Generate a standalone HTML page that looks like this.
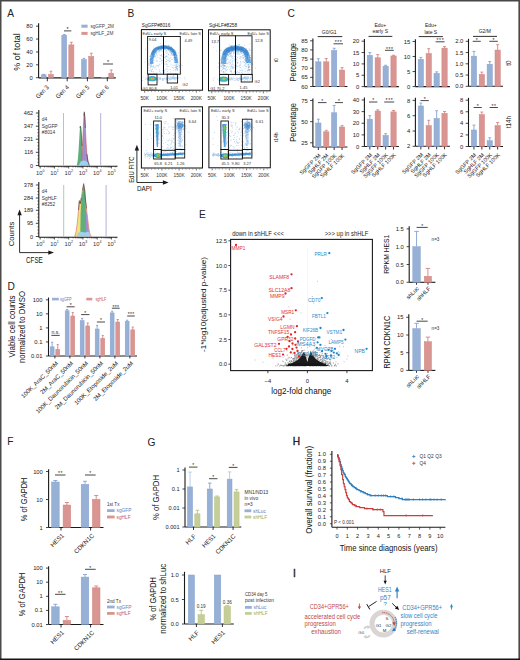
<!DOCTYPE html>
<html><head><meta charset="utf-8"><title>Figure</title>
<style>
html,body{margin:0;padding:0;background:#fff;width:520px;height:660px;overflow:hidden;}
svg{display:block;font-family:"Liberation Sans", sans-serif;}
</style></head><body>
<svg width="520" height="660" viewBox="0 0 520 660" font-family='Liberation Sans, sans-serif'>
<defs><filter id="bl" x="-20%" y="-20%" width="140%" height="140%"><feGaussianBlur stdDeviation="0.7"/></filter><filter id="bl2" x="-50%" y="-50%" width="200%" height="200%"><feGaussianBlur stdDeviation="1.2"/></filter></defs>
<rect x="0" y="0" width="520" height="660" fill="#ffffff"/>
<text x="7.3" y="16.9" font-size="10.2" text-anchor="start" fill="#222">A</text>
<text x="127.6" y="17.2" font-size="10.2" text-anchor="start" fill="#222">B</text>
<text x="287.6" y="17.2" font-size="10.2" text-anchor="start" fill="#222">C</text>
<text x="7.4" y="289.5" font-size="10.2" text-anchor="start" fill="#222">D</text>
<text x="199" y="217.8" font-size="10.2" text-anchor="start" fill="#222">E</text>
<text x="7.2" y="445.2" font-size="10.2" text-anchor="start" fill="#222">F</text>
<text x="147.6" y="445.6" font-size="10.2" text-anchor="start" fill="#222">G</text>
<text x="292.8" y="445.3" font-size="10.2" text-anchor="start" fill="#222" stroke="#222" stroke-width="0.35">H</text>
<text x="292.9" y="577.2" font-size="10.2" text-anchor="start" fill="#222" stroke="#222" stroke-width="0.35">I</text>
<line x1="38.6" y1="23.2" x2="38.6" y2="77.9" stroke="#1a1a1a" stroke-width="1.1"/>
<line x1="36" y1="77.7" x2="38.6" y2="77.7" stroke="#1a1a1a" stroke-width="0.8"/>
<text x="32.8" y="79.79" font-size="5.8" text-anchor="end" fill="#222">0</text>
<line x1="36" y1="64.82" x2="38.6" y2="64.82" stroke="#1a1a1a" stroke-width="0.8"/>
<text x="32.8" y="66.91" font-size="5.8" text-anchor="end" fill="#222">20</text>
<line x1="36" y1="51.94" x2="38.6" y2="51.94" stroke="#1a1a1a" stroke-width="0.8"/>
<text x="32.8" y="54.03" font-size="5.8" text-anchor="end" fill="#222">40</text>
<line x1="36" y1="39.06" x2="38.6" y2="39.06" stroke="#1a1a1a" stroke-width="0.8"/>
<text x="32.8" y="41.15" font-size="5.8" text-anchor="end" fill="#222">60</text>
<line x1="36" y1="26.18" x2="38.6" y2="26.18" stroke="#1a1a1a" stroke-width="0.8"/>
<text x="32.8" y="28.27" font-size="5.8" text-anchor="end" fill="#222">80</text>
<line x1="38.6" y1="77.9" x2="115.8" y2="77.9" stroke="#1a1a1a" stroke-width="1.1"/>
<line x1="47.3" y1="77.9" x2="47.3" y2="81.3" stroke="#1a1a1a" stroke-width="0.9"/>
<line x1="67.2" y1="77.9" x2="67.2" y2="81.3" stroke="#1a1a1a" stroke-width="0.9"/>
<line x1="87.4" y1="77.9" x2="87.4" y2="81.3" stroke="#1a1a1a" stroke-width="0.9"/>
<line x1="107.3" y1="77.9" x2="107.3" y2="81.3" stroke="#1a1a1a" stroke-width="0.9"/>
<line x1="43.7" y1="74.35" x2="43.7" y2="74.8" stroke="#86a2d0" stroke-width="0.9"/>
<line x1="42.38" y1="74.35" x2="45.02" y2="74.35" stroke="#86a2d0" stroke-width="0.9"/>
<rect x="41.3" y="74.8" width="4.8" height="3.1" fill="#97b0d6" stroke="#86a2d0" stroke-width="0.5"/>
<line x1="50.95" y1="71.26" x2="50.95" y2="74.48" stroke="#d28480" stroke-width="0.9"/>
<line x1="49.6" y1="71.26" x2="52.3" y2="71.26" stroke="#d28480" stroke-width="0.9"/>
<rect x="48.5" y="74.48" width="4.9" height="3.42" fill="#d99591" stroke="#d28480" stroke-width="0.5"/>
<line x1="64.25" y1="34.55" x2="64.25" y2="35.2" stroke="#86a2d0" stroke-width="0.9"/>
<line x1="62.9" y1="34.55" x2="65.6" y2="34.55" stroke="#86a2d0" stroke-width="0.9"/>
<rect x="61.8" y="35.2" width="4.9" height="42.7" fill="#97b0d6" stroke="#86a2d0" stroke-width="0.5"/>
<line x1="71.35" y1="42.28" x2="71.35" y2="44.86" stroke="#d28480" stroke-width="0.9"/>
<line x1="69.95" y1="42.28" x2="72.75" y2="42.28" stroke="#d28480" stroke-width="0.9"/>
<rect x="68.8" y="44.86" width="5.1" height="33.04" fill="#d99591" stroke="#d28480" stroke-width="0.5"/>
<line x1="83.9" y1="58.38" x2="83.9" y2="59.67" stroke="#86a2d0" stroke-width="0.9"/>
<line x1="82.58" y1="58.38" x2="85.22" y2="58.38" stroke="#86a2d0" stroke-width="0.9"/>
<rect x="81.5" y="59.67" width="4.8" height="18.23" fill="#97b0d6" stroke="#86a2d0" stroke-width="0.5"/>
<line x1="91.25" y1="53.23" x2="91.25" y2="56.45" stroke="#d28480" stroke-width="0.9"/>
<line x1="89.85" y1="53.23" x2="92.65" y2="53.23" stroke="#d28480" stroke-width="0.9"/>
<rect x="88.7" y="56.45" width="5.1" height="21.45" fill="#d99591" stroke="#d28480" stroke-width="0.5"/>
<rect x="101.6" y="77.31" width="4.9" height="0.59" fill="#97b0d6" stroke="#86a2d0" stroke-width="0.5"/>
<line x1="111.25" y1="69.97" x2="111.25" y2="73.19" stroke="#d28480" stroke-width="0.9"/>
<line x1="109.9" y1="69.97" x2="112.6" y2="69.97" stroke="#d28480" stroke-width="0.9"/>
<rect x="108.8" y="73.19" width="4.9" height="4.71" fill="#d99591" stroke="#d28480" stroke-width="0.5"/>
<line x1="64" y1="30.9" x2="71.3" y2="30.9" stroke="#1a1a1a" stroke-width="0.8"/>
<text x="67.65" y="31.2" font-size="5.5" text-anchor="middle" fill="#222">*</text>
<line x1="103" y1="64" x2="113" y2="64" stroke="#1a1a1a" stroke-width="0.8"/>
<text x="108" y="64.3" font-size="5.5" text-anchor="middle" fill="#222">*</text>
<rect x="81.4" y="24.7" width="6.2" height="3" fill="#97b0d6"/>
<text x="90.4" y="27.8" font-size="4.8" text-anchor="start" fill="#444" textLength="23.6" lengthAdjust="spacingAndGlyphs">sgGFP_2M</text>
<rect x="81.4" y="31.9" width="6.2" height="3" fill="#d99591"/>
<text x="90.4" y="35" font-size="4.8" text-anchor="start" fill="#444" textLength="23" lengthAdjust="spacingAndGlyphs">sgHLF_2M</text>
<text x="49.4" y="87.8" font-size="6.4" text-anchor="end" fill="#222" transform="rotate(-45 49.4 87.8)" textLength="15.8" lengthAdjust="spacingAndGlyphs">Gen 3</text>
<text x="69.5" y="87.8" font-size="6.4" text-anchor="end" fill="#222" transform="rotate(-45 69.5 87.8)" textLength="15.8" lengthAdjust="spacingAndGlyphs">Gen 4</text>
<text x="89.7" y="87.8" font-size="6.4" text-anchor="end" fill="#222" transform="rotate(-45 89.7 87.8)" textLength="15.8" lengthAdjust="spacingAndGlyphs">Gen 5</text>
<text x="109.4" y="87.8" font-size="6.4" text-anchor="end" fill="#222" transform="rotate(-45 109.4 87.8)" textLength="15.8" lengthAdjust="spacingAndGlyphs">Gen 6</text>
<text x="20.3" y="52" font-size="9" text-anchor="middle" fill="#111" transform="rotate(-90 20.3 52)">% of total</text>
<line x1="38.8" y1="110" x2="38.8" y2="166.3" stroke="#1a1a1a" stroke-width="1.1"/>
<line x1="35.8" y1="113" x2="38.8" y2="113" stroke="#1a1a1a" stroke-width="0.8"/>
<text x="33.2" y="115.02" font-size="5.6" text-anchor="end" fill="#222">462</text>
<line x1="35.8" y1="126.2" x2="38.8" y2="126.2" stroke="#1a1a1a" stroke-width="0.8"/>
<text x="33.2" y="128.22" font-size="5.6" text-anchor="end" fill="#222">347</text>
<line x1="35.8" y1="139.2" x2="38.8" y2="139.2" stroke="#1a1a1a" stroke-width="0.8"/>
<text x="33.2" y="141.22" font-size="5.6" text-anchor="end" fill="#222">231</text>
<line x1="35.8" y1="152.3" x2="38.8" y2="152.3" stroke="#1a1a1a" stroke-width="0.8"/>
<text x="33.2" y="154.32" font-size="5.6" text-anchor="end" fill="#222">116</text>
<line x1="35.8" y1="165.5" x2="38.8" y2="165.5" stroke="#1a1a1a" stroke-width="0.8"/>
<text x="33.2" y="167.52" font-size="5.6" text-anchor="end" fill="#222">0</text>
<line x1="37.4" y1="116.28" x2="38.8" y2="116.28" stroke="#1a1a1a" stroke-width="0.6"/>
<line x1="37.4" y1="119.56" x2="38.8" y2="119.56" stroke="#1a1a1a" stroke-width="0.6"/>
<line x1="37.4" y1="122.84" x2="38.8" y2="122.84" stroke="#1a1a1a" stroke-width="0.6"/>
<line x1="37.4" y1="129.41" x2="38.8" y2="129.41" stroke="#1a1a1a" stroke-width="0.6"/>
<line x1="37.4" y1="132.69" x2="38.8" y2="132.69" stroke="#1a1a1a" stroke-width="0.6"/>
<line x1="37.4" y1="135.97" x2="38.8" y2="135.97" stroke="#1a1a1a" stroke-width="0.6"/>
<line x1="37.4" y1="142.53" x2="38.8" y2="142.53" stroke="#1a1a1a" stroke-width="0.6"/>
<line x1="37.4" y1="145.81" x2="38.8" y2="145.81" stroke="#1a1a1a" stroke-width="0.6"/>
<line x1="37.4" y1="149.09" x2="38.8" y2="149.09" stroke="#1a1a1a" stroke-width="0.6"/>
<line x1="37.4" y1="155.66" x2="38.8" y2="155.66" stroke="#1a1a1a" stroke-width="0.6"/>
<line x1="37.4" y1="158.94" x2="38.8" y2="158.94" stroke="#1a1a1a" stroke-width="0.6"/>
<line x1="37.4" y1="162.22" x2="38.8" y2="162.22" stroke="#1a1a1a" stroke-width="0.6"/>
<line x1="38.8" y1="166.3" x2="117.5" y2="166.3" stroke="#1a1a1a" stroke-width="1.1"/>
<line x1="40.2" y1="166.3" x2="40.2" y2="168.5" stroke="#1a1a1a" stroke-width="0.7"/>
<line x1="44.49" y1="166.3" x2="44.49" y2="167.5" stroke="#1a1a1a" stroke-width="0.5"/>
<line x1="47" y1="166.3" x2="47" y2="167.5" stroke="#1a1a1a" stroke-width="0.5"/>
<line x1="48.78" y1="166.3" x2="48.78" y2="167.5" stroke="#1a1a1a" stroke-width="0.5"/>
<line x1="50.16" y1="166.3" x2="50.16" y2="167.5" stroke="#1a1a1a" stroke-width="0.5"/>
<line x1="51.29" y1="166.3" x2="51.29" y2="167.5" stroke="#1a1a1a" stroke-width="0.5"/>
<line x1="52.24" y1="166.3" x2="52.24" y2="167.5" stroke="#1a1a1a" stroke-width="0.5"/>
<line x1="53.07" y1="166.3" x2="53.07" y2="167.5" stroke="#1a1a1a" stroke-width="0.5"/>
<line x1="53.8" y1="166.3" x2="53.8" y2="167.5" stroke="#1a1a1a" stroke-width="0.5"/>
<text x="39.2" y="175.3" font-size="5.8" text-anchor="middle" fill="#333">10</text>
<text x="42.4" y="172.2" font-size="3.6" text-anchor="start" fill="#333">0</text>
<line x1="54.45" y1="166.3" x2="54.45" y2="168.5" stroke="#1a1a1a" stroke-width="0.7"/>
<line x1="58.74" y1="166.3" x2="58.74" y2="167.5" stroke="#1a1a1a" stroke-width="0.5"/>
<line x1="61.25" y1="166.3" x2="61.25" y2="167.5" stroke="#1a1a1a" stroke-width="0.5"/>
<line x1="63.03" y1="166.3" x2="63.03" y2="167.5" stroke="#1a1a1a" stroke-width="0.5"/>
<line x1="64.41" y1="166.3" x2="64.41" y2="167.5" stroke="#1a1a1a" stroke-width="0.5"/>
<line x1="65.54" y1="166.3" x2="65.54" y2="167.5" stroke="#1a1a1a" stroke-width="0.5"/>
<line x1="66.49" y1="166.3" x2="66.49" y2="167.5" stroke="#1a1a1a" stroke-width="0.5"/>
<line x1="67.32" y1="166.3" x2="67.32" y2="167.5" stroke="#1a1a1a" stroke-width="0.5"/>
<line x1="68.05" y1="166.3" x2="68.05" y2="167.5" stroke="#1a1a1a" stroke-width="0.5"/>
<text x="53.45" y="175.3" font-size="5.8" text-anchor="middle" fill="#333">10</text>
<text x="56.65" y="172.2" font-size="3.6" text-anchor="start" fill="#333">1</text>
<line x1="68.7" y1="166.3" x2="68.7" y2="168.5" stroke="#1a1a1a" stroke-width="0.7"/>
<line x1="72.99" y1="166.3" x2="72.99" y2="167.5" stroke="#1a1a1a" stroke-width="0.5"/>
<line x1="75.5" y1="166.3" x2="75.5" y2="167.5" stroke="#1a1a1a" stroke-width="0.5"/>
<line x1="77.28" y1="166.3" x2="77.28" y2="167.5" stroke="#1a1a1a" stroke-width="0.5"/>
<line x1="78.66" y1="166.3" x2="78.66" y2="167.5" stroke="#1a1a1a" stroke-width="0.5"/>
<line x1="79.79" y1="166.3" x2="79.79" y2="167.5" stroke="#1a1a1a" stroke-width="0.5"/>
<line x1="80.74" y1="166.3" x2="80.74" y2="167.5" stroke="#1a1a1a" stroke-width="0.5"/>
<line x1="81.57" y1="166.3" x2="81.57" y2="167.5" stroke="#1a1a1a" stroke-width="0.5"/>
<line x1="82.3" y1="166.3" x2="82.3" y2="167.5" stroke="#1a1a1a" stroke-width="0.5"/>
<text x="67.7" y="175.3" font-size="5.8" text-anchor="middle" fill="#333">10</text>
<text x="70.9" y="172.2" font-size="3.6" text-anchor="start" fill="#333">2</text>
<line x1="82.95" y1="166.3" x2="82.95" y2="168.5" stroke="#1a1a1a" stroke-width="0.7"/>
<line x1="87.24" y1="166.3" x2="87.24" y2="167.5" stroke="#1a1a1a" stroke-width="0.5"/>
<line x1="89.75" y1="166.3" x2="89.75" y2="167.5" stroke="#1a1a1a" stroke-width="0.5"/>
<line x1="91.53" y1="166.3" x2="91.53" y2="167.5" stroke="#1a1a1a" stroke-width="0.5"/>
<line x1="92.91" y1="166.3" x2="92.91" y2="167.5" stroke="#1a1a1a" stroke-width="0.5"/>
<line x1="94.04" y1="166.3" x2="94.04" y2="167.5" stroke="#1a1a1a" stroke-width="0.5"/>
<line x1="94.99" y1="166.3" x2="94.99" y2="167.5" stroke="#1a1a1a" stroke-width="0.5"/>
<line x1="95.82" y1="166.3" x2="95.82" y2="167.5" stroke="#1a1a1a" stroke-width="0.5"/>
<line x1="96.55" y1="166.3" x2="96.55" y2="167.5" stroke="#1a1a1a" stroke-width="0.5"/>
<text x="81.95" y="175.3" font-size="5.8" text-anchor="middle" fill="#333">10</text>
<text x="85.15" y="172.2" font-size="3.6" text-anchor="start" fill="#333">3</text>
<line x1="97.2" y1="166.3" x2="97.2" y2="168.5" stroke="#1a1a1a" stroke-width="0.7"/>
<line x1="101.49" y1="166.3" x2="101.49" y2="167.5" stroke="#1a1a1a" stroke-width="0.5"/>
<line x1="104" y1="166.3" x2="104" y2="167.5" stroke="#1a1a1a" stroke-width="0.5"/>
<line x1="105.78" y1="166.3" x2="105.78" y2="167.5" stroke="#1a1a1a" stroke-width="0.5"/>
<line x1="107.16" y1="166.3" x2="107.16" y2="167.5" stroke="#1a1a1a" stroke-width="0.5"/>
<line x1="108.29" y1="166.3" x2="108.29" y2="167.5" stroke="#1a1a1a" stroke-width="0.5"/>
<line x1="109.24" y1="166.3" x2="109.24" y2="167.5" stroke="#1a1a1a" stroke-width="0.5"/>
<line x1="110.07" y1="166.3" x2="110.07" y2="167.5" stroke="#1a1a1a" stroke-width="0.5"/>
<line x1="110.8" y1="166.3" x2="110.8" y2="167.5" stroke="#1a1a1a" stroke-width="0.5"/>
<text x="96.2" y="175.3" font-size="5.8" text-anchor="middle" fill="#333">10</text>
<text x="99.4" y="172.2" font-size="3.6" text-anchor="start" fill="#333">4</text>
<line x1="111.45" y1="166.3" x2="111.45" y2="168.5" stroke="#1a1a1a" stroke-width="0.7"/>
<line x1="115.74" y1="166.3" x2="115.74" y2="167.5" stroke="#1a1a1a" stroke-width="0.5"/>
<text x="110.45" y="175.3" font-size="5.8" text-anchor="middle" fill="#333">10</text>
<text x="113.65" y="172.2" font-size="3.6" text-anchor="start" fill="#333">5</text>
<line x1="63.5" y1="113" x2="63.5" y2="165.5" stroke="#8cc4a4" stroke-width="0.8"/>
<line x1="100.7" y1="113" x2="100.7" y2="165.5" stroke="#a49ccc" stroke-width="0.8"/>
<text x="41.8" y="121.3" font-size="4.8" text-anchor="start" fill="#333">d4</text>
<text x="41.8" y="127.65" font-size="4.8" text-anchor="start" fill="#333">SgGFP</text>
<text x="41.8" y="134" font-size="4.8" text-anchor="start" fill="#333">#8014</text>
<path d="M76.8 165.5 L77.8 160 L78.6 150 L79.3 138 L79.9 128 L80.3 126.0 L80.9 128 L81.5 136 L82.1 146 L82.8 156 L83.8 165.5 Z" fill="#5fae7c"/>
<path d="M81.2 165.5 L82.0 156 L82.7 142 L83.3 128 L83.9 116 L84.3 113.2 L84.8 117 L85.4 128 L86.1 142 L86.9 154 L87.9 161 L89.3 165.5 Z" fill="#a08ed0" stroke="#d0504a" stroke-width="0.5"/>
<path d="M78.8 165.5 L80.6 161.5 L83.0 160.5 L85.6 160.8 L87.8 162.4 L89.6 165.5 Z" fill="#9fd0ec"/>
<path d="M79.9 128 L80.3 126.0 L80.9 128 L81.5 136 L82.1 146" fill="none" stroke="#222" stroke-width="0.5"/>
<path d="M83.9 116 L84.3 111.8 L84.8 117 L85.4 128" fill="none" stroke="#222" stroke-width="0.5"/>
<path d="M86.9 154 L87.9 161 L89.3 165.5" fill="none" stroke="#222" stroke-width="0.5"/>
<line x1="38.8" y1="182" x2="38.8" y2="237.3" stroke="#1a1a1a" stroke-width="1.1"/>
<line x1="35.8" y1="185" x2="38.8" y2="185" stroke="#1a1a1a" stroke-width="0.8"/>
<text x="33.2" y="187.02" font-size="5.6" text-anchor="end" fill="#222">378</text>
<line x1="35.8" y1="198" x2="38.8" y2="198" stroke="#1a1a1a" stroke-width="0.8"/>
<text x="33.2" y="200.02" font-size="5.6" text-anchor="end" fill="#222">284</text>
<line x1="35.8" y1="210.3" x2="38.8" y2="210.3" stroke="#1a1a1a" stroke-width="0.8"/>
<text x="33.2" y="212.32" font-size="5.6" text-anchor="end" fill="#222">189</text>
<line x1="35.8" y1="223.3" x2="38.8" y2="223.3" stroke="#1a1a1a" stroke-width="0.8"/>
<text x="33.2" y="225.32" font-size="5.6" text-anchor="end" fill="#222">95</text>
<line x1="35.8" y1="236.5" x2="38.8" y2="236.5" stroke="#1a1a1a" stroke-width="0.8"/>
<text x="33.2" y="238.52" font-size="5.6" text-anchor="end" fill="#222">0</text>
<line x1="37.4" y1="188.22" x2="38.8" y2="188.22" stroke="#1a1a1a" stroke-width="0.6"/>
<line x1="37.4" y1="191.44" x2="38.8" y2="191.44" stroke="#1a1a1a" stroke-width="0.6"/>
<line x1="37.4" y1="194.66" x2="38.8" y2="194.66" stroke="#1a1a1a" stroke-width="0.6"/>
<line x1="37.4" y1="201.09" x2="38.8" y2="201.09" stroke="#1a1a1a" stroke-width="0.6"/>
<line x1="37.4" y1="204.31" x2="38.8" y2="204.31" stroke="#1a1a1a" stroke-width="0.6"/>
<line x1="37.4" y1="207.53" x2="38.8" y2="207.53" stroke="#1a1a1a" stroke-width="0.6"/>
<line x1="37.4" y1="213.97" x2="38.8" y2="213.97" stroke="#1a1a1a" stroke-width="0.6"/>
<line x1="37.4" y1="217.19" x2="38.8" y2="217.19" stroke="#1a1a1a" stroke-width="0.6"/>
<line x1="37.4" y1="220.41" x2="38.8" y2="220.41" stroke="#1a1a1a" stroke-width="0.6"/>
<line x1="37.4" y1="226.84" x2="38.8" y2="226.84" stroke="#1a1a1a" stroke-width="0.6"/>
<line x1="37.4" y1="230.06" x2="38.8" y2="230.06" stroke="#1a1a1a" stroke-width="0.6"/>
<line x1="37.4" y1="233.28" x2="38.8" y2="233.28" stroke="#1a1a1a" stroke-width="0.6"/>
<line x1="38.8" y1="237.3" x2="117.5" y2="237.3" stroke="#1a1a1a" stroke-width="1.1"/>
<line x1="40.2" y1="237.3" x2="40.2" y2="239.5" stroke="#1a1a1a" stroke-width="0.7"/>
<line x1="44.49" y1="237.3" x2="44.49" y2="238.5" stroke="#1a1a1a" stroke-width="0.5"/>
<line x1="47" y1="237.3" x2="47" y2="238.5" stroke="#1a1a1a" stroke-width="0.5"/>
<line x1="48.78" y1="237.3" x2="48.78" y2="238.5" stroke="#1a1a1a" stroke-width="0.5"/>
<line x1="50.16" y1="237.3" x2="50.16" y2="238.5" stroke="#1a1a1a" stroke-width="0.5"/>
<line x1="51.29" y1="237.3" x2="51.29" y2="238.5" stroke="#1a1a1a" stroke-width="0.5"/>
<line x1="52.24" y1="237.3" x2="52.24" y2="238.5" stroke="#1a1a1a" stroke-width="0.5"/>
<line x1="53.07" y1="237.3" x2="53.07" y2="238.5" stroke="#1a1a1a" stroke-width="0.5"/>
<line x1="53.8" y1="237.3" x2="53.8" y2="238.5" stroke="#1a1a1a" stroke-width="0.5"/>
<text x="39.2" y="246.3" font-size="5.8" text-anchor="middle" fill="#333">10</text>
<text x="42.4" y="243.2" font-size="3.6" text-anchor="start" fill="#333">0</text>
<line x1="54.45" y1="237.3" x2="54.45" y2="239.5" stroke="#1a1a1a" stroke-width="0.7"/>
<line x1="58.74" y1="237.3" x2="58.74" y2="238.5" stroke="#1a1a1a" stroke-width="0.5"/>
<line x1="61.25" y1="237.3" x2="61.25" y2="238.5" stroke="#1a1a1a" stroke-width="0.5"/>
<line x1="63.03" y1="237.3" x2="63.03" y2="238.5" stroke="#1a1a1a" stroke-width="0.5"/>
<line x1="64.41" y1="237.3" x2="64.41" y2="238.5" stroke="#1a1a1a" stroke-width="0.5"/>
<line x1="65.54" y1="237.3" x2="65.54" y2="238.5" stroke="#1a1a1a" stroke-width="0.5"/>
<line x1="66.49" y1="237.3" x2="66.49" y2="238.5" stroke="#1a1a1a" stroke-width="0.5"/>
<line x1="67.32" y1="237.3" x2="67.32" y2="238.5" stroke="#1a1a1a" stroke-width="0.5"/>
<line x1="68.05" y1="237.3" x2="68.05" y2="238.5" stroke="#1a1a1a" stroke-width="0.5"/>
<text x="53.45" y="246.3" font-size="5.8" text-anchor="middle" fill="#333">10</text>
<text x="56.65" y="243.2" font-size="3.6" text-anchor="start" fill="#333">1</text>
<line x1="68.7" y1="237.3" x2="68.7" y2="239.5" stroke="#1a1a1a" stroke-width="0.7"/>
<line x1="72.99" y1="237.3" x2="72.99" y2="238.5" stroke="#1a1a1a" stroke-width="0.5"/>
<line x1="75.5" y1="237.3" x2="75.5" y2="238.5" stroke="#1a1a1a" stroke-width="0.5"/>
<line x1="77.28" y1="237.3" x2="77.28" y2="238.5" stroke="#1a1a1a" stroke-width="0.5"/>
<line x1="78.66" y1="237.3" x2="78.66" y2="238.5" stroke="#1a1a1a" stroke-width="0.5"/>
<line x1="79.79" y1="237.3" x2="79.79" y2="238.5" stroke="#1a1a1a" stroke-width="0.5"/>
<line x1="80.74" y1="237.3" x2="80.74" y2="238.5" stroke="#1a1a1a" stroke-width="0.5"/>
<line x1="81.57" y1="237.3" x2="81.57" y2="238.5" stroke="#1a1a1a" stroke-width="0.5"/>
<line x1="82.3" y1="237.3" x2="82.3" y2="238.5" stroke="#1a1a1a" stroke-width="0.5"/>
<text x="67.7" y="246.3" font-size="5.8" text-anchor="middle" fill="#333">10</text>
<text x="70.9" y="243.2" font-size="3.6" text-anchor="start" fill="#333">2</text>
<line x1="82.95" y1="237.3" x2="82.95" y2="239.5" stroke="#1a1a1a" stroke-width="0.7"/>
<line x1="87.24" y1="237.3" x2="87.24" y2="238.5" stroke="#1a1a1a" stroke-width="0.5"/>
<line x1="89.75" y1="237.3" x2="89.75" y2="238.5" stroke="#1a1a1a" stroke-width="0.5"/>
<line x1="91.53" y1="237.3" x2="91.53" y2="238.5" stroke="#1a1a1a" stroke-width="0.5"/>
<line x1="92.91" y1="237.3" x2="92.91" y2="238.5" stroke="#1a1a1a" stroke-width="0.5"/>
<line x1="94.04" y1="237.3" x2="94.04" y2="238.5" stroke="#1a1a1a" stroke-width="0.5"/>
<line x1="94.99" y1="237.3" x2="94.99" y2="238.5" stroke="#1a1a1a" stroke-width="0.5"/>
<line x1="95.82" y1="237.3" x2="95.82" y2="238.5" stroke="#1a1a1a" stroke-width="0.5"/>
<line x1="96.55" y1="237.3" x2="96.55" y2="238.5" stroke="#1a1a1a" stroke-width="0.5"/>
<text x="81.95" y="246.3" font-size="5.8" text-anchor="middle" fill="#333">10</text>
<text x="85.15" y="243.2" font-size="3.6" text-anchor="start" fill="#333">3</text>
<line x1="97.2" y1="237.3" x2="97.2" y2="239.5" stroke="#1a1a1a" stroke-width="0.7"/>
<line x1="101.49" y1="237.3" x2="101.49" y2="238.5" stroke="#1a1a1a" stroke-width="0.5"/>
<line x1="104" y1="237.3" x2="104" y2="238.5" stroke="#1a1a1a" stroke-width="0.5"/>
<line x1="105.78" y1="237.3" x2="105.78" y2="238.5" stroke="#1a1a1a" stroke-width="0.5"/>
<line x1="107.16" y1="237.3" x2="107.16" y2="238.5" stroke="#1a1a1a" stroke-width="0.5"/>
<line x1="108.29" y1="237.3" x2="108.29" y2="238.5" stroke="#1a1a1a" stroke-width="0.5"/>
<line x1="109.24" y1="237.3" x2="109.24" y2="238.5" stroke="#1a1a1a" stroke-width="0.5"/>
<line x1="110.07" y1="237.3" x2="110.07" y2="238.5" stroke="#1a1a1a" stroke-width="0.5"/>
<line x1="110.8" y1="237.3" x2="110.8" y2="238.5" stroke="#1a1a1a" stroke-width="0.5"/>
<text x="96.2" y="246.3" font-size="5.8" text-anchor="middle" fill="#333">10</text>
<text x="99.4" y="243.2" font-size="3.6" text-anchor="start" fill="#333">4</text>
<line x1="111.45" y1="237.3" x2="111.45" y2="239.5" stroke="#1a1a1a" stroke-width="0.7"/>
<line x1="115.74" y1="237.3" x2="115.74" y2="238.5" stroke="#1a1a1a" stroke-width="0.5"/>
<text x="110.45" y="246.3" font-size="5.8" text-anchor="middle" fill="#333">10</text>
<text x="113.65" y="243.2" font-size="3.6" text-anchor="start" fill="#333">5</text>
<line x1="63.7" y1="185" x2="63.7" y2="236.5" stroke="#8cc4a4" stroke-width="0.8"/>
<line x1="106.1" y1="185" x2="106.1" y2="236.5" stroke="#a49ccc" stroke-width="0.8"/>
<text x="41.8" y="193.3" font-size="4.8" text-anchor="start" fill="#333">d4</text>
<text x="41.8" y="199.65" font-size="4.8" text-anchor="start" fill="#333">SgHLF</text>
<text x="41.8" y="206" font-size="4.8" text-anchor="start" fill="#333">#8252</text>
<path d="M74.6 236.5 L76.0 232 L77.4 222 L78.5 210 L79.3 202 L80.3 203.5 L81.3 198 L82.5 190 L83.7 185.4 L84.7 190 L85.5 200 L86.5 208.5 L87.6 218 L88.8 228 L90.0 234 L91.2 236.5 Z" fill="#f2e27a" stroke="#d0504a" stroke-width="0.5"/>
<path d="M80.3 236.5 L80.6 214 L81.3 199 L82.5 191 L83.7 186.2 L84.7 191 L85.4 201 L86.0 211 L86.3 236.5 Z" fill="#5fae7c"/>
<path d="M85.9 236.5 L86.0 214 L86.5 209.5 L87.5 218.5 L88.6 228.5 L89.6 236.5 Z" fill="#a08ed0"/>
<path d="M76.2 236.5 L78.5 232.5 L81.5 231.8 L85.0 232.4 L88.5 231.6 L90.6 236.5 Z" fill="#9fd0ec"/>
<path d="M78.5 210 L79.3 200.5 L80.3 203.5 L81.3 198" fill="none" stroke="#222" stroke-width="0.5"/>
<path d="M82.5 190 L83.7 183.6 L84.7 190 L85.5 200 L86.5 208.5" fill="none" stroke="#222" stroke-width="0.5"/>
<line x1="19.6" y1="252.6" x2="19.6" y2="214" stroke="#1a1a1a" stroke-width="0.9"/>
<path d="M19.6 209.5 L17.4 215.2 L21.8 215.2 Z" fill="#1a1a1a"/>
<line x1="19.6" y1="252.6" x2="49" y2="252.6" stroke="#1a1a1a" stroke-width="0.9"/>
<path d="M54 252.6 L48.3 250.4 L48.3 254.8 Z" fill="#1a1a1a"/>
<text x="14.2" y="234" font-size="7.8" text-anchor="middle" fill="#111" transform="rotate(-90 14.2 234)">Counts</text>
<text x="26" y="263" font-size="8.2" text-anchor="start" fill="#111" textLength="16.8" lengthAdjust="spacingAndGlyphs">CFSE</text>
<path d="M167.98 48.53h0.75v0.75h-0.75zM158.81 48.86h0.75v0.75h-0.75zM169.83 49.75h0.75v0.75h-0.75zM174.95 56.63h0.75v0.75h-0.75zM173.19 52.84h0.75v0.75h-0.75zM174.28 59.34h0.75v0.75h-0.75zM167.83 47.78h0.75v0.75h-0.75zM174.73 57.2h0.75v0.75h-0.75zM161.98 47.31h0.75v0.75h-0.75zM154.26 49.47h0.75v0.75h-0.75zM159.87 49.25h0.75v0.75h-0.75zM161.4 46.84h0.75v0.75h-0.75zM173.8 57.14h0.75v0.75h-0.75zM165.5 46.6h0.75v0.75h-0.75zM155.53 49.45h0.75v0.75h-0.75zM155.7 49.83h0.75v0.75h-0.75zM174.84 67.19h0.75v0.75h-0.75zM174.8 64.78h0.75v0.75h-0.75zM163.16 46.85h0.75v0.75h-0.75zM148.68 64.26h0.75v0.75h-0.75zM169.42 51.86h0.75v0.75h-0.75zM174.41 54.91h0.75v0.75h-0.75zM165.29 48.4h0.75v0.75h-0.75zM170.94 47.31h0.75v0.75h-0.75zM158.17 49.75h0.75v0.75h-0.75zM153.22 51.5h0.75v0.75h-0.75zM175.81 67.35h0.75v0.75h-0.75zM170.71 49.32h0.75v0.75h-0.75zM155.7 51.79h0.75v0.75h-0.75zM175.86 57.47h0.75v0.75h-0.75zM160.82 44.91h0.75v0.75h-0.75zM171.03 50.93h0.75v0.75h-0.75zM159.77 47.39h0.75v0.75h-0.75zM158.24 47.33h0.75v0.75h-0.75zM170.16 50.39h0.75v0.75h-0.75zM166.47 46.92h0.75v0.75h-0.75zM171.11 48.38h0.75v0.75h-0.75zM169.03 50.48h0.75v0.75h-0.75zM155.75 52.43h0.75v0.75h-0.75zM167.17 48.55h0.75v0.75h-0.75zM170.82 48.17h0.75v0.75h-0.75zM168.26 48h0.75v0.75h-0.75zM171.83 50.93h0.75v0.75h-0.75zM168.29 49.6h0.75v0.75h-0.75zM166.27 46.96h0.75v0.75h-0.75zM171.95 51.05h0.75v0.75h-0.75zM171.2 53.05h0.75v0.75h-0.75zM176.64 59.86h0.75v0.75h-0.75zM162.17 48.16h0.75v0.75h-0.75zM153.29 66.97h0.75v0.75h-0.75zM174.42 54.49h0.75v0.75h-0.75zM165.88 45.51h0.75v0.75h-0.75zM157.99 51.47h0.75v0.75h-0.75zM170.51 51.35h0.75v0.75h-0.75zM150.09 66.28h0.75v0.75h-0.75zM175.46 59.04h0.75v0.75h-0.75zM176.18 63.7h0.75v0.75h-0.75zM167.64 47.33h0.75v0.75h-0.75zM169.01 45.45h0.75v0.75h-0.75zM157.83 49.65h0.75v0.75h-0.75zM159.82 49.72h0.75v0.75h-0.75zM160.87 48.53h0.75v0.75h-0.75zM157.88 47.85h0.75v0.75h-0.75zM152.71 51.96h0.75v0.75h-0.75zM175.75 57.57h0.75v0.75h-0.75zM152.07 57.77h0.75v0.75h-0.75zM153.32 50.75h0.75v0.75h-0.75zM153.28 55.46h0.75v0.75h-0.75zM175.43 52.05h0.75v0.75h-0.75zM160.58 47.56h0.75v0.75h-0.75zM154.65 48.33h0.75v0.75h-0.75zM173.83 51.32h0.75v0.75h-0.75zM171.85 49.95h0.75v0.75h-0.75zM174.88 57.7h0.75v0.75h-0.75zM150.96 59.24h0.75v0.75h-0.75zM158.42 48.58h0.75v0.75h-0.75zM156.32 48.46h0.75v0.75h-0.75zM150.22 58.1h0.75v0.75h-0.75zM167.5 47.78h0.75v0.75h-0.75zM166.87 47.52h0.75v0.75h-0.75zM149.79 65.16h0.75v0.75h-0.75zM150.76 66.43h0.75v0.75h-0.75zM155.15 51.76h0.75v0.75h-0.75zM155.93 48.41h0.75v0.75h-0.75zM177.36 66.19h0.75v0.75h-0.75zM174.58 56.42h0.75v0.75h-0.75zM156.62 50.06h0.75v0.75h-0.75zM171.29 51.12h0.75v0.75h-0.75zM161.39 46.53h0.75v0.75h-0.75zM155.54 51.22h0.75v0.75h-0.75zM170.12 50.03h0.75v0.75h-0.75zM174.72 56.38h0.75v0.75h-0.75zM174.66 57.92h0.75v0.75h-0.75zM153.28 58.83h0.75v0.75h-0.75zM169.27 47.35h0.75v0.75h-0.75zM153.41 55.01h0.75v0.75h-0.75zM170.57 47.2h0.75v0.75h-0.75zM169.92 48.66h0.75v0.75h-0.75zM153.73 53.58h0.75v0.75h-0.75zM168.35 49.73h0.75v0.75h-0.75zM165.67 46.84h0.75v0.75h-0.75zM151.11 55.88h0.75v0.75h-0.75zM153.1 56.89h0.75v0.75h-0.75zM161.66 45.8h0.75v0.75h-0.75zM153.84 55.44h0.75v0.75h-0.75zM159.55 50.84h0.75v0.75h-0.75zM152.23 62.38h0.75v0.75h-0.75zM156.24 53.43h0.75v0.75h-0.75zM170.59 48.52h0.75v0.75h-0.75zM150.56 69.28h0.75v0.75h-0.75zM174.32 54.82h0.75v0.75h-0.75zM174.49 59.8h0.75v0.75h-0.75zM164.33 45.04h0.75v0.75h-0.75zM174.95 53.8h0.75v0.75h-0.75zM170.01 48.3h0.75v0.75h-0.75zM156.59 49.92h0.75v0.75h-0.75zM165.54 46.62h0.75v0.75h-0.75zM153.23 55.77h0.75v0.75h-0.75zM169.16 48.18h0.75v0.75h-0.75zM172.1 49.31h0.75v0.75h-0.75zM166.38 46.4h0.75v0.75h-0.75zM175.72 59.21h0.75v0.75h-0.75zM168.7 46.2h0.75v0.75h-0.75zM167.51 46.93h0.75v0.75h-0.75zM161.79 44.84h0.75v0.75h-0.75zM151.81 58.02h0.75v0.75h-0.75zM172.66 54.04h0.75v0.75h-0.75zM163.8 48.25h0.75v0.75h-0.75zM159.61 50.67h0.75v0.75h-0.75zM176.51 56.95h0.75v0.75h-0.75zM169.16 48.52h0.75v0.75h-0.75zM154.64 60.19h0.75v0.75h-0.75zM166.94 48.26h0.75v0.75h-0.75zM162.47 46.98h0.75v0.75h-0.75zM159.38 46.83h0.75v0.75h-0.75zM166.03 50.04h0.75v0.75h-0.75zM172.55 51.6h0.75v0.75h-0.75zM174.32 52.3h0.75v0.75h-0.75zM148.55 69.72h0.75v0.75h-0.75zM165.19 48.44h0.75v0.75h-0.75zM176.65 68.64h0.75v0.75h-0.75zM176.07 55.68h0.75v0.75h-0.75zM176.58 61.14h0.75v0.75h-0.75zM175.07 57.65h0.75v0.75h-0.75zM171.34 50.48h0.75v0.75h-0.75zM156.18 53.3h0.75v0.75h-0.75zM178.3 65.45h0.75v0.75h-0.75zM177.24 68.91h0.75v0.75h-0.75zM172.89 50.88h0.75v0.75h-0.75zM157.2 47.1h0.75v0.75h-0.75zM153.36 54.99h0.75v0.75h-0.75zM167.74 48.84h0.75v0.75h-0.75zM164.01 45.83h0.75v0.75h-0.75zM154.94 51.06h0.75v0.75h-0.75zM173.16 49.85h0.75v0.75h-0.75zM168.84 48.23h0.75v0.75h-0.75zM155.44 47.41h0.75v0.75h-0.75zM149.6 70.01h0.75v0.75h-0.75zM176.65 54.91h0.75v0.75h-0.75zM158.73 47.89h0.75v0.75h-0.75zM170.94 51.97h0.75v0.75h-0.75zM159.07 46.73h0.75v0.75h-0.75zM172.24 50.9h0.75v0.75h-0.75zM165.58 49.5h0.75v0.75h-0.75zM160.41 47.06h0.75v0.75h-0.75zM174.83 69.02h0.75v0.75h-0.75zM173.38 66.72h0.75v0.75h-0.75zM153.07 54.41h0.75v0.75h-0.75zM168.23 45.2h0.75v0.75h-0.75zM175.38 66.7h0.75v0.75h-0.75zM168.52 48.94h0.75v0.75h-0.75zM173.67 59.93h0.75v0.75h-0.75zM153.67 52.01h0.75v0.75h-0.75zM149.32 59.05h0.75v0.75h-0.75zM169.74 50.63h0.75v0.75h-0.75zM155.18 52.36h0.75v0.75h-0.75zM170.9 52.63h0.75v0.75h-0.75zM165.86 47.3h0.75v0.75h-0.75zM160.43 46.25h0.75v0.75h-0.75zM153 56.34h0.75v0.75h-0.75zM153.43 66.23h0.75v0.75h-0.75zM161.64 47.1h0.75v0.75h-0.75zM161.89 48.28h0.75v0.75h-0.75zM166.12 47.06h0.75v0.75h-0.75zM163.64 46.32h0.75v0.75h-0.75zM152.06 59.39h0.75v0.75h-0.75zM167.04 47.01h0.75v0.75h-0.75zM165.16 45.09h0.75v0.75h-0.75zM173.54 53.74h0.75v0.75h-0.75zM163.21 48.97h0.75v0.75h-0.75zM163.08 46.56h0.75v0.75h-0.75zM171.97 54.64h0.75v0.75h-0.75zM170.06 52.05h0.75v0.75h-0.75zM171.17 48.04h0.75v0.75h-0.75zM158.5 46.35h0.75v0.75h-0.75zM161.7 47.58h0.75v0.75h-0.75zM164.5 46.41h0.75v0.75h-0.75zM152.91 49.86h0.75v0.75h-0.75zM158.69 49.85h0.75v0.75h-0.75zM165.4 46.41h0.75v0.75h-0.75zM169.84 51.33h0.75v0.75h-0.75zM155.5 51.83h0.75v0.75h-0.75zM153.57 56.24h0.75v0.75h-0.75zM166.5 47.04h0.75v0.75h-0.75zM174.97 54.93h0.75v0.75h-0.75zM156.19 47.38h0.75v0.75h-0.75zM167.24 47.52h0.75v0.75h-0.75zM170.33 51.79h0.75v0.75h-0.75zM158.63 48.78h0.75v0.75h-0.75zM153.62 55.92h0.75v0.75h-0.75zM163.75 46.83h0.75v0.75h-0.75zM177.08 55.1h0.75v0.75h-0.75zM170.88 47.99h0.75v0.75h-0.75zM167.92 53.67h0.75v0.75h-0.75zM153.16 51.12h0.75v0.75h-0.75zM172.87 53.89h0.75v0.75h-0.75zM150.19 59.35h0.75v0.75h-0.75zM158.31 46.3h0.75v0.75h-0.75zM169.56 47.96h0.75v0.75h-0.75zM176.54 60.72h0.75v0.75h-0.75zM150.79 62.77h0.75v0.75h-0.75zM157.09 47.71h0.75v0.75h-0.75zM154.69 55.49h0.75v0.75h-0.75zM163.54 49.09h0.75v0.75h-0.75zM172.07 50.15h0.75v0.75h-0.75zM175.5 57.67h0.75v0.75h-0.75zM170.89 50.99h0.75v0.75h-0.75zM168.99 47.86h0.75v0.75h-0.75zM162.63 46.38h0.75v0.75h-0.75zM160.13 47.63h0.75v0.75h-0.75zM151.14 63.46h0.75v0.75h-0.75zM155.02 50.25h0.75v0.75h-0.75zM155.13 56.56h0.75v0.75h-0.75zM153.01 64.97h0.75v0.75h-0.75zM154.14 55.75h0.75v0.75h-0.75zM153.89 53.91h0.75v0.75h-0.75zM151.72 60.38h0.75v0.75h-0.75zM175.01 51.21h0.75v0.75h-0.75zM171.78 58.89h0.75v0.75h-0.75zM150.12 59.87h0.75v0.75h-0.75zM177.57 60.88h0.75v0.75h-0.75zM156.28 51.15h0.75v0.75h-0.75zM171.51 46.83h0.75v0.75h-0.75zM153.26 56.7h0.75v0.75h-0.75zM152.63 54.76h0.75v0.75h-0.75zM159.31 50.48h0.75v0.75h-0.75zM175.15 56.99h0.75v0.75h-0.75zM151.74 54.98h0.75v0.75h-0.75zM165.55 48.33h0.75v0.75h-0.75zM170.33 47.15h0.75v0.75h-0.75zM155.49 48.33h0.75v0.75h-0.75zM173.37 51.19h0.75v0.75h-0.75zM152 60.85h0.75v0.75h-0.75zM173.43 53.73h0.75v0.75h-0.75zM163.71 46h0.75v0.75h-0.75zM151.97 55.84h0.75v0.75h-0.75zM157.63 51.56h0.75v0.75h-0.75zM169.03 48.3h0.75v0.75h-0.75zM150.16 64.05h0.75v0.75h-0.75zM151.59 53.73h0.75v0.75h-0.75zM167.86 50.11h0.75v0.75h-0.75zM150.77 66.28h0.75v0.75h-0.75zM153.19 53.52h0.75v0.75h-0.75zM175.24 69.44h0.75v0.75h-0.75zM174.11 51.49h0.75v0.75h-0.75zM162.89 45.46h0.75v0.75h-0.75zM149.94 55.39h0.75v0.75h-0.75zM151.97 56.44h0.75v0.75h-0.75zM158.26 48.32h0.75v0.75h-0.75zM156.97 47.59h0.75v0.75h-0.75zM149.58 62.51h0.75v0.75h-0.75zM177.78 63.77h0.75v0.75h-0.75zM150.32 59.69h0.75v0.75h-0.75zM169.71 51.14h0.75v0.75h-0.75zM174.87 52.77h0.75v0.75h-0.75zM173.78 64.75h0.75v0.75h-0.75zM176.89 59.91h0.75v0.75h-0.75zM170.21 51.03h0.75v0.75h-0.75zM172.72 55.31h0.75v0.75h-0.75zM163.37 47.84h0.75v0.75h-0.75zM150.78 58.61h0.75v0.75h-0.75zM170.89 48.67h0.75v0.75h-0.75zM155.6 52.49h0.75v0.75h-0.75zM175.27 56.92h0.75v0.75h-0.75zM173.5 55h0.75v0.75h-0.75zM160.69 45.65h0.75v0.75h-0.75zM164.1 47.1h0.75v0.75h-0.75zM160.76 49.64h0.75v0.75h-0.75zM160.14 49.01h0.75v0.75h-0.75zM174.57 58h0.75v0.75h-0.75zM160.35 47.16h0.75v0.75h-0.75zM156.9 49.54h0.75v0.75h-0.75zM162.62 46.5h0.75v0.75h-0.75zM170.56 47.47h0.75v0.75h-0.75zM163.92 46.67h0.75v0.75h-0.75zM162.62 46.6h0.75v0.75h-0.75zM176.55 65.06h0.75v0.75h-0.75zM154.02 52.43h0.75v0.75h-0.75zM168.01 48.39h0.75v0.75h-0.75zM158.95 50.28h0.75v0.75h-0.75zM152.02 52.62h0.75v0.75h-0.75zM172.55 49.28h0.75v0.75h-0.75zM157.74 48.45h0.75v0.75h-0.75zM159.57 48.77h0.75v0.75h-0.75zM173.98 56.52h0.75v0.75h-0.75zM173.54 49.09h0.75v0.75h-0.75zM163.55 45.37h0.75v0.75h-0.75zM152.22 51.67h0.75v0.75h-0.75zM153.15 73.53h0.75v0.75h-0.75zM160.94 49.95h0.75v0.75h-0.75zM154.49 50.56h0.75v0.75h-0.75zM173.21 54.94h0.75v0.75h-0.75zM153.82 55.83h0.75v0.75h-0.75zM157.2 48.16h0.75v0.75h-0.75zM164.12 49.22h0.75v0.75h-0.75zM159.43 49.97h0.75v0.75h-0.75zM174.88 65.69h0.75v0.75h-0.75zM159.66 47.77h0.75v0.75h-0.75zM166.04 45.92h0.75v0.75h-0.75zM162.8 46.2h0.75v0.75h-0.75zM169.31 45.69h0.75v0.75h-0.75zM152.74 53.65h0.75v0.75h-0.75zM173.22 55.03h0.75v0.75h-0.75zM166.74 45.6h0.75v0.75h-0.75zM159.91 48.07h0.75v0.75h-0.75zM171.95 51.66h0.75v0.75h-0.75zM158.15 49.11h0.75v0.75h-0.75zM160.25 47.28h0.75v0.75h-0.75zM168.39 47.79h0.75v0.75h-0.75zM161.46 48.39h0.75v0.75h-0.75zM165.69 47.68h0.75v0.75h-0.75zM175.54 53.03h0.75v0.75h-0.75zM168.44 49.72h0.75v0.75h-0.75zM169.4 50.45h0.75v0.75h-0.75zM165.6 45.16h0.75v0.75h-0.75zM175.72 64.08h0.75v0.75h-0.75zM158.23 47.24h0.75v0.75h-0.75zM174.59 53.64h0.75v0.75h-0.75zM171.25 54.25h0.75v0.75h-0.75zM167.7 46.6h0.75v0.75h-0.75zM161.54 46.27h0.75v0.75h-0.75zM163.46 47.47h0.75v0.75h-0.75zM175.92 62.38h0.75v0.75h-0.75zM161.33 50.78h0.75v0.75h-0.75zM163.44 48.27h0.75v0.75h-0.75zM157.45 48.82h0.75v0.75h-0.75zM156.14 51.75h0.75v0.75h-0.75zM168.95 47.7h0.75v0.75h-0.75zM175.67 54.17h0.75v0.75h-0.75zM160.37 48.75h0.75v0.75h-0.75zM164.56 46.54h0.75v0.75h-0.75zM153.85 48.92h0.75v0.75h-0.75zM159.53 50.02h0.75v0.75h-0.75zM150.18 62.26h0.75v0.75h-0.75zM164.11 46.62h0.75v0.75h-0.75zM156.89 49.84h0.75v0.75h-0.75zM159.85 46.63h0.75v0.75h-0.75zM154.72 51.71h0.75v0.75h-0.75zM160.51 47.69h0.75v0.75h-0.75zM176.41 67.03h0.75v0.75h-0.75zM165.06 48.93h0.75v0.75h-0.75zM157.21 48.67h0.75v0.75h-0.75zM177.38 62.78h0.75v0.75h-0.75zM175.58 60.09h0.75v0.75h-0.75zM163.78 46.51h0.75v0.75h-0.75zM170.47 51.74h0.75v0.75h-0.75zM155.65 48.36h0.75v0.75h-0.75zM172.55 51.91h0.75v0.75h-0.75zM150.28 60.33h0.75v0.75h-0.75zM151.13 63.46h0.75v0.75h-0.75zM167.78 47.74h0.75v0.75h-0.75zM158.53 48.65h0.75v0.75h-0.75zM173.08 57.7h0.75v0.75h-0.75zM159.49 47.44h0.75v0.75h-0.75zM174.18 54.93h0.75v0.75h-0.75zM170.64 45.72h0.75v0.75h-0.75zM155.25 53.5h0.75v0.75h-0.75zM169.73 47.04h0.75v0.75h-0.75zM162.16 47.63h0.75v0.75h-0.75zM173.84 51.93h0.75v0.75h-0.75zM162.67 50.72h0.75v0.75h-0.75zM164.75 56.54h0.75v0.75h-0.75zM164.9 68.67h0.75v0.75h-0.75zM148.77 65.27h0.75v0.75h-0.75zM149.32 55.89h0.75v0.75h-0.75zM163.53 69.42h0.75v0.75h-0.75zM168.32 54.17h0.75v0.75h-0.75zM164.17 72.11h0.75v0.75h-0.75zM176.6 63.97h0.75v0.75h-0.75zM170.76 63.67h0.75v0.75h-0.75zM166.43 55.6h0.75v0.75h-0.75zM158.47 65.42h0.75v0.75h-0.75zM157.71 66.44h0.75v0.75h-0.75zM162.81 66.33h0.75v0.75h-0.75zM156.18 59.76h0.75v0.75h-0.75zM163 50.47h0.75v0.75h-0.75zM150.28 66.36h0.75v0.75h-0.75zM159.61 64.45h0.75v0.75h-0.75zM159.4 51.36h0.75v0.75h-0.75zM163.09 70.18h0.75v0.75h-0.75zM163.59 59.88h0.75v0.75h-0.75zM160.2 55.61h0.75v0.75h-0.75zM166.61 65.97h0.75v0.75h-0.75zM166.72 55.98h0.75v0.75h-0.75zM163.79 54.5h0.75v0.75h-0.75zM170.61 54.88h0.75v0.75h-0.75zM166.13 55.67h0.75v0.75h-0.75zM164.33 63.48h0.75v0.75h-0.75zM163.31 69.66h0.75v0.75h-0.75zM172.87 70.34h0.75v0.75h-0.75zM155.3 53.26h0.75v0.75h-0.75zM157.31 55.26h0.75v0.75h-0.75zM166.98 68.79h0.75v0.75h-0.75zM167.32 59.68h0.75v0.75h-0.75zM176.92 69.79h0.75v0.75h-0.75zM147.77 64.51h0.75v0.75h-0.75zM161.06 54.06h0.75v0.75h-0.75zM148.51 67.59h0.75v0.75h-0.75zM175.21 72.93h0.75v0.75h-0.75zM171.7 54.11h0.75v0.75h-0.75zM179.94 56.61h0.75v0.75h-0.75zM162.19 60.56h0.75v0.75h-0.75zM167.18 71.19h0.75v0.75h-0.75zM168.47 59.55h0.75v0.75h-0.75zM150.98 69.79h0.75v0.75h-0.75zM161.05 62.68h0.75v0.75h-0.75zM165.87 61.32h0.75v0.75h-0.75zM154.02 56.26h0.75v0.75h-0.75zM159.86 58.72h0.75v0.75h-0.75zM171.36 59.25h0.75v0.75h-0.75zM166.95 52.15h0.75v0.75h-0.75zM155.91 65.47h0.75v0.75h-0.75zM156.9 60.51h0.75v0.75h-0.75zM166.69 64.41h0.75v0.75h-0.75zM154.12 67.53h0.75v0.75h-0.75zM158.13 51.54h0.75v0.75h-0.75zM162.66 71.84h0.75v0.75h-0.75zM169.98 71.8h0.75v0.75h-0.75zM159.35 51.39h0.75v0.75h-0.75zM161.41 59.46h0.75v0.75h-0.75zM164.37 71.53h0.75v0.75h-0.75zM160.41 72.27h0.75v0.75h-0.75zM161.69 55.69h0.75v0.75h-0.75zM174 61.92h0.75v0.75h-0.75zM174.77 70.38h0.75v0.75h-0.75zM166.16 51.01h0.75v0.75h-0.75zM165.54 63.93h0.75v0.75h-0.75zM165.2 61.04h0.75v0.75h-0.75zM172.64 64.78h0.75v0.75h-0.75zM161.37 55.66h0.75v0.75h-0.75zM170.51 57.61h0.75v0.75h-0.75zM169.09 61.32h0.75v0.75h-0.75zM175.34 50.06h0.75v0.75h-0.75zM170.06 57.39h0.75v0.75h-0.75zM161.02 60.28h0.75v0.75h-0.75zM166.24 60.91h0.75v0.75h-0.75zM166.03 56.14h0.75v0.75h-0.75zM157.77 50.63h0.75v0.75h-0.75zM160.67 60.96h0.75v0.75h-0.75zM155.72 57.65h0.75v0.75h-0.75zM152.9 61.89h0.75v0.75h-0.75zM167.77 57.55h0.75v0.75h-0.75zM154.92 50.88h0.75v0.75h-0.75zM164.49 57.22h0.75v0.75h-0.75zM158.99 63.72h0.75v0.75h-0.75zM170.52 63.79h0.75v0.75h-0.75zM166.09 59.33h0.75v0.75h-0.75zM166.35 50.38h0.75v0.75h-0.75zM169.36 60.56h0.75v0.75h-0.75zM164.31 70.35h0.75v0.75h-0.75zM155.73 68.77h0.75v0.75h-0.75zM163.74 54.38h0.75v0.75h-0.75zM166.27 63.42h0.75v0.75h-0.75zM163.12 72.25h0.75v0.75h-0.75zM165.49 57.87h0.75v0.75h-0.75zM155.09 52.85h0.75v0.75h-0.75zM165.17 51.63h0.75v0.75h-0.75zM178.34 52.8h0.75v0.75h-0.75zM157.38 57.12h0.75v0.75h-0.75zM157.58 51.75h0.75v0.75h-0.75zM181.76 65.1h0.75v0.75h-0.75zM168.5 66.34h0.75v0.75h-0.75zM176.18 65.25h0.75v0.75h-0.75zM172.02 67.05h0.75v0.75h-0.75zM153.75 54.87h0.75v0.75h-0.75zM173.82 54.43h0.75v0.75h-0.75zM165.08 55.99h0.75v0.75h-0.75zM158.68 69.19h0.75v0.75h-0.75zM168.11 60.24h0.75v0.75h-0.75zM166.13 68.52h0.75v0.75h-0.75zM167.04 60.12h0.75v0.75h-0.75zM155.32 65.93h0.75v0.75h-0.75zM178.81 65.28h0.75v0.75h-0.75zM162.6 62.66h0.75v0.75h-0.75zM170.2 69.38h0.75v0.75h-0.75zM152.18 60.91h0.75v0.75h-0.75zM155.21 51.33h0.75v0.75h-0.75zM167.34 66.46h0.75v0.75h-0.75zM169.17 58.56h0.75v0.75h-0.75zM159 70.97h0.75v0.75h-0.75zM168.56 69.19h0.75v0.75h-0.75zM159 57.77h0.75v0.75h-0.75zM159.77 54.91h0.75v0.75h-0.75zM158.88 53.72h0.75v0.75h-0.75zM156.5 72.41h0.75v0.75h-0.75zM153.97 51.26h0.75v0.75h-0.75zM163.92 71.44h0.75v0.75h-0.75zM170.81 65.64h0.75v0.75h-0.75zM168.19 54.56h0.75v0.75h-0.75zM179.48 65.86h0.75v0.75h-0.75zM161.99 69.89h0.75v0.75h-0.75zM166.16 55.42h0.75v0.75h-0.75zM158.04 65.06h0.75v0.75h-0.75zM164.03 57.32h0.75v0.75h-0.75zM170.16 60.66h0.75v0.75h-0.75zM165.49 62.38h0.75v0.75h-0.75zM157.57 64.74h0.75v0.75h-0.75zM156.55 61.26h0.75v0.75h-0.75zM159.41 61.31h0.75v0.75h-0.75zM155.84 54.19h0.75v0.75h-0.75zM156.68 64.98h0.75v0.75h-0.75zM177.67 62.38h0.75v0.75h-0.75zM159.46 73.52h0.75v0.75h-0.75zM176.52 51.69h0.75v0.75h-0.75zM180.14 71.02h0.75v0.75h-0.75zM166.44 53.3h0.75v0.75h-0.75zM148.28 63.12h0.75v0.75h-0.75zM173.24 68.26h0.75v0.75h-0.75zM169.77 53.73h0.75v0.75h-0.75zM155.48 55.48h0.75v0.75h-0.75zM177.28 62.07h0.75v0.75h-0.75zM162.79 43.54h0.75v0.75h-0.75zM146.57 58.53h0.75v0.75h-0.75zM146.99 42.98h0.75v0.75h-0.75zM153.1 47.61h0.75v0.75h-0.75zM167.63 61.78h0.75v0.75h-0.75zM175.46 74.21h0.75v0.75h-0.75zM148.17 75.18h0.75v0.75h-0.75zM145.25 48.88h0.75v0.75h-0.75zM168.12 44.81h0.75v0.75h-0.75zM160 58.06h0.75v0.75h-0.75zM161.23 55.31h0.75v0.75h-0.75zM175.67 53.11h0.75v0.75h-0.75zM179.41 66.96h0.75v0.75h-0.75zM181.25 64.86h0.75v0.75h-0.75zM174.09 59.6h0.75v0.75h-0.75zM144.52 61.72h0.75v0.75h-0.75zM150.13 60.31h0.75v0.75h-0.75zM166.78 63.7h0.75v0.75h-0.75zM180.8 72.63h0.75v0.75h-0.75zM147.5 73.3h0.75v0.75h-0.75zM164.02 74.47h0.75v0.75h-0.75zM159.51 70.21h0.75v0.75h-0.75zM159.9 43.33h0.75v0.75h-0.75zM154.63 55.68h0.75v0.75h-0.75zM154.72 67.42h0.75v0.75h-0.75zM153.48 50.08h0.75v0.75h-0.75zM148.33 61.2h0.75v0.75h-0.75zM165.51 41.57h0.75v0.75h-0.75zM161.39 46.85h0.75v0.75h-0.75zM156.28 77.91h0.75v0.75h-0.75zM154 78.57h0.75v0.75h-0.75zM168.31 77.86h0.75v0.75h-0.75zM169.4 79.37h0.75v0.75h-0.75zM169.38 77.87h0.75v0.75h-0.75zM153.39 79.38h0.75v0.75h-0.75zM159.98 78.46h0.75v0.75h-0.75zM169.78 79.27h0.75v0.75h-0.75zM154.6 78.01h0.75v0.75h-0.75zM153.76 78.05h0.75v0.75h-0.75zM167.95 77.46h0.75v0.75h-0.75zM174.56 79.02h0.75v0.75h-0.75zM150.13 79.34h0.75v0.75h-0.75zM147.45 79.66h0.75v0.75h-0.75zM151.39 78.72h0.75v0.75h-0.75zM159.26 78.31h0.75v0.75h-0.75zM166.04 78.85h0.75v0.75h-0.75zM159.18 78.48h0.75v0.75h-0.75zM154.2 79.82h0.75v0.75h-0.75zM161.88 79.35h0.75v0.75h-0.75zM151.84 77.75h0.75v0.75h-0.75zM160.08 77.88h0.75v0.75h-0.75zM154.73 79.73h0.75v0.75h-0.75zM184.62 78.78h0.75v0.75h-0.75zM167.85 78.29h0.75v0.75h-0.75zM152.98 79.57h0.75v0.75h-0.75zM151.53 78.15h0.75v0.75h-0.75zM156.56 78.25h0.75v0.75h-0.75zM145.7 78.08h0.75v0.75h-0.75zM153.93 76.73h0.75v0.75h-0.75zM153.86 79.28h0.75v0.75h-0.75zM168.46 77.41h0.75v0.75h-0.75zM156.66 77.99h0.75v0.75h-0.75zM153.39 77.83h0.75v0.75h-0.75zM148.44 79.15h0.75v0.75h-0.75zM149.91 78.44h0.75v0.75h-0.75zM159.9 78.51h0.75v0.75h-0.75zM158.56 76.99h0.75v0.75h-0.75zM170.71 78.42h0.75v0.75h-0.75zM154.84 77.17h0.75v0.75h-0.75zM170.03 78.78h0.75v0.75h-0.75zM162.81 78.83h0.75v0.75h-0.75zM160.46 78.48h0.75v0.75h-0.75zM142.43 80.34h0.75v0.75h-0.75zM148.89 78.97h0.75v0.75h-0.75zM167.17 79.04h0.75v0.75h-0.75zM173.08 78.63h0.75v0.75h-0.75zM162.36 78.33h0.75v0.75h-0.75zM167.36 79.37h0.75v0.75h-0.75zM156.83 79.49h0.75v0.75h-0.75zM157.16 77.33h0.75v0.75h-0.75zM154.53 79.45h0.75v0.75h-0.75zM169.27 78.96h0.75v0.75h-0.75zM163.59 79.36h0.75v0.75h-0.75zM158.39 78.92h0.75v0.75h-0.75zM157.54 77.38h0.75v0.75h-0.75zM165.51 77.44h0.75v0.75h-0.75zM163.41 80.14h0.75v0.75h-0.75zM153.01 78.73h0.75v0.75h-0.75zM175.94 77.22h0.75v0.75h-0.75zM162.81 78.81h0.75v0.75h-0.75zM160.59 78.17h0.75v0.75h-0.75zM173.8 76.84h0.75v0.75h-0.75zM169.72 76.44h0.75v0.75h-0.75zM159.71 77.06h0.75v0.75h-0.75zM165.32 78.74h0.75v0.75h-0.75zM150.87 78.46h0.75v0.75h-0.75zM154.73 78.28h0.75v0.75h-0.75zM171.48 79.04h0.75v0.75h-0.75zM143.41 76.61h0.75v0.75h-0.75zM166.63 78.23h0.75v0.75h-0.75zM153.02 77.75h0.75v0.75h-0.75zM151.69 77.39h0.75v0.75h-0.75zM158.74 78.01h0.75v0.75h-0.75zM162.9 78.39h0.75v0.75h-0.75zM166.01 78.26h0.75v0.75h-0.75zM176.44 77.19h0.75v0.75h-0.75zM163.73 78.07h0.75v0.75h-0.75zM168.43 80.31h0.75v0.75h-0.75zM155.11 77.55h0.75v0.75h-0.75zM166.92 76.98h0.75v0.75h-0.75zM161.88 78.75h0.75v0.75h-0.75zM156.33 79.04h0.75v0.75h-0.75zM159.64 78.92h0.75v0.75h-0.75zM159.94 77.49h0.75v0.75h-0.75zM162.22 79.4h0.75v0.75h-0.75zM164.11 77.79h0.75v0.75h-0.75zM155.92 77.48h0.75v0.75h-0.75zM153.83 77.95h0.75v0.75h-0.75zM167.23 78.4h0.75v0.75h-0.75zM145.23 79.14h0.75v0.75h-0.75zM154.94 79.06h0.75v0.75h-0.75zM174.47 78.48h0.75v0.75h-0.75zM154.26 78.57h0.75v0.75h-0.75zM166.69 79.31h0.75v0.75h-0.75zM145.65 77.24h0.75v0.75h-0.75zM183.88 77.08h0.75v0.75h-0.75zM173.43 77.25h0.75v0.75h-0.75zM174.52 78.23h0.75v0.75h-0.75zM168.75 78.41h0.75v0.75h-0.75zM158.51 78.06h0.75v0.75h-0.75zM163.71 78.09h0.75v0.75h-0.75zM152.42 79.75h0.75v0.75h-0.75zM167.78 76.22h0.75v0.75h-0.75zM150.42 79.3h0.75v0.75h-0.75zM158.04 80.57h0.75v0.75h-0.75zM169.47 78.52h0.75v0.75h-0.75zM150.47 78.48h0.75v0.75h-0.75zM157.22 79.15h0.75v0.75h-0.75zM161.98 80.15h0.75v0.75h-0.75zM148.42 77.43h0.75v0.75h-0.75zM170.98 78.58h0.75v0.75h-0.75zM163.57 78.33h0.75v0.75h-0.75zM146.86 79h0.75v0.75h-0.75zM160.08 78.64h0.75v0.75h-0.75zM153.52 79.09h0.75v0.75h-0.75zM172.07 78.25h0.75v0.75h-0.75zM173.11 75.31h0.75v0.75h-0.75zM171.53 77.73h0.75v0.75h-0.75zM171.54 77.29h0.75v0.75h-0.75zM172.69 78.21h0.75v0.75h-0.75zM172.69 77.68h0.75v0.75h-0.75zM170.42 76.57h0.75v0.75h-0.75zM176.45 78.45h0.75v0.75h-0.75zM172.7 78.23h0.75v0.75h-0.75zM169.96 78.14h0.75v0.75h-0.75zM175.42 78.51h0.75v0.75h-0.75zM171.35 78.59h0.75v0.75h-0.75zM174.12 77.58h0.75v0.75h-0.75zM172.96 76.38h0.75v0.75h-0.75zM173.55 76.35h0.75v0.75h-0.75zM173.38 78.81h0.75v0.75h-0.75zM171.73 78.24h0.75v0.75h-0.75zM173.09 77.69h0.75v0.75h-0.75zM177.47 77.21h0.75v0.75h-0.75zM168.08 77.63h0.75v0.75h-0.75zM173.15 77.62h0.75v0.75h-0.75zM173.96 77.3h0.75v0.75h-0.75zM170.69 76.97h0.75v0.75h-0.75zM169.99 79.55h0.75v0.75h-0.75zM177.75 77.81h0.75v0.75h-0.75zM172.18 77.05h0.75v0.75h-0.75zM177.57 76.43h0.75v0.75h-0.75zM174.18 76.95h0.75v0.75h-0.75zM173.17 78.25h0.75v0.75h-0.75zM174.05 78.28h0.75v0.75h-0.75zM174.4 77.4h0.75v0.75h-0.75zM175.6 77.65h0.75v0.75h-0.75zM173.96 77.33h0.75v0.75h-0.75zM173.32 76.6h0.75v0.75h-0.75zM173.39 78.77h0.75v0.75h-0.75zM175.97 77.94h0.75v0.75h-0.75zM174.8 79.83h0.75v0.75h-0.75zM170.8 76.92h0.75v0.75h-0.75zM171.6 77.48h0.75v0.75h-0.75zM173.73 78.39h0.75v0.75h-0.75zM171.63 77.38h0.75v0.75h-0.75zM172.17 76.35h0.75v0.75h-0.75zM170.9 76.75h0.75v0.75h-0.75zM172.42 77.69h0.75v0.75h-0.75zM173.93 77.91h0.75v0.75h-0.75zM175.19 77.51h0.75v0.75h-0.75zM173.02 78.5h0.75v0.75h-0.75zM177.56 78.49h0.75v0.75h-0.75zM172.83 77.89h0.75v0.75h-0.75zM180.03 77.62h0.75v0.75h-0.75zM175.2 77.37h0.75v0.75h-0.75zM174.09 78.1h0.75v0.75h-0.75zM171.9 78.43h0.75v0.75h-0.75zM166.79 77.65h0.75v0.75h-0.75zM172.66 78h0.75v0.75h-0.75zM173.39 77.31h0.75v0.75h-0.75zM177.23 76.33h0.75v0.75h-0.75zM169.96 76.7h0.75v0.75h-0.75zM177.19 78.29h0.75v0.75h-0.75zM172.45 78h0.75v0.75h-0.75z" fill="#4f93d6" fill-opacity="0.5"/>
<path d="M151.6 64 C151.1 53 154.1 47.2 163.5 47 C173.1 47 176.1 53 176.3 63" fill="none" stroke="#2f82d0" stroke-width="3.6" stroke-opacity="0.6" filter="url(#bl)"/>
<path d="M152.1 55 C152.3 50 155.1 47.2 163.5 47 C172.1 47 174.9 50 175.3 55" fill="none" stroke="#1f6fc0" stroke-width="2.16" stroke-opacity="0.45" filter="url(#bl)"/>
<path d="M161.36 48.31h0.8v0.8h-0.8zM174.4 54.61h0.8v0.8h-0.8zM162.19 46.91h0.8v0.8h-0.8zM176.42 58.73h0.8v0.8h-0.8zM167.16 47.87h0.8v0.8h-0.8zM159.92 48.06h0.8v0.8h-0.8zM173.28 49.91h0.8v0.8h-0.8zM176.16 68.44h0.8v0.8h-0.8zM161.55 47.23h0.8v0.8h-0.8zM172.69 51.29h0.8v0.8h-0.8zM160.92 46.64h0.8v0.8h-0.8zM152.19 57.64h0.8v0.8h-0.8zM150.92 64.39h0.8v0.8h-0.8zM158.63 47.13h0.8v0.8h-0.8zM158.22 48.62h0.8v0.8h-0.8zM163.67 46.55h0.8v0.8h-0.8zM174.99 57.67h0.8v0.8h-0.8zM157.19 48.43h0.8v0.8h-0.8zM162.39 46.8h0.8v0.8h-0.8zM173.79 54.23h0.8v0.8h-0.8zM158.89 47.85h0.8v0.8h-0.8zM162.52 47.92h0.8v0.8h-0.8zM167.9 48.09h0.8v0.8h-0.8zM165.34 47.44h0.8v0.8h-0.8zM158.92 48.34h0.8v0.8h-0.8zM171.63 52.55h0.8v0.8h-0.8zM175.8 60.06h0.8v0.8h-0.8zM163.25 47.55h0.8v0.8h-0.8zM161.87 47.32h0.8v0.8h-0.8zM168.64 47.7h0.8v0.8h-0.8zM162.04 47.26h0.8v0.8h-0.8zM159.51 47.85h0.8v0.8h-0.8zM175.44 62.35h0.8v0.8h-0.8zM166.66 46.84h0.8v0.8h-0.8zM165.35 47.16h0.8v0.8h-0.8zM162.15 47.3h0.8v0.8h-0.8zM162.93 48.37h0.8v0.8h-0.8zM164.6 48.46h0.8v0.8h-0.8zM150.17 58.65h0.8v0.8h-0.8zM167.48 48.02h0.8v0.8h-0.8zM174.47 57.35h0.8v0.8h-0.8zM171.12 50.44h0.8v0.8h-0.8zM154.1 54.76h0.8v0.8h-0.8zM159.76 47.59h0.8v0.8h-0.8zM150.93 61.18h0.8v0.8h-0.8zM162.39 47.49h0.8v0.8h-0.8zM152.86 51.55h0.8v0.8h-0.8zM168.86 48.58h0.8v0.8h-0.8zM171.51 48.48h0.8v0.8h-0.8zM161.26 46.3h0.8v0.8h-0.8zM151.57 57.62h0.8v0.8h-0.8zM169.56 47.56h0.8v0.8h-0.8zM173.63 52.61h0.8v0.8h-0.8zM167.79 48.84h0.8v0.8h-0.8zM165.46 46.06h0.8v0.8h-0.8zM171.36 50.6h0.8v0.8h-0.8zM153.49 53.09h0.8v0.8h-0.8zM171.44 51.3h0.8v0.8h-0.8zM170.5 48.97h0.8v0.8h-0.8zM166.19 47.09h0.8v0.8h-0.8zM176.16 66.17h0.8v0.8h-0.8zM151.21 61.35h0.8v0.8h-0.8zM151.94 68.85h0.8v0.8h-0.8zM153.75 56.14h0.8v0.8h-0.8zM150.93 70.83h0.8v0.8h-0.8zM158.59 49.02h0.8v0.8h-0.8zM174.14 54.88h0.8v0.8h-0.8zM154.06 51.88h0.8v0.8h-0.8zM161.4 47.15h0.8v0.8h-0.8zM155.51 50.56h0.8v0.8h-0.8zM164.51 46.55h0.8v0.8h-0.8zM167.72 47.45h0.8v0.8h-0.8zM157.47 48.78h0.8v0.8h-0.8zM172.12 49.43h0.8v0.8h-0.8zM152.75 57.05h0.8v0.8h-0.8zM153.26 52.96h0.8v0.8h-0.8zM167.98 48.05h0.8v0.8h-0.8zM169.62 48.01h0.8v0.8h-0.8zM153.8 51.7h0.8v0.8h-0.8zM151.17 58.77h0.8v0.8h-0.8zM150.98 65.49h0.8v0.8h-0.8zM174.58 58.81h0.8v0.8h-0.8zM154.99 50.5h0.8v0.8h-0.8zM167.79 48.49h0.8v0.8h-0.8zM165.3 46.57h0.8v0.8h-0.8zM159.88 48.89h0.8v0.8h-0.8zM170 49.42h0.8v0.8h-0.8zM169.96 49.13h0.8v0.8h-0.8zM176.96 65.88h0.8v0.8h-0.8zM161.39 47.06h0.8v0.8h-0.8zM166.94 47.59h0.8v0.8h-0.8zM172.19 50.53h0.8v0.8h-0.8zM173.25 51.41h0.8v0.8h-0.8zM166.53 48.23h0.8v0.8h-0.8zM167.56 47.64h0.8v0.8h-0.8zM169.32 47.91h0.8v0.8h-0.8zM152.63 59.65h0.8v0.8h-0.8zM151.69 62.22h0.8v0.8h-0.8zM160.97 48.47h0.8v0.8h-0.8zM167.14 48.31h0.8v0.8h-0.8zM171.03 49.25h0.8v0.8h-0.8zM162.15 46.69h0.8v0.8h-0.8zM167.7 48.56h0.8v0.8h-0.8zM173.46 50.69h0.8v0.8h-0.8zM170.93 47.32h0.8v0.8h-0.8zM162.82 47.59h0.8v0.8h-0.8zM169.53 48.32h0.8v0.8h-0.8zM154.04 53.9h0.8v0.8h-0.8zM170.99 52.94h0.8v0.8h-0.8zM152.3 66.29h0.8v0.8h-0.8zM150.19 67.15h0.8v0.8h-0.8zM156.29 50.26h0.8v0.8h-0.8zM170.33 48.46h0.8v0.8h-0.8zM153.58 56.77h0.8v0.8h-0.8zM167.41 48.15h0.8v0.8h-0.8zM152.42 55.17h0.8v0.8h-0.8zM159.86 48.03h0.8v0.8h-0.8zM153.34 53.49h0.8v0.8h-0.8zM160.96 46.06h0.8v0.8h-0.8zM174.07 54.77h0.8v0.8h-0.8zM168.35 47.89h0.8v0.8h-0.8zM175.39 61.93h0.8v0.8h-0.8zM163.29 47.21h0.8v0.8h-0.8zM166.99 47.9h0.8v0.8h-0.8zM155.53 51.37h0.8v0.8h-0.8zM176.93 67.93h0.8v0.8h-0.8zM161.37 48.85h0.8v0.8h-0.8zM150.33 62.76h0.8v0.8h-0.8zM169.99 48.62h0.8v0.8h-0.8zM173.25 53.94h0.8v0.8h-0.8zM155.24 51.67h0.8v0.8h-0.8zM152.74 70.95h0.8v0.8h-0.8zM168.9 48.66h0.8v0.8h-0.8zM153.75 52.47h0.8v0.8h-0.8zM170.03 48.33h0.8v0.8h-0.8zM176.79 70.3h0.8v0.8h-0.8zM164.26 48.33h0.8v0.8h-0.8zM163.85 46.75h0.8v0.8h-0.8zM165.11 47.17h0.8v0.8h-0.8zM175.71 67.61h0.8v0.8h-0.8z" fill="#2a7cc8" fill-opacity="0.6"/>
<ellipse cx="152" cy="78.7" rx="4.6" ry="2.6" fill="#2f8fd8" fill-opacity="0.85"/>
<ellipse cx="152" cy="78.7" rx="3.2" ry="1.9" fill="#33c0c0"/>
<ellipse cx="152.3" cy="78.7" rx="2.2" ry="1.4" fill="#55c45a"/>
<ellipse cx="152.4" cy="78.7" rx="1.3" ry="0.9" fill="#e9c933"/>
<ellipse cx="152.5" cy="78.7" rx="0.6" ry="0.45" fill="#e4572e"/>
<rect x="141.4" y="29.6" width="61.1" height="60.6" fill="none" stroke="#111" stroke-width="1"/>
<line x1="144.7" y1="90.9" x2="144.7" y2="92.7" stroke="#1a1a1a" stroke-width="0.6"/>
<line x1="148.14" y1="90.9" x2="148.14" y2="91.9" stroke="#1a1a1a" stroke-width="0.45"/>
<line x1="151.58" y1="90.9" x2="151.58" y2="91.9" stroke="#1a1a1a" stroke-width="0.45"/>
<line x1="155.02" y1="90.9" x2="155.02" y2="91.9" stroke="#1a1a1a" stroke-width="0.45"/>
<line x1="158.46" y1="90.9" x2="158.46" y2="91.9" stroke="#1a1a1a" stroke-width="0.45"/>
<line x1="161.9" y1="90.9" x2="161.9" y2="92.7" stroke="#1a1a1a" stroke-width="0.6"/>
<line x1="165.34" y1="90.9" x2="165.34" y2="91.9" stroke="#1a1a1a" stroke-width="0.45"/>
<line x1="168.78" y1="90.9" x2="168.78" y2="91.9" stroke="#1a1a1a" stroke-width="0.45"/>
<line x1="172.22" y1="90.9" x2="172.22" y2="91.9" stroke="#1a1a1a" stroke-width="0.45"/>
<line x1="175.66" y1="90.9" x2="175.66" y2="91.9" stroke="#1a1a1a" stroke-width="0.45"/>
<line x1="179.1" y1="90.9" x2="179.1" y2="92.7" stroke="#1a1a1a" stroke-width="0.6"/>
<line x1="182.54" y1="90.9" x2="182.54" y2="91.9" stroke="#1a1a1a" stroke-width="0.45"/>
<line x1="185.98" y1="90.9" x2="185.98" y2="91.9" stroke="#1a1a1a" stroke-width="0.45"/>
<line x1="189.42" y1="90.9" x2="189.42" y2="91.9" stroke="#1a1a1a" stroke-width="0.45"/>
<line x1="192.86" y1="90.9" x2="192.86" y2="91.9" stroke="#1a1a1a" stroke-width="0.45"/>
<line x1="196.3" y1="90.9" x2="196.3" y2="92.7" stroke="#1a1a1a" stroke-width="0.6"/>
<line x1="199.74" y1="90.9" x2="199.74" y2="91.9" stroke="#1a1a1a" stroke-width="0.45"/>
<text x="144.7" y="99.6" font-size="4.8" text-anchor="middle" fill="#333">50K</text>
<text x="161.9" y="99.6" font-size="4.8" text-anchor="middle" fill="#333">100K</text>
<text x="179.1" y="99.6" font-size="4.8" text-anchor="middle" fill="#333">150K</text>
<text x="196.3" y="99.6" font-size="4.8" text-anchor="middle" fill="#333">200K</text>
<rect x="147.6" y="36.5" width="15.9" height="37.7" fill="none" stroke="#111" stroke-width="0.9"/>
<rect x="163.5" y="36.5" width="16.8" height="37.7" fill="none" stroke="#111" stroke-width="0.9"/>
<rect x="148.1" y="74.2" width="8.9" height="10.7" fill="none" stroke="#111" stroke-width="0.9"/>
<rect x="167.2" y="74.2" width="10.4" height="8.8" fill="none" stroke="#111" stroke-width="0.9"/>
<text x="142.6" y="35" font-size="4" text-anchor="start" fill="#333">EdU+ early S</text>
<text x="201" y="35" font-size="4" text-anchor="end" fill="#333">EdU+ late S</text>
<text x="148.7" y="41.2" font-size="4" text-anchor="start" fill="#333">9.04</text>
<text x="184.5" y="42" font-size="4" text-anchor="start" fill="#333">4.49</text>
<text x="182.6" y="86" font-size="4" text-anchor="start" fill="#333">G2</text>
<text x="170.2" y="89" font-size="4" text-anchor="start" fill="#333">1.01</text>
<text x="142.6" y="89.5" font-size="4" text-anchor="start" fill="#333">G1  80.8</text>
<path d="M244.82 52.69h0.75v0.75h-0.75zM221.11 61.54h0.75v0.75h-0.75zM223.77 54.82h0.75v0.75h-0.75zM231.08 52.71h0.75v0.75h-0.75zM242.39 49.7h0.75v0.75h-0.75zM230.68 50.13h0.75v0.75h-0.75zM227.4 51.44h0.75v0.75h-0.75zM237.51 50.76h0.75v0.75h-0.75zM241.79 52.88h0.75v0.75h-0.75zM247.22 53.74h0.75v0.75h-0.75zM232.37 48.04h0.75v0.75h-0.75zM232.37 48.8h0.75v0.75h-0.75zM235.02 44.87h0.75v0.75h-0.75zM229.42 50.42h0.75v0.75h-0.75zM236.26 48.57h0.75v0.75h-0.75zM221.76 57.51h0.75v0.75h-0.75zM235.28 50.58h0.75v0.75h-0.75zM241.06 51.34h0.75v0.75h-0.75zM250.22 63.69h0.75v0.75h-0.75zM243.4 52.02h0.75v0.75h-0.75zM234.37 48.06h0.75v0.75h-0.75zM237.75 47.73h0.75v0.75h-0.75zM229.95 49.78h0.75v0.75h-0.75zM235.73 47.42h0.75v0.75h-0.75zM236.73 47.42h0.75v0.75h-0.75zM224.2 74.1h0.75v0.75h-0.75zM225.58 53.58h0.75v0.75h-0.75zM245.69 50.31h0.75v0.75h-0.75zM241.53 51.87h0.75v0.75h-0.75zM246.31 54.12h0.75v0.75h-0.75zM225.83 52.85h0.75v0.75h-0.75zM244.34 53.81h0.75v0.75h-0.75zM224.24 58.06h0.75v0.75h-0.75zM235.47 45.08h0.75v0.75h-0.75zM227.6 55.67h0.75v0.75h-0.75zM225.83 54.24h0.75v0.75h-0.75zM247.75 57.46h0.75v0.75h-0.75zM249.2 60.01h0.75v0.75h-0.75zM226.06 73.6h0.75v0.75h-0.75zM227.12 52.73h0.75v0.75h-0.75zM225.84 58.64h0.75v0.75h-0.75zM224.67 53.96h0.75v0.75h-0.75zM245.54 58.24h0.75v0.75h-0.75zM229.69 46.89h0.75v0.75h-0.75zM237.08 46.32h0.75v0.75h-0.75zM237 47.88h0.75v0.75h-0.75zM230.3 53.05h0.75v0.75h-0.75zM245.34 55.68h0.75v0.75h-0.75zM239.12 49.36h0.75v0.75h-0.75zM242.92 48.65h0.75v0.75h-0.75zM237.59 44.39h0.75v0.75h-0.75zM227.26 48.41h0.75v0.75h-0.75zM229.99 49.77h0.75v0.75h-0.75zM231.85 45.34h0.75v0.75h-0.75zM226.07 50.11h0.75v0.75h-0.75zM239.09 44.81h0.75v0.75h-0.75zM231.39 49.46h0.75v0.75h-0.75zM228.86 44.58h0.75v0.75h-0.75zM245.73 60.01h0.75v0.75h-0.75zM242.73 50.82h0.75v0.75h-0.75zM242.77 52.44h0.75v0.75h-0.75zM229.31 54.17h0.75v0.75h-0.75zM249.22 66.6h0.75v0.75h-0.75zM223.28 66.15h0.75v0.75h-0.75zM227.54 50.81h0.75v0.75h-0.75zM230.27 45.26h0.75v0.75h-0.75zM246.2 47.98h0.75v0.75h-0.75zM237.79 46.84h0.75v0.75h-0.75zM230.1 49.29h0.75v0.75h-0.75zM247.45 57.98h0.75v0.75h-0.75zM244.29 52.62h0.75v0.75h-0.75zM220.61 61.77h0.75v0.75h-0.75zM227.04 58.3h0.75v0.75h-0.75zM236.13 45.57h0.75v0.75h-0.75zM245.49 53.47h0.75v0.75h-0.75zM224.74 66.3h0.75v0.75h-0.75zM251.18 70.19h0.75v0.75h-0.75zM223.9 54.98h0.75v0.75h-0.75zM237.31 48.29h0.75v0.75h-0.75zM229.63 51.17h0.75v0.75h-0.75zM237.66 44.76h0.75v0.75h-0.75zM236.05 50.29h0.75v0.75h-0.75zM240.34 48.26h0.75v0.75h-0.75zM249.44 69.14h0.75v0.75h-0.75zM249.5 59.39h0.75v0.75h-0.75zM246.61 60.4h0.75v0.75h-0.75zM241.36 49.96h0.75v0.75h-0.75zM228.66 50.05h0.75v0.75h-0.75zM228.4 47.94h0.75v0.75h-0.75zM226.07 48.65h0.75v0.75h-0.75zM236.72 49.13h0.75v0.75h-0.75zM245.41 63.28h0.75v0.75h-0.75zM230.14 50.13h0.75v0.75h-0.75zM243.16 52.4h0.75v0.75h-0.75zM223.57 54.22h0.75v0.75h-0.75zM249.12 69.65h0.75v0.75h-0.75zM226.88 50.56h0.75v0.75h-0.75zM225.93 60h0.75v0.75h-0.75zM222.48 63.94h0.75v0.75h-0.75zM244.26 55.73h0.75v0.75h-0.75zM229.68 54.46h0.75v0.75h-0.75zM235.21 47.64h0.75v0.75h-0.75zM239.66 51.99h0.75v0.75h-0.75zM224.1 66.19h0.75v0.75h-0.75zM237.72 47.42h0.75v0.75h-0.75zM230.94 47.31h0.75v0.75h-0.75zM236.04 49.4h0.75v0.75h-0.75zM223.19 65h0.75v0.75h-0.75zM225.2 60.51h0.75v0.75h-0.75zM230.7 46.49h0.75v0.75h-0.75zM229.91 48.33h0.75v0.75h-0.75zM239.16 49.55h0.75v0.75h-0.75zM227.43 51.47h0.75v0.75h-0.75zM225.28 56.19h0.75v0.75h-0.75zM232.89 50.84h0.75v0.75h-0.75zM228.96 51.48h0.75v0.75h-0.75zM229.6 48.94h0.75v0.75h-0.75zM242.42 47.59h0.75v0.75h-0.75zM244.95 53.25h0.75v0.75h-0.75zM227.5 54.01h0.75v0.75h-0.75zM242.62 47.31h0.75v0.75h-0.75zM234.16 48.91h0.75v0.75h-0.75zM248.23 64.33h0.75v0.75h-0.75zM227.55 49.58h0.75v0.75h-0.75zM238.04 48.23h0.75v0.75h-0.75zM247.09 56.09h0.75v0.75h-0.75zM241.1 48.45h0.75v0.75h-0.75zM237.81 46.38h0.75v0.75h-0.75zM238.97 44.03h0.75v0.75h-0.75zM237.48 51.15h0.75v0.75h-0.75zM226.53 51.89h0.75v0.75h-0.75zM237 47.48h0.75v0.75h-0.75zM227.3 51.45h0.75v0.75h-0.75zM245.87 52.39h0.75v0.75h-0.75zM229.61 49.53h0.75v0.75h-0.75zM223.97 57.3h0.75v0.75h-0.75zM222.49 59.23h0.75v0.75h-0.75zM221.79 67.27h0.75v0.75h-0.75zM230.2 48.22h0.75v0.75h-0.75zM232.31 51.36h0.75v0.75h-0.75zM246.43 53.44h0.75v0.75h-0.75zM223.65 59.54h0.75v0.75h-0.75zM239.12 50.53h0.75v0.75h-0.75zM235.72 48.33h0.75v0.75h-0.75zM224.05 65.64h0.75v0.75h-0.75zM243 51.16h0.75v0.75h-0.75zM238.1 48.46h0.75v0.75h-0.75zM233.26 51.39h0.75v0.75h-0.75zM228.71 52.53h0.75v0.75h-0.75zM224.81 55.26h0.75v0.75h-0.75zM251.17 63.43h0.75v0.75h-0.75zM245.89 60.36h0.75v0.75h-0.75zM248.41 65.81h0.75v0.75h-0.75zM249.35 67.49h0.75v0.75h-0.75zM224.54 59.1h0.75v0.75h-0.75zM235.26 46.43h0.75v0.75h-0.75zM238.64 49.44h0.75v0.75h-0.75zM232.62 45.38h0.75v0.75h-0.75zM227.14 48.63h0.75v0.75h-0.75zM234.57 49.97h0.75v0.75h-0.75zM247.91 67.03h0.75v0.75h-0.75zM234.71 52.63h0.75v0.75h-0.75zM225.36 69.4h0.75v0.75h-0.75zM224.78 61.79h0.75v0.75h-0.75zM247.13 60.71h0.75v0.75h-0.75zM220.25 58.93h0.75v0.75h-0.75zM242.09 49.58h0.75v0.75h-0.75zM244.93 51.48h0.75v0.75h-0.75zM248.12 65.48h0.75v0.75h-0.75zM245.55 49.38h0.75v0.75h-0.75zM233.72 45.66h0.75v0.75h-0.75zM226.15 50.81h0.75v0.75h-0.75zM248.94 49.58h0.75v0.75h-0.75zM245.29 59.92h0.75v0.75h-0.75zM240.02 48.71h0.75v0.75h-0.75zM246.25 55.74h0.75v0.75h-0.75zM235.62 49.44h0.75v0.75h-0.75zM243.08 51.34h0.75v0.75h-0.75zM229.95 51.08h0.75v0.75h-0.75zM242.12 49.44h0.75v0.75h-0.75zM233.67 51.75h0.75v0.75h-0.75zM240.68 47.45h0.75v0.75h-0.75zM234.82 50.7h0.75v0.75h-0.75zM236.57 46.23h0.75v0.75h-0.75zM244.66 60.78h0.75v0.75h-0.75zM243.77 54.65h0.75v0.75h-0.75zM225.22 54.41h0.75v0.75h-0.75zM228.8 49.52h0.75v0.75h-0.75zM228.18 50.62h0.75v0.75h-0.75zM231.7 48.2h0.75v0.75h-0.75zM239.6 50.06h0.75v0.75h-0.75zM230.73 53.8h0.75v0.75h-0.75zM226.87 54.44h0.75v0.75h-0.75zM240.42 47.48h0.75v0.75h-0.75zM247.93 63.44h0.75v0.75h-0.75zM248.4 59.77h0.75v0.75h-0.75zM224.89 70.82h0.75v0.75h-0.75zM226.74 69.32h0.75v0.75h-0.75zM242.27 46.63h0.75v0.75h-0.75zM234.17 51.13h0.75v0.75h-0.75zM226.67 52.64h0.75v0.75h-0.75zM239.8 49.78h0.75v0.75h-0.75zM240.54 45.98h0.75v0.75h-0.75zM235.72 48.84h0.75v0.75h-0.75zM244.13 53.29h0.75v0.75h-0.75zM235.49 49.42h0.75v0.75h-0.75zM240.32 49.95h0.75v0.75h-0.75zM242.18 48.8h0.75v0.75h-0.75zM249.46 63.5h0.75v0.75h-0.75zM232.87 45.74h0.75v0.75h-0.75zM234.8 46.34h0.75v0.75h-0.75zM223.44 64.27h0.75v0.75h-0.75zM227.19 59.07h0.75v0.75h-0.75zM226.93 52.53h0.75v0.75h-0.75zM229.55 47.33h0.75v0.75h-0.75zM226.1 56.76h0.75v0.75h-0.75zM231.35 49.46h0.75v0.75h-0.75zM238.81 47.94h0.75v0.75h-0.75zM235.3 48.63h0.75v0.75h-0.75zM235.48 50.2h0.75v0.75h-0.75zM238.59 50.03h0.75v0.75h-0.75zM229.89 50.5h0.75v0.75h-0.75zM248.06 60.29h0.75v0.75h-0.75zM243.15 46.68h0.75v0.75h-0.75zM229.12 49.54h0.75v0.75h-0.75zM247.16 53.18h0.75v0.75h-0.75zM240.63 47.84h0.75v0.75h-0.75zM223.04 56.11h0.75v0.75h-0.75zM248.83 64.65h0.75v0.75h-0.75zM238.14 44.27h0.75v0.75h-0.75zM234.09 44.73h0.75v0.75h-0.75zM224.94 53.11h0.75v0.75h-0.75zM245.03 53h0.75v0.75h-0.75zM224.21 59.09h0.75v0.75h-0.75zM245.16 66.44h0.75v0.75h-0.75zM241.27 46.44h0.75v0.75h-0.75zM248.24 58.38h0.75v0.75h-0.75zM239.28 48.35h0.75v0.75h-0.75zM225.54 53.58h0.75v0.75h-0.75zM246.13 56.64h0.75v0.75h-0.75zM240.35 51.08h0.75v0.75h-0.75zM227.64 48.68h0.75v0.75h-0.75zM225.65 55.85h0.75v0.75h-0.75zM226.15 60.5h0.75v0.75h-0.75zM232.58 49.93h0.75v0.75h-0.75zM223.55 71.57h0.75v0.75h-0.75zM240.68 50.02h0.75v0.75h-0.75zM230.15 53.32h0.75v0.75h-0.75zM246.76 56.82h0.75v0.75h-0.75zM225.41 56.48h0.75v0.75h-0.75zM226.01 51.47h0.75v0.75h-0.75zM247.4 55.85h0.75v0.75h-0.75zM224.8 64.96h0.75v0.75h-0.75zM233.14 47.91h0.75v0.75h-0.75zM229.2 53.42h0.75v0.75h-0.75zM230.31 54.94h0.75v0.75h-0.75zM246.56 60.4h0.75v0.75h-0.75zM235.21 45.72h0.75v0.75h-0.75zM228.72 56.04h0.75v0.75h-0.75zM224.39 53.76h0.75v0.75h-0.75zM242.81 52.67h0.75v0.75h-0.75zM241.44 49.98h0.75v0.75h-0.75zM224.28 54.19h0.75v0.75h-0.75zM226.11 51.04h0.75v0.75h-0.75zM239.75 48.41h0.75v0.75h-0.75zM223.05 71.23h0.75v0.75h-0.75zM241.6 47.21h0.75v0.75h-0.75zM240.75 49.51h0.75v0.75h-0.75zM249.97 55.33h0.75v0.75h-0.75zM239.97 48.94h0.75v0.75h-0.75zM239.17 48.21h0.75v0.75h-0.75zM228.24 48.82h0.75v0.75h-0.75zM238.47 53.71h0.75v0.75h-0.75zM250.34 62.51h0.75v0.75h-0.75zM228.23 54.83h0.75v0.75h-0.75zM234.1 51.3h0.75v0.75h-0.75zM233.59 49.2h0.75v0.75h-0.75zM223.92 62.9h0.75v0.75h-0.75zM228.96 53.82h0.75v0.75h-0.75zM242.42 46.97h0.75v0.75h-0.75zM247.51 60.96h0.75v0.75h-0.75zM221.63 64.22h0.75v0.75h-0.75zM242.94 49.92h0.75v0.75h-0.75zM246.13 54.9h0.75v0.75h-0.75zM231.32 46.32h0.75v0.75h-0.75zM236.8 48.59h0.75v0.75h-0.75zM229.53 46.72h0.75v0.75h-0.75zM245.64 62.91h0.75v0.75h-0.75zM221.82 64.57h0.75v0.75h-0.75zM239.63 49.9h0.75v0.75h-0.75zM245.24 54h0.75v0.75h-0.75zM247.87 60.12h0.75v0.75h-0.75zM236.81 52.22h0.75v0.75h-0.75zM224.36 59.27h0.75v0.75h-0.75zM244.94 60.98h0.75v0.75h-0.75zM244.19 51.31h0.75v0.75h-0.75zM247.34 62.47h0.75v0.75h-0.75zM239.12 48h0.75v0.75h-0.75zM237.29 48.76h0.75v0.75h-0.75zM241.19 49h0.75v0.75h-0.75zM251.07 58.76h0.75v0.75h-0.75zM227.95 52.5h0.75v0.75h-0.75zM250.24 57.14h0.75v0.75h-0.75zM231.96 50.58h0.75v0.75h-0.75zM228.21 47.34h0.75v0.75h-0.75zM238.95 48.48h0.75v0.75h-0.75zM242.69 47.53h0.75v0.75h-0.75zM224.9 72.76h0.75v0.75h-0.75zM221.74 57.25h0.75v0.75h-0.75zM233.48 51.96h0.75v0.75h-0.75zM239.95 48.07h0.75v0.75h-0.75zM225.92 59.65h0.75v0.75h-0.75zM237.48 49.21h0.75v0.75h-0.75zM226.14 66.46h0.75v0.75h-0.75zM232.33 47.77h0.75v0.75h-0.75zM245.93 56.59h0.75v0.75h-0.75zM247.55 50.54h0.75v0.75h-0.75zM245.37 58.66h0.75v0.75h-0.75zM235.89 46.84h0.75v0.75h-0.75zM227.51 52.64h0.75v0.75h-0.75zM244.56 64.59h0.75v0.75h-0.75zM245.6 53.81h0.75v0.75h-0.75zM224.26 53.89h0.75v0.75h-0.75zM231.21 46.78h0.75v0.75h-0.75zM226.42 56.76h0.75v0.75h-0.75zM240 48.21h0.75v0.75h-0.75zM244.8 49.73h0.75v0.75h-0.75zM240.84 52.9h0.75v0.75h-0.75zM223.61 58.05h0.75v0.75h-0.75zM224.37 65.19h0.75v0.75h-0.75zM235.6 46.74h0.75v0.75h-0.75zM220.58 63.48h0.75v0.75h-0.75zM237.64 46.58h0.75v0.75h-0.75zM224.66 49.54h0.75v0.75h-0.75zM246.24 59.84h0.75v0.75h-0.75zM229.63 51.19h0.75v0.75h-0.75zM243.12 47.32h0.75v0.75h-0.75zM238.67 49.33h0.75v0.75h-0.75zM231.79 50.75h0.75v0.75h-0.75zM244.85 59.89h0.75v0.75h-0.75zM235.31 45.28h0.75v0.75h-0.75zM228.1 58.7h0.75v0.75h-0.75zM229.1 50.61h0.75v0.75h-0.75zM243.87 50.51h0.75v0.75h-0.75zM227.51 49.3h0.75v0.75h-0.75zM232.65 49.43h0.75v0.75h-0.75zM240.76 49.49h0.75v0.75h-0.75zM224.35 60.64h0.75v0.75h-0.75zM225.5 55.23h0.75v0.75h-0.75zM232.77 45.85h0.75v0.75h-0.75zM224.89 52.57h0.75v0.75h-0.75zM230.51 53.11h0.75v0.75h-0.75zM232.11 48.78h0.75v0.75h-0.75zM228.89 49.62h0.75v0.75h-0.75zM246.27 65.98h0.75v0.75h-0.75zM236.69 50.89h0.75v0.75h-0.75zM225.76 52.99h0.75v0.75h-0.75zM251.32 67.18h0.75v0.75h-0.75zM237.15 48.05h0.75v0.75h-0.75zM225.86 63.37h0.75v0.75h-0.75zM225.86 50.64h0.75v0.75h-0.75zM247.19 61.85h0.75v0.75h-0.75zM241.58 48.98h0.75v0.75h-0.75zM230.15 48.45h0.75v0.75h-0.75zM243.22 50.41h0.75v0.75h-0.75zM244.67 55.57h0.75v0.75h-0.75zM240.77 49.93h0.75v0.75h-0.75zM229.99 53.12h0.75v0.75h-0.75zM235.34 47.56h0.75v0.75h-0.75zM248.01 61.14h0.75v0.75h-0.75zM222.85 56.94h0.75v0.75h-0.75zM246.6 55.86h0.75v0.75h-0.75zM231.82 47.22h0.75v0.75h-0.75zM226.39 48.69h0.75v0.75h-0.75zM228.59 50.19h0.75v0.75h-0.75zM241.2 52.05h0.75v0.75h-0.75zM229.79 49.02h0.75v0.75h-0.75zM244.08 53.09h0.75v0.75h-0.75zM245.59 53.52h0.75v0.75h-0.75zM236.85 47.71h0.75v0.75h-0.75zM240.82 48.97h0.75v0.75h-0.75zM246.59 60.55h0.75v0.75h-0.75zM232.37 49.6h0.75v0.75h-0.75zM222.92 56.13h0.75v0.75h-0.75zM249.53 57.17h0.75v0.75h-0.75zM231.61 47.29h0.75v0.75h-0.75zM236.34 45h0.75v0.75h-0.75zM235.27 48.59h0.75v0.75h-0.75zM244.94 56.22h0.75v0.75h-0.75zM250.22 60.23h0.75v0.75h-0.75zM244.94 52.03h0.75v0.75h-0.75zM223.53 53.13h0.75v0.75h-0.75zM242.57 48.5h0.75v0.75h-0.75zM223.42 68.11h0.75v0.75h-0.75zM243.96 54.13h0.75v0.75h-0.75zM223.78 68.4h0.75v0.75h-0.75zM235.13 49.09h0.75v0.75h-0.75zM236.64 49.34h0.75v0.75h-0.75zM226.69 47.8h0.75v0.75h-0.75zM236.64 46.62h0.75v0.75h-0.75zM222.46 57.67h0.75v0.75h-0.75zM247.53 53.57h0.75v0.75h-0.75zM246.98 55.76h0.75v0.75h-0.75zM222.31 65.36h0.75v0.75h-0.75zM223.73 71.99h0.75v0.75h-0.75zM227.39 50.1h0.75v0.75h-0.75zM228.28 52.44h0.75v0.75h-0.75zM234.6 45.66h0.75v0.75h-0.75zM246.73 52.05h0.75v0.75h-0.75zM247.98 69.2h0.75v0.75h-0.75zM243.75 47.96h0.75v0.75h-0.75zM221.91 56.25h0.75v0.75h-0.75zM226.6 53.52h0.75v0.75h-0.75zM231.25 46.08h0.75v0.75h-0.75zM220.55 65.65h0.75v0.75h-0.75zM244.85 51.7h0.75v0.75h-0.75zM246.77 53.53h0.75v0.75h-0.75zM244.46 51.49h0.75v0.75h-0.75zM234.23 49.2h0.75v0.75h-0.75zM227.75 52.71h0.75v0.75h-0.75zM234.91 49.23h0.75v0.75h-0.75zM224.92 53.66h0.75v0.75h-0.75zM223.32 59.46h0.75v0.75h-0.75zM229.59 52.04h0.75v0.75h-0.75zM237.89 48.8h0.75v0.75h-0.75zM241.75 47.18h0.75v0.75h-0.75zM226.59 53.74h0.75v0.75h-0.75zM241.5 50.82h0.75v0.75h-0.75zM244.04 53.22h0.75v0.75h-0.75zM236.07 49.72h0.75v0.75h-0.75zM222.72 66.96h0.75v0.75h-0.75zM221.43 62.25h0.75v0.75h-0.75zM221.98 68.73h0.75v0.75h-0.75zM241.85 50.98h0.75v0.75h-0.75zM235.09 48.22h0.75v0.75h-0.75zM249.03 55.96h0.75v0.75h-0.75zM233.8 48.4h0.75v0.75h-0.75zM228.91 49.35h0.75v0.75h-0.75zM233.04 49.1h0.75v0.75h-0.75zM238.25 48.63h0.75v0.75h-0.75zM241.45 50.26h0.75v0.75h-0.75zM226.33 53.61h0.75v0.75h-0.75zM235.78 48.66h0.75v0.75h-0.75zM244.63 52.82h0.75v0.75h-0.75zM245.88 57.4h0.75v0.75h-0.75zM248.29 61.81h0.75v0.75h-0.75zM234.58 44.98h0.75v0.75h-0.75zM247.05 50.52h0.75v0.75h-0.75zM226.63 52.1h0.75v0.75h-0.75zM243.51 56.75h0.75v0.75h-0.75zM225.32 47.5h0.75v0.75h-0.75zM233.53 47.63h0.75v0.75h-0.75zM250.86 60.68h0.75v0.75h-0.75zM224.99 51.81h0.75v0.75h-0.75zM223.4 62.45h0.75v0.75h-0.75zM247.05 54.72h0.75v0.75h-0.75zM247.3 54.5h0.75v0.75h-0.75zM239.31 47.35h0.75v0.75h-0.75zM237.4 49.62h0.75v0.75h-0.75zM241.36 49.43h0.75v0.75h-0.75zM233.84 47h0.75v0.75h-0.75zM221.56 65.54h0.75v0.75h-0.75zM230.75 46.33h0.75v0.75h-0.75zM224.63 59.6h0.75v0.75h-0.75zM230.14 46.24h0.75v0.75h-0.75zM227.03 53.86h0.75v0.75h-0.75zM245.5 50.37h0.75v0.75h-0.75zM242.77 52.49h0.75v0.75h-0.75zM224.34 52.79h0.75v0.75h-0.75zM231.74 47.46h0.75v0.75h-0.75zM223.25 54.76h0.75v0.75h-0.75zM245.47 65.74h0.75v0.75h-0.75zM240.21 49.9h0.75v0.75h-0.75zM242.15 49.53h0.75v0.75h-0.75zM228.01 52.59h0.75v0.75h-0.75zM223.11 63.73h0.75v0.75h-0.75zM235.1 50.76h0.75v0.75h-0.75zM235.27 48.59h0.75v0.75h-0.75zM233.14 47.39h0.75v0.75h-0.75zM230.42 47.37h0.75v0.75h-0.75zM248.02 52.88h0.75v0.75h-0.75zM239.19 50.46h0.75v0.75h-0.75zM230.76 46.75h0.75v0.75h-0.75zM223.73 56.43h0.75v0.75h-0.75zM240.15 46.89h0.75v0.75h-0.75zM243.64 55.34h0.75v0.75h-0.75zM225.55 52.45h0.75v0.75h-0.75zM233.95 48.89h0.75v0.75h-0.75zM247.36 55.45h0.75v0.75h-0.75zM238.12 50.25h0.75v0.75h-0.75zM225.81 52.39h0.75v0.75h-0.75zM225.7 55.25h0.75v0.75h-0.75zM227.93 47.93h0.75v0.75h-0.75zM220.82 60.13h0.75v0.75h-0.75zM223.41 56.54h0.75v0.75h-0.75zM227.5 54.65h0.75v0.75h-0.75zM243.04 53.73h0.75v0.75h-0.75zM236.04 47.03h0.75v0.75h-0.75zM245.91 52.62h0.75v0.75h-0.75zM246.07 52.23h0.75v0.75h-0.75zM244.62 59.67h0.75v0.75h-0.75zM237.73 51.54h0.75v0.75h-0.75zM232.49 48.55h0.75v0.75h-0.75zM230.55 48.46h0.75v0.75h-0.75zM239.59 51.48h0.75v0.75h-0.75zM229.65 48.24h0.75v0.75h-0.75zM236.01 48.32h0.75v0.75h-0.75zM240.22 51.57h0.75v0.75h-0.75zM229.88 48.15h0.75v0.75h-0.75zM227.97 49.33h0.75v0.75h-0.75zM241.22 48.73h0.75v0.75h-0.75zM228.98 50.02h0.75v0.75h-0.75zM246.5 55.07h0.75v0.75h-0.75zM237.13 57.55h0.75v0.75h-0.75zM230.65 66.39h0.75v0.75h-0.75zM232.62 67.16h0.75v0.75h-0.75zM235.76 58.5h0.75v0.75h-0.75zM247.84 68.35h0.75v0.75h-0.75zM239.47 66.77h0.75v0.75h-0.75zM227.32 66.24h0.75v0.75h-0.75zM235.07 71.27h0.75v0.75h-0.75zM236 67.78h0.75v0.75h-0.75zM238.98 69.68h0.75v0.75h-0.75zM220.37 50.17h0.75v0.75h-0.75zM230.51 62.26h0.75v0.75h-0.75zM245.99 52.8h0.75v0.75h-0.75zM236.89 62.9h0.75v0.75h-0.75zM246.01 50.39h0.75v0.75h-0.75zM236.8 65.66h0.75v0.75h-0.75zM234.74 67.09h0.75v0.75h-0.75zM229.95 55.91h0.75v0.75h-0.75zM230.83 55.02h0.75v0.75h-0.75zM232.77 58.48h0.75v0.75h-0.75zM243.12 54.81h0.75v0.75h-0.75zM242.26 55.32h0.75v0.75h-0.75zM244.2 65.22h0.75v0.75h-0.75zM234.73 56.44h0.75v0.75h-0.75zM231.32 56.3h0.75v0.75h-0.75zM237.63 53.22h0.75v0.75h-0.75zM237.65 52.66h0.75v0.75h-0.75zM238.8 72.51h0.75v0.75h-0.75zM239.24 71.77h0.75v0.75h-0.75zM239.82 53.65h0.75v0.75h-0.75zM255.36 67.86h0.75v0.75h-0.75zM236.13 65.27h0.75v0.75h-0.75zM244.67 71.1h0.75v0.75h-0.75zM241.77 57.42h0.75v0.75h-0.75zM237.23 62.42h0.75v0.75h-0.75zM241.37 62.43h0.75v0.75h-0.75zM229.44 61.97h0.75v0.75h-0.75zM227.26 63.49h0.75v0.75h-0.75zM240.31 63.71h0.75v0.75h-0.75zM240.26 56.14h0.75v0.75h-0.75zM229.15 50.71h0.75v0.75h-0.75zM239.43 56.6h0.75v0.75h-0.75zM234.08 70.97h0.75v0.75h-0.75zM240.26 61.87h0.75v0.75h-0.75zM230.17 60.22h0.75v0.75h-0.75zM231.33 65.79h0.75v0.75h-0.75zM239.12 65.07h0.75v0.75h-0.75zM244.53 67.98h0.75v0.75h-0.75zM232.81 51.06h0.75v0.75h-0.75zM247.98 64.1h0.75v0.75h-0.75zM237.27 56.97h0.75v0.75h-0.75zM235.76 63.81h0.75v0.75h-0.75zM243.11 54.79h0.75v0.75h-0.75zM229.44 63.8h0.75v0.75h-0.75zM232.93 64.4h0.75v0.75h-0.75zM236.73 59.89h0.75v0.75h-0.75zM239.59 63.67h0.75v0.75h-0.75zM242.26 70.52h0.75v0.75h-0.75zM222.69 72.54h0.75v0.75h-0.75zM242.56 66.11h0.75v0.75h-0.75zM232.31 62.42h0.75v0.75h-0.75zM230.13 63.02h0.75v0.75h-0.75zM228.36 62.34h0.75v0.75h-0.75zM235.59 51.39h0.75v0.75h-0.75zM235.51 50.87h0.75v0.75h-0.75zM226.84 55.02h0.75v0.75h-0.75zM231.82 61.03h0.75v0.75h-0.75zM236.92 51.84h0.75v0.75h-0.75zM232.08 55.65h0.75v0.75h-0.75zM230.95 64h0.75v0.75h-0.75zM246.33 51.39h0.75v0.75h-0.75zM226.53 52.5h0.75v0.75h-0.75zM237 62.16h0.75v0.75h-0.75zM238.58 51.85h0.75v0.75h-0.75zM231.81 50.38h0.75v0.75h-0.75zM236.64 66.26h0.75v0.75h-0.75zM236.77 61.72h0.75v0.75h-0.75zM231.1 66.38h0.75v0.75h-0.75zM237.57 53.97h0.75v0.75h-0.75zM237.74 72.35h0.75v0.75h-0.75zM240.48 59.27h0.75v0.75h-0.75zM239.46 58.31h0.75v0.75h-0.75zM229.66 70.63h0.75v0.75h-0.75zM231.66 68.24h0.75v0.75h-0.75zM248.71 51.94h0.75v0.75h-0.75zM224.01 67.94h0.75v0.75h-0.75zM231.94 60.22h0.75v0.75h-0.75zM236.13 58.84h0.75v0.75h-0.75zM236.52 59.07h0.75v0.75h-0.75zM235.78 56.24h0.75v0.75h-0.75zM234.68 64.94h0.75v0.75h-0.75zM228.2 67.26h0.75v0.75h-0.75zM234.81 70.56h0.75v0.75h-0.75zM240.41 57.21h0.75v0.75h-0.75zM233.2 66.72h0.75v0.75h-0.75zM239.16 53.76h0.75v0.75h-0.75zM235.91 71.72h0.75v0.75h-0.75zM225.15 57.11h0.75v0.75h-0.75zM230.7 59.08h0.75v0.75h-0.75zM234.86 51.83h0.75v0.75h-0.75zM240.42 52.15h0.75v0.75h-0.75zM236.75 50.71h0.75v0.75h-0.75zM232.31 56.49h0.75v0.75h-0.75zM246.08 52.09h0.75v0.75h-0.75zM231.83 67.46h0.75v0.75h-0.75zM237.27 53.04h0.75v0.75h-0.75zM230.74 70.04h0.75v0.75h-0.75zM232.09 58.26h0.75v0.75h-0.75zM236.99 51.62h0.75v0.75h-0.75zM235.63 52.61h0.75v0.75h-0.75zM248.61 64.82h0.75v0.75h-0.75zM227.73 63.45h0.75v0.75h-0.75zM230.49 71.1h0.75v0.75h-0.75zM235.74 66.09h0.75v0.75h-0.75zM239.95 60.9h0.75v0.75h-0.75zM244.36 58.91h0.75v0.75h-0.75zM228.87 60.79h0.75v0.75h-0.75zM246.16 60.63h0.75v0.75h-0.75zM227.38 62.87h0.75v0.75h-0.75zM236.69 50.75h0.75v0.75h-0.75zM235.03 61.74h0.75v0.75h-0.75zM244.95 70.75h0.75v0.75h-0.75zM223.56 61.18h0.75v0.75h-0.75zM241.36 72.08h0.75v0.75h-0.75zM233.27 54.62h0.75v0.75h-0.75zM235.9 50.55h0.75v0.75h-0.75zM237.16 71.37h0.75v0.75h-0.75zM230.37 68.4h0.75v0.75h-0.75zM234.94 61.08h0.75v0.75h-0.75zM230.32 68.63h0.75v0.75h-0.75zM235.92 54.17h0.75v0.75h-0.75zM244.51 53.25h0.75v0.75h-0.75zM229.76 51.03h0.75v0.75h-0.75zM242.25 54.93h0.75v0.75h-0.75zM244.61 59.76h0.75v0.75h-0.75zM233.78 72.53h0.75v0.75h-0.75zM247.04 70.66h0.75v0.75h-0.75zM236.72 72.64h0.75v0.75h-0.75zM245.38 60.91h0.75v0.75h-0.75zM234.25 58.83h0.75v0.75h-0.75zM232.91 52.86h0.75v0.75h-0.75zM241.51 56.42h0.75v0.75h-0.75zM236.25 52.66h0.75v0.75h-0.75zM231.89 67.37h0.75v0.75h-0.75zM237.4 62.04h0.75v0.75h-0.75zM234.87 72.17h0.75v0.75h-0.75zM235.54 60.92h0.75v0.75h-0.75zM230.67 71.37h0.75v0.75h-0.75zM226.23 70.28h0.75v0.75h-0.75zM230.98 71.73h0.75v0.75h-0.75zM240.49 57.58h0.75v0.75h-0.75zM247.73 71.92h0.75v0.75h-0.75zM240.33 66.99h0.75v0.75h-0.75zM226.08 70.21h0.75v0.75h-0.75zM233.26 51.79h0.75v0.75h-0.75zM233.69 52.78h0.75v0.75h-0.75zM245.42 51.51h0.75v0.75h-0.75zM231.17 71.26h0.75v0.75h-0.75zM224.87 50.86h0.75v0.75h-0.75zM241.79 53.29h0.75v0.75h-0.75zM228.49 50.72h0.75v0.75h-0.75zM223.38 57.44h0.75v0.75h-0.75zM235.96 65.23h0.75v0.75h-0.75zM229.6 66.56h0.75v0.75h-0.75zM245.53 60.82h0.75v0.75h-0.75zM231.8 72.92h0.75v0.75h-0.75zM240.07 70.37h0.75v0.75h-0.75zM250.55 50.21h0.75v0.75h-0.75zM232.72 66.58h0.75v0.75h-0.75zM241.25 69.72h0.75v0.75h-0.75zM240.57 67.47h0.75v0.75h-0.75zM232.25 63.74h0.75v0.75h-0.75zM242.59 60.75h0.75v0.75h-0.75zM232.64 66.17h0.75v0.75h-0.75zM247.15 57.14h0.75v0.75h-0.75zM233.93 60.06h0.75v0.75h-0.75zM234.62 67.35h0.75v0.75h-0.75zM232.82 68.36h0.75v0.75h-0.75zM225.09 58.33h0.75v0.75h-0.75zM229.11 69.28h0.75v0.75h-0.75zM232.22 66.14h0.75v0.75h-0.75zM239.96 65.33h0.75v0.75h-0.75zM230.58 65.38h0.75v0.75h-0.75zM239.99 50.54h0.75v0.75h-0.75zM230.04 70.64h0.75v0.75h-0.75zM235.4 65.21h0.75v0.75h-0.75zM229.82 60.54h0.75v0.75h-0.75zM238.48 66.1h0.75v0.75h-0.75zM242.63 52.13h0.75v0.75h-0.75zM248.7 48.38h0.75v0.75h-0.75zM244.34 44.82h0.75v0.75h-0.75zM218.41 63.19h0.75v0.75h-0.75zM243.33 58.33h0.75v0.75h-0.75zM242.94 61.55h0.75v0.75h-0.75zM218.53 62.05h0.75v0.75h-0.75zM242.64 74.22h0.75v0.75h-0.75zM226.29 67.46h0.75v0.75h-0.75zM224.43 51.05h0.75v0.75h-0.75zM217.71 66.71h0.75v0.75h-0.75zM234.39 55.97h0.75v0.75h-0.75zM235.22 74.92h0.75v0.75h-0.75zM231.29 56.99h0.75v0.75h-0.75zM215.36 40.19h0.75v0.75h-0.75zM242.3 72.81h0.75v0.75h-0.75zM223.76 49.77h0.75v0.75h-0.75zM221.74 69.38h0.75v0.75h-0.75zM236.31 61.82h0.75v0.75h-0.75zM218.65 66.59h0.75v0.75h-0.75zM246.73 66.4h0.75v0.75h-0.75zM236.58 72.4h0.75v0.75h-0.75zM242.04 69.8h0.75v0.75h-0.75zM224.68 63.03h0.75v0.75h-0.75zM228.08 51.56h0.75v0.75h-0.75zM221.23 57.58h0.75v0.75h-0.75zM221.22 49.84h0.75v0.75h-0.75zM227.56 51.92h0.75v0.75h-0.75zM241.96 56.38h0.75v0.75h-0.75zM230.97 55.03h0.75v0.75h-0.75zM243.75 50.22h0.75v0.75h-0.75zM215.82 50.76h0.75v0.75h-0.75zM222.69 51.01h0.75v0.75h-0.75zM212.92 46.69h0.75v0.75h-0.75zM246.84 60.78h0.75v0.75h-0.75zM213.94 43.13h0.75v0.75h-0.75zM232.48 48.74h0.75v0.75h-0.75zM237.56 45.94h0.75v0.75h-0.75zM219.4 65.24h0.75v0.75h-0.75zM249.43 49.88h0.75v0.75h-0.75zM249.45 43.39h0.75v0.75h-0.75zM241.64 79.18h0.75v0.75h-0.75zM240.5 78.53h0.75v0.75h-0.75zM237.03 79.5h0.75v0.75h-0.75zM217.17 78.76h0.75v0.75h-0.75zM219.32 79.13h0.75v0.75h-0.75zM241.63 79.74h0.75v0.75h-0.75zM239.76 78.68h0.75v0.75h-0.75zM237.01 79.41h0.75v0.75h-0.75zM230.4 78.73h0.75v0.75h-0.75zM236.12 78.99h0.75v0.75h-0.75zM227.76 78.05h0.75v0.75h-0.75zM229.81 79.22h0.75v0.75h-0.75zM224.85 79.62h0.75v0.75h-0.75zM234.9 78.45h0.75v0.75h-0.75zM228.86 79.23h0.75v0.75h-0.75zM241.11 78.91h0.75v0.75h-0.75zM239.04 77.54h0.75v0.75h-0.75zM225.33 78.84h0.75v0.75h-0.75zM249.04 79.7h0.75v0.75h-0.75zM222.55 78.1h0.75v0.75h-0.75zM236.63 76.94h0.75v0.75h-0.75zM242.3 78.71h0.75v0.75h-0.75zM244.08 77.96h0.75v0.75h-0.75zM212.83 80.21h0.75v0.75h-0.75zM241.57 78.49h0.75v0.75h-0.75zM243.53 78.53h0.75v0.75h-0.75zM245.5 77.97h0.75v0.75h-0.75zM212.65 78.75h0.75v0.75h-0.75zM226.53 78.03h0.75v0.75h-0.75zM231.71 77.73h0.75v0.75h-0.75zM228.6 78.48h0.75v0.75h-0.75zM244.64 77.81h0.75v0.75h-0.75zM226.51 79.7h0.75v0.75h-0.75zM243.63 77.5h0.75v0.75h-0.75zM237.64 78.47h0.75v0.75h-0.75zM219.54 77.92h0.75v0.75h-0.75zM223.69 77.31h0.75v0.75h-0.75zM228.38 80h0.75v0.75h-0.75zM233.47 76.67h0.75v0.75h-0.75zM241.53 79.82h0.75v0.75h-0.75zM230.96 77.28h0.75v0.75h-0.75zM240.77 78.61h0.75v0.75h-0.75zM218.44 80.53h0.75v0.75h-0.75zM229.57 77.32h0.75v0.75h-0.75zM236.73 79.69h0.75v0.75h-0.75zM229.35 78.68h0.75v0.75h-0.75zM223.51 78.05h0.75v0.75h-0.75zM236.4 78.5h0.75v0.75h-0.75zM250 77.68h0.75v0.75h-0.75zM231.67 78.64h0.75v0.75h-0.75zM226.07 79.85h0.75v0.75h-0.75zM224.99 78.19h0.75v0.75h-0.75zM250.29 78.65h0.75v0.75h-0.75zM232.24 79.59h0.75v0.75h-0.75zM238.11 80.29h0.75v0.75h-0.75zM243.58 78.01h0.75v0.75h-0.75zM242.29 78.8h0.75v0.75h-0.75zM224.3 78.04h0.75v0.75h-0.75zM241.2 77.96h0.75v0.75h-0.75zM240.19 78.18h0.75v0.75h-0.75zM237 77.97h0.75v0.75h-0.75zM241.69 77.01h0.75v0.75h-0.75zM227.55 76.78h0.75v0.75h-0.75zM231.93 77.89h0.75v0.75h-0.75zM227.88 78.65h0.75v0.75h-0.75zM239.42 79.6h0.75v0.75h-0.75zM226.72 78.06h0.75v0.75h-0.75zM236.14 78.38h0.75v0.75h-0.75zM222.75 79.11h0.75v0.75h-0.75zM231.5 79.18h0.75v0.75h-0.75zM229.34 78.43h0.75v0.75h-0.75zM231.57 78.48h0.75v0.75h-0.75zM233.8 80.18h0.75v0.75h-0.75zM230.95 78.24h0.75v0.75h-0.75zM230.62 78.1h0.75v0.75h-0.75zM213.97 77.1h0.75v0.75h-0.75zM242.55 78.91h0.75v0.75h-0.75zM226.99 78.3h0.75v0.75h-0.75zM230.4 80.21h0.75v0.75h-0.75zM225.15 78.24h0.75v0.75h-0.75zM241.59 79.25h0.75v0.75h-0.75zM224.46 79.35h0.75v0.75h-0.75zM237.14 79.98h0.75v0.75h-0.75zM243.2 77.38h0.75v0.75h-0.75zM247.41 79.91h0.75v0.75h-0.75zM243.29 78.54h0.75v0.75h-0.75zM238.18 78.44h0.75v0.75h-0.75zM221.83 78.26h0.75v0.75h-0.75zM244.22 78.18h0.75v0.75h-0.75zM243.3 78.23h0.75v0.75h-0.75zM240.15 76.48h0.75v0.75h-0.75zM239.84 78.98h0.75v0.75h-0.75zM233.31 78.59h0.75v0.75h-0.75zM228 77.69h0.75v0.75h-0.75zM242.35 78.48h0.75v0.75h-0.75zM244.08 80.56h0.75v0.75h-0.75zM223.31 78.87h0.75v0.75h-0.75zM240.86 78.19h0.75v0.75h-0.75zM234.87 80.04h0.75v0.75h-0.75zM240.63 77.83h0.75v0.75h-0.75zM235.13 78.4h0.75v0.75h-0.75zM242.65 78.04h0.75v0.75h-0.75zM241.89 78.32h0.75v0.75h-0.75zM240.65 79.17h0.75v0.75h-0.75zM220.33 79.04h0.75v0.75h-0.75zM240.09 77.89h0.75v0.75h-0.75zM233.15 78.42h0.75v0.75h-0.75zM222.62 78.61h0.75v0.75h-0.75zM239.06 78.17h0.75v0.75h-0.75zM220.46 78.5h0.75v0.75h-0.75zM240.75 77.9h0.75v0.75h-0.75zM247.91 77.88h0.75v0.75h-0.75zM228.24 78.57h0.75v0.75h-0.75zM240.98 77.62h0.75v0.75h-0.75zM236.79 78.9h0.75v0.75h-0.75zM238.58 78.36h0.75v0.75h-0.75zM220.67 77.72h0.75v0.75h-0.75zM238.22 77.99h0.75v0.75h-0.75zM233.97 78.11h0.75v0.75h-0.75zM244.83 77.59h0.75v0.75h-0.75zM245.41 77.37h0.75v0.75h-0.75zM244.72 77.76h0.75v0.75h-0.75zM243.31 78.49h0.75v0.75h-0.75zM248.24 76.59h0.75v0.75h-0.75zM247.11 77.87h0.75v0.75h-0.75zM245.41 77.6h0.75v0.75h-0.75zM247.2 78.21h0.75v0.75h-0.75zM245.87 77.77h0.75v0.75h-0.75zM244.61 77.16h0.75v0.75h-0.75zM245.35 76.87h0.75v0.75h-0.75zM250.87 75.51h0.75v0.75h-0.75zM247.29 78.47h0.75v0.75h-0.75zM247.39 76.35h0.75v0.75h-0.75zM244.32 77.27h0.75v0.75h-0.75zM246.45 79.07h0.75v0.75h-0.75zM249.99 77.26h0.75v0.75h-0.75zM246.08 78.15h0.75v0.75h-0.75zM247.46 77.44h0.75v0.75h-0.75zM247.85 78.23h0.75v0.75h-0.75zM246.54 77.65h0.75v0.75h-0.75zM248.53 77.18h0.75v0.75h-0.75zM245.66 78.79h0.75v0.75h-0.75zM246.23 77.39h0.75v0.75h-0.75zM243.82 76.46h0.75v0.75h-0.75zM250.8 77.34h0.75v0.75h-0.75zM245.81 78.09h0.75v0.75h-0.75zM245.4 76.66h0.75v0.75h-0.75zM248.13 78.3h0.75v0.75h-0.75zM244.12 78.29h0.75v0.75h-0.75zM245.15 79.46h0.75v0.75h-0.75zM243.5 77.07h0.75v0.75h-0.75zM245.21 78.2h0.75v0.75h-0.75zM244.33 76.18h0.75v0.75h-0.75zM246.32 77.26h0.75v0.75h-0.75zM244.89 77.71h0.75v0.75h-0.75zM243.89 77.98h0.75v0.75h-0.75zM244.53 77.58h0.75v0.75h-0.75zM244.91 77.54h0.75v0.75h-0.75zM244.07 77.09h0.75v0.75h-0.75zM247.16 77.24h0.75v0.75h-0.75zM246.59 77.89h0.75v0.75h-0.75zM245.47 78.11h0.75v0.75h-0.75zM242.63 78.18h0.75v0.75h-0.75zM246.26 78.48h0.75v0.75h-0.75zM242.44 78.65h0.75v0.75h-0.75zM245.55 76.07h0.75v0.75h-0.75zM245.26 77.17h0.75v0.75h-0.75zM243.91 77.48h0.75v0.75h-0.75zM243.39 77.07h0.75v0.75h-0.75zM243.68 78.53h0.75v0.75h-0.75zM249.53 78.27h0.75v0.75h-0.75zM244.59 77.53h0.75v0.75h-0.75zM244.72 77.73h0.75v0.75h-0.75zM247.2 78.71h0.75v0.75h-0.75zM246.05 77.32h0.75v0.75h-0.75zM247.41 77.35h0.75v0.75h-0.75zM242.55 78.41h0.75v0.75h-0.75zM242.85 78.03h0.75v0.75h-0.75zM252.24 78.85h0.75v0.75h-0.75z" fill="#4f93d6" fill-opacity="0.5"/>
<path d="M223.7 64 C223.2 53 226.2 48.2 235.6 48 C245.2 48 248.2 53 248.4 63" fill="none" stroke="#2f82d0" stroke-width="5.2" stroke-opacity="0.6" filter="url(#bl)"/>
<path d="M224.2 55 C224.4 50 227.2 48.2 235.6 48 C244.2 48 247 50 247.4 55" fill="none" stroke="#1f6fc0" stroke-width="3.12" stroke-opacity="0.45" filter="url(#bl)"/>
<path d="M239.35 48.34h0.8v0.8h-0.8zM239.87 50.88h0.8v0.8h-0.8zM240.16 49.42h0.8v0.8h-0.8zM243.56 51.79h0.8v0.8h-0.8zM224.46 62.68h0.8v0.8h-0.8zM232.45 48.94h0.8v0.8h-0.8zM235.19 46.67h0.8v0.8h-0.8zM244.26 52.52h0.8v0.8h-0.8zM234.98 46.91h0.8v0.8h-0.8zM237.26 48.25h0.8v0.8h-0.8zM230.7 51.85h0.8v0.8h-0.8zM240.78 49.37h0.8v0.8h-0.8zM232.04 48.72h0.8v0.8h-0.8zM247.65 69.41h0.8v0.8h-0.8zM238.88 47.55h0.8v0.8h-0.8zM240.23 49.01h0.8v0.8h-0.8zM247.35 55.1h0.8v0.8h-0.8zM245.32 51.56h0.8v0.8h-0.8zM245.56 63.82h0.8v0.8h-0.8zM238.08 47.25h0.8v0.8h-0.8zM234.32 49.43h0.8v0.8h-0.8zM235.46 51.13h0.8v0.8h-0.8zM223.54 65.08h0.8v0.8h-0.8zM227.95 50.61h0.8v0.8h-0.8zM223.71 60.55h0.8v0.8h-0.8zM245.47 58.33h0.8v0.8h-0.8zM229.55 49.77h0.8v0.8h-0.8zM241.55 49.23h0.8v0.8h-0.8zM231.62 48.39h0.8v0.8h-0.8zM240.78 50.77h0.8v0.8h-0.8zM236.92 47.23h0.8v0.8h-0.8zM229.26 51.56h0.8v0.8h-0.8zM249.55 69.13h0.8v0.8h-0.8zM226.81 49.61h0.8v0.8h-0.8zM248.48 69.57h0.8v0.8h-0.8zM227.44 50.96h0.8v0.8h-0.8zM241.35 48.96h0.8v0.8h-0.8zM227.24 50.29h0.8v0.8h-0.8zM246.97 58.04h0.8v0.8h-0.8zM246.8 58.41h0.8v0.8h-0.8zM231.23 45.51h0.8v0.8h-0.8zM230.38 48.44h0.8v0.8h-0.8zM221.55 58.21h0.8v0.8h-0.8zM232.07 47.91h0.8v0.8h-0.8zM243.54 51.89h0.8v0.8h-0.8zM233.65 45.93h0.8v0.8h-0.8zM230.95 48.82h0.8v0.8h-0.8zM245.26 52.21h0.8v0.8h-0.8zM220.88 66.01h0.8v0.8h-0.8zM235.15 46.25h0.8v0.8h-0.8zM246.86 55.82h0.8v0.8h-0.8zM241.82 50.25h0.8v0.8h-0.8zM232.72 48.16h0.8v0.8h-0.8zM229.82 47.83h0.8v0.8h-0.8zM245.49 55.73h0.8v0.8h-0.8zM243.34 57.36h0.8v0.8h-0.8zM225.96 51.35h0.8v0.8h-0.8zM236.99 49.43h0.8v0.8h-0.8zM235.78 47.93h0.8v0.8h-0.8zM229.58 48.09h0.8v0.8h-0.8zM246.77 56.86h0.8v0.8h-0.8zM232.14 48.01h0.8v0.8h-0.8zM232.8 48.74h0.8v0.8h-0.8zM221.31 70.61h0.8v0.8h-0.8zM241.26 49.36h0.8v0.8h-0.8zM244.72 54.4h0.8v0.8h-0.8zM237.74 46.02h0.8v0.8h-0.8zM241.51 50.85h0.8v0.8h-0.8zM228.46 52.13h0.8v0.8h-0.8zM235.16 49.49h0.8v0.8h-0.8zM223.1 71.4h0.8v0.8h-0.8zM238.34 49.15h0.8v0.8h-0.8zM252.16 63.71h0.8v0.8h-0.8zM243.3 51.6h0.8v0.8h-0.8zM225.88 51.32h0.8v0.8h-0.8zM249.53 56.93h0.8v0.8h-0.8zM235.5 46.5h0.8v0.8h-0.8zM230.99 49.46h0.8v0.8h-0.8zM233.92 47.54h0.8v0.8h-0.8zM243.88 51.21h0.8v0.8h-0.8zM225.65 53.99h0.8v0.8h-0.8zM237.38 48.73h0.8v0.8h-0.8zM248.12 67.2h0.8v0.8h-0.8zM223.07 58.49h0.8v0.8h-0.8zM231.96 47.74h0.8v0.8h-0.8zM224.1 57.21h0.8v0.8h-0.8zM228.41 51.15h0.8v0.8h-0.8zM243.58 57.27h0.8v0.8h-0.8zM248.84 70.39h0.8v0.8h-0.8zM247.5 70.13h0.8v0.8h-0.8zM237.46 47.48h0.8v0.8h-0.8zM244.34 54.28h0.8v0.8h-0.8zM232.08 47.03h0.8v0.8h-0.8zM243.87 61.9h0.8v0.8h-0.8zM245.46 54.18h0.8v0.8h-0.8zM248.69 60.7h0.8v0.8h-0.8zM224.69 68.45h0.8v0.8h-0.8zM236.99 46.42h0.8v0.8h-0.8zM246.95 62.11h0.8v0.8h-0.8zM234.35 47.83h0.8v0.8h-0.8zM232.7 48.56h0.8v0.8h-0.8zM247.59 64.59h0.8v0.8h-0.8zM244.33 50.74h0.8v0.8h-0.8zM231.17 46.99h0.8v0.8h-0.8zM229.24 50.92h0.8v0.8h-0.8zM235.29 47.46h0.8v0.8h-0.8zM240.38 47.5h0.8v0.8h-0.8zM227.21 51.3h0.8v0.8h-0.8zM240.48 48.87h0.8v0.8h-0.8zM230.73 50.47h0.8v0.8h-0.8zM222.78 68.44h0.8v0.8h-0.8zM224.63 55.58h0.8v0.8h-0.8zM246.77 59.28h0.8v0.8h-0.8zM224.5 58.13h0.8v0.8h-0.8zM230.64 48.62h0.8v0.8h-0.8zM232.09 50.08h0.8v0.8h-0.8zM237.75 48.78h0.8v0.8h-0.8zM234.95 47.89h0.8v0.8h-0.8zM229.63 53.04h0.8v0.8h-0.8zM242.9 50.26h0.8v0.8h-0.8zM228.23 49.74h0.8v0.8h-0.8zM241.77 48.82h0.8v0.8h-0.8zM228.55 49.87h0.8v0.8h-0.8zM247.65 64.49h0.8v0.8h-0.8zM248 66.52h0.8v0.8h-0.8zM248.82 59.83h0.8v0.8h-0.8zM246.52 51.75h0.8v0.8h-0.8zM228.05 50.75h0.8v0.8h-0.8zM225.05 53.45h0.8v0.8h-0.8zM235.61 47.14h0.8v0.8h-0.8zM228.83 50.83h0.8v0.8h-0.8zM236.36 47.74h0.8v0.8h-0.8zM227.71 54.51h0.8v0.8h-0.8zM234.23 46.06h0.8v0.8h-0.8zM249.67 62.1h0.8v0.8h-0.8zM225.13 57.81h0.8v0.8h-0.8zM241.52 49.47h0.8v0.8h-0.8zM227.96 49.43h0.8v0.8h-0.8zM235.78 48.37h0.8v0.8h-0.8zM245.12 49.79h0.8v0.8h-0.8zM231.02 46.37h0.8v0.8h-0.8zM232.15 48.16h0.8v0.8h-0.8zM232.73 48.59h0.8v0.8h-0.8zM230.26 50.38h0.8v0.8h-0.8zM238.91 48.67h0.8v0.8h-0.8zM223.68 56.77h0.8v0.8h-0.8zM242.3 49.68h0.8v0.8h-0.8zM232.56 49.24h0.8v0.8h-0.8zM225.37 55.87h0.8v0.8h-0.8zM225.09 58h0.8v0.8h-0.8zM249.26 66.53h0.8v0.8h-0.8zM231.22 51.14h0.8v0.8h-0.8zM246.89 55.16h0.8v0.8h-0.8zM231.99 49.75h0.8v0.8h-0.8zM237.72 49.88h0.8v0.8h-0.8zM231.08 51.74h0.8v0.8h-0.8zM236.57 46.37h0.8v0.8h-0.8zM224.44 65.15h0.8v0.8h-0.8zM222.79 61.98h0.8v0.8h-0.8zM226.74 50.17h0.8v0.8h-0.8zM247.32 57.27h0.8v0.8h-0.8zM230.92 49.12h0.8v0.8h-0.8zM226.99 51.75h0.8v0.8h-0.8zM240.77 49.71h0.8v0.8h-0.8zM222.82 54.95h0.8v0.8h-0.8zM237.99 48.46h0.8v0.8h-0.8zM226.54 51.59h0.8v0.8h-0.8zM241.07 48.05h0.8v0.8h-0.8zM227.56 51.07h0.8v0.8h-0.8zM224.5 58.52h0.8v0.8h-0.8zM222.78 66.79h0.8v0.8h-0.8zM240.63 48.81h0.8v0.8h-0.8zM241.18 49.15h0.8v0.8h-0.8zM241.53 50.87h0.8v0.8h-0.8zM237.15 49.06h0.8v0.8h-0.8zM241.83 50.14h0.8v0.8h-0.8zM232.29 47.56h0.8v0.8h-0.8zM232.86 50.23h0.8v0.8h-0.8zM231.91 48.46h0.8v0.8h-0.8zM231.82 50.47h0.8v0.8h-0.8zM234.95 48.52h0.8v0.8h-0.8zM245.68 59.09h0.8v0.8h-0.8zM239.46 48.17h0.8v0.8h-0.8zM242.17 47.56h0.8v0.8h-0.8zM248.5 55.28h0.8v0.8h-0.8zM238.13 50.72h0.8v0.8h-0.8zM244.75 56.21h0.8v0.8h-0.8zM242.33 48.73h0.8v0.8h-0.8zM235.95 50.45h0.8v0.8h-0.8z" fill="#2a7cc8" fill-opacity="0.6"/>
<ellipse cx="223.6" cy="79.2" rx="4.6" ry="2.6" fill="#2f8fd8" fill-opacity="0.85"/>
<ellipse cx="223.6" cy="79.2" rx="3.2" ry="1.9" fill="#33c0c0"/>
<ellipse cx="223.9" cy="79.2" rx="2.2" ry="1.4" fill="#55c45a"/>
<ellipse cx="224" cy="79.2" rx="1.3" ry="0.9" fill="#e9c933"/>
<ellipse cx="224.1" cy="79.2" rx="0.6" ry="0.45" fill="#e4572e"/>
<rect x="208.5" y="29.8" width="61.7" height="61" fill="none" stroke="#111" stroke-width="1"/>
<line x1="211.8" y1="91.5" x2="211.8" y2="93.3" stroke="#1a1a1a" stroke-width="0.6"/>
<line x1="215.24" y1="91.5" x2="215.24" y2="92.5" stroke="#1a1a1a" stroke-width="0.45"/>
<line x1="218.68" y1="91.5" x2="218.68" y2="92.5" stroke="#1a1a1a" stroke-width="0.45"/>
<line x1="222.12" y1="91.5" x2="222.12" y2="92.5" stroke="#1a1a1a" stroke-width="0.45"/>
<line x1="225.56" y1="91.5" x2="225.56" y2="92.5" stroke="#1a1a1a" stroke-width="0.45"/>
<line x1="229" y1="91.5" x2="229" y2="93.3" stroke="#1a1a1a" stroke-width="0.6"/>
<line x1="232.44" y1="91.5" x2="232.44" y2="92.5" stroke="#1a1a1a" stroke-width="0.45"/>
<line x1="235.88" y1="91.5" x2="235.88" y2="92.5" stroke="#1a1a1a" stroke-width="0.45"/>
<line x1="239.32" y1="91.5" x2="239.32" y2="92.5" stroke="#1a1a1a" stroke-width="0.45"/>
<line x1="242.76" y1="91.5" x2="242.76" y2="92.5" stroke="#1a1a1a" stroke-width="0.45"/>
<line x1="246.2" y1="91.5" x2="246.2" y2="93.3" stroke="#1a1a1a" stroke-width="0.6"/>
<line x1="249.64" y1="91.5" x2="249.64" y2="92.5" stroke="#1a1a1a" stroke-width="0.45"/>
<line x1="253.08" y1="91.5" x2="253.08" y2="92.5" stroke="#1a1a1a" stroke-width="0.45"/>
<line x1="256.52" y1="91.5" x2="256.52" y2="92.5" stroke="#1a1a1a" stroke-width="0.45"/>
<line x1="259.96" y1="91.5" x2="259.96" y2="92.5" stroke="#1a1a1a" stroke-width="0.45"/>
<line x1="263.4" y1="91.5" x2="263.4" y2="93.3" stroke="#1a1a1a" stroke-width="0.6"/>
<line x1="266.84" y1="91.5" x2="266.84" y2="92.5" stroke="#1a1a1a" stroke-width="0.45"/>
<text x="211.8" y="100.2" font-size="4.8" text-anchor="middle" fill="#333">50K</text>
<text x="229" y="100.2" font-size="4.8" text-anchor="middle" fill="#333">100K</text>
<text x="246.2" y="100.2" font-size="4.8" text-anchor="middle" fill="#333">150K</text>
<text x="263.4" y="100.2" font-size="4.8" text-anchor="middle" fill="#333">200K</text>
<rect x="219.6" y="35.8" width="15.9" height="38.6" fill="none" stroke="#111" stroke-width="0.9"/>
<rect x="235.5" y="35.8" width="16.5" height="38.6" fill="none" stroke="#111" stroke-width="0.9"/>
<rect x="219.6" y="74.4" width="9" height="10.4" fill="none" stroke="#111" stroke-width="0.9"/>
<rect x="241.2" y="74.4" width="11.1" height="7.6" fill="none" stroke="#111" stroke-width="0.9"/>
<text x="209.8" y="35" font-size="4" text-anchor="start" fill="#333">EdU+ early S</text>
<text x="269" y="35" font-size="4" text-anchor="end" fill="#333">EdU+ late S</text>
<text x="211.2" y="43.2" font-size="4" text-anchor="start" fill="#333">13.7</text>
<text x="255" y="41.5" font-size="4" text-anchor="start" fill="#333">12.8</text>
<text x="254.6" y="82.8" font-size="4" text-anchor="start" fill="#333">G2</text>
<text x="239.6" y="88.8" font-size="4" text-anchor="start" fill="#333">1.45</text>
<text x="210.2" y="90" font-size="4" text-anchor="start" fill="#333">G1  70.2</text>
<text x="141.8" y="27" font-size="5.2" text-anchor="start" fill="#222" textLength="28.5" lengthAdjust="spacingAndGlyphs">SgGFP#8016</text>
<text x="209" y="27.4" font-size="5.2" text-anchor="start" fill="#222" textLength="28.2" lengthAdjust="spacingAndGlyphs">SgHLF#8258</text>
<path d="M157.36 129.77h0.75v0.75h-0.75zM156.46 127.38h0.75v0.75h-0.75zM157.05 134.05h0.75v0.75h-0.75zM156.79 135.74h0.75v0.75h-0.75zM156.43 131.93h0.75v0.75h-0.75zM156.77 127.43h0.75v0.75h-0.75zM156.03 135.58h0.75v0.75h-0.75zM157.59 124.26h0.75v0.75h-0.75zM155.18 124.76h0.75v0.75h-0.75zM157.06 124.75h0.75v0.75h-0.75zM155.35 124.36h0.75v0.75h-0.75zM158.16 127.84h0.75v0.75h-0.75zM157.82 134.43h0.75v0.75h-0.75zM156 127.77h0.75v0.75h-0.75zM156.74 137.9h0.75v0.75h-0.75zM155.77 129.48h0.75v0.75h-0.75zM157.31 142.98h0.75v0.75h-0.75zM157.15 128.32h0.75v0.75h-0.75zM159.27 131.52h0.75v0.75h-0.75zM155.36 124.77h0.75v0.75h-0.75zM157.92 128.18h0.75v0.75h-0.75zM156.23 128.24h0.75v0.75h-0.75zM156.91 125.45h0.75v0.75h-0.75zM157.59 128.44h0.75v0.75h-0.75zM157.59 136.13h0.75v0.75h-0.75zM157.54 137.71h0.75v0.75h-0.75zM156.54 127.01h0.75v0.75h-0.75zM156.83 129.94h0.75v0.75h-0.75zM156.78 125.05h0.75v0.75h-0.75zM157.77 125.47h0.75v0.75h-0.75zM155.25 124.29h0.75v0.75h-0.75zM156.7 137.9h0.75v0.75h-0.75zM156.22 143.46h0.75v0.75h-0.75zM155.74 124.79h0.75v0.75h-0.75zM156.16 131.49h0.75v0.75h-0.75zM157.67 125.37h0.75v0.75h-0.75zM158.73 127.53h0.75v0.75h-0.75zM157.86 124.1h0.75v0.75h-0.75zM155.77 130.72h0.75v0.75h-0.75zM157.2 137.35h0.75v0.75h-0.75zM155.9 132.87h0.75v0.75h-0.75zM157.24 129.71h0.75v0.75h-0.75zM158.16 133.47h0.75v0.75h-0.75zM157.38 129.85h0.75v0.75h-0.75zM157.48 125.96h0.75v0.75h-0.75zM156.89 134.71h0.75v0.75h-0.75zM154.92 127.67h0.75v0.75h-0.75zM154.82 125.4h0.75v0.75h-0.75zM157.35 144.91h0.75v0.75h-0.75zM157.14 124.19h0.75v0.75h-0.75zM158.37 138.99h0.75v0.75h-0.75zM156.45 128.29h0.75v0.75h-0.75zM156.92 130.36h0.75v0.75h-0.75zM157.39 137.86h0.75v0.75h-0.75zM157.76 128.37h0.75v0.75h-0.75zM156.76 129.59h0.75v0.75h-0.75zM155.62 124.81h0.75v0.75h-0.75zM157.63 124.75h0.75v0.75h-0.75zM157.45 135.67h0.75v0.75h-0.75zM157.3 132.61h0.75v0.75h-0.75zM155.91 136.13h0.75v0.75h-0.75zM156.8 129.23h0.75v0.75h-0.75zM155.34 132.37h0.75v0.75h-0.75zM154.77 124.7h0.75v0.75h-0.75zM157.13 142.76h0.75v0.75h-0.75zM156.29 126.22h0.75v0.75h-0.75zM157.67 137.75h0.75v0.75h-0.75zM158.68 142.78h0.75v0.75h-0.75zM157.23 140.56h0.75v0.75h-0.75zM158.31 125.44h0.75v0.75h-0.75zM156.13 125.95h0.75v0.75h-0.75zM157.73 134.56h0.75v0.75h-0.75zM155.75 132.02h0.75v0.75h-0.75zM156.74 124.49h0.75v0.75h-0.75zM156.39 125.96h0.75v0.75h-0.75zM156.45 124.99h0.75v0.75h-0.75zM157.33 128.64h0.75v0.75h-0.75zM155.04 128.58h0.75v0.75h-0.75zM157.49 143.47h0.75v0.75h-0.75zM156.5 140.19h0.75v0.75h-0.75zM157.19 136.09h0.75v0.75h-0.75zM157.03 125.61h0.75v0.75h-0.75zM156.7 135.13h0.75v0.75h-0.75zM156.33 125.96h0.75v0.75h-0.75zM156.12 138.72h0.75v0.75h-0.75zM157.36 130.35h0.75v0.75h-0.75zM156.67 141.34h0.75v0.75h-0.75zM157.57 137.98h0.75v0.75h-0.75zM155.67 133.58h0.75v0.75h-0.75zM158.07 129.07h0.75v0.75h-0.75zM155.72 125.65h0.75v0.75h-0.75zM157.7 124.84h0.75v0.75h-0.75zM156.2 124.26h0.75v0.75h-0.75zM157.13 124.62h0.75v0.75h-0.75zM157.06 138.78h0.75v0.75h-0.75zM157.84 139.44h0.75v0.75h-0.75zM156.71 126.63h0.75v0.75h-0.75zM157.83 125.5h0.75v0.75h-0.75zM157.72 136.51h0.75v0.75h-0.75zM157.65 134.57h0.75v0.75h-0.75zM158.6 135.56h0.75v0.75h-0.75zM156.78 144.59h0.75v0.75h-0.75zM158.08 130.88h0.75v0.75h-0.75zM157.08 134.33h0.75v0.75h-0.75zM155.68 135.04h0.75v0.75h-0.75zM157.58 137.35h0.75v0.75h-0.75zM156.93 136.86h0.75v0.75h-0.75zM158.37 129.33h0.75v0.75h-0.75zM156.44 131.33h0.75v0.75h-0.75zM157.16 136.76h0.75v0.75h-0.75zM156.98 128.11h0.75v0.75h-0.75zM155.35 136.72h0.75v0.75h-0.75zM157.46 133.86h0.75v0.75h-0.75zM155.9 129.33h0.75v0.75h-0.75zM158.5 138.92h0.75v0.75h-0.75zM158.24 126.51h0.75v0.75h-0.75zM156.99 134.05h0.75v0.75h-0.75zM155.35 129.32h0.75v0.75h-0.75zM156.96 128.7h0.75v0.75h-0.75zM156.82 125.42h0.75v0.75h-0.75zM157.3 124.83h0.75v0.75h-0.75zM156.63 131.66h0.75v0.75h-0.75zM155.71 129.29h0.75v0.75h-0.75zM156.51 125.01h0.75v0.75h-0.75zM156.24 136.36h0.75v0.75h-0.75zM158.59 132.79h0.75v0.75h-0.75zM156.25 131.68h0.75v0.75h-0.75zM156.01 124.41h0.75v0.75h-0.75zM156.97 134.24h0.75v0.75h-0.75zM155.53 125.79h0.75v0.75h-0.75zM156.23 125.07h0.75v0.75h-0.75zM156.8 132.17h0.75v0.75h-0.75zM156.3 127.87h0.75v0.75h-0.75zM156.99 139.67h0.75v0.75h-0.75zM158.11 133.09h0.75v0.75h-0.75zM157.35 132.87h0.75v0.75h-0.75zM156.08 141.8h0.75v0.75h-0.75zM156.25 125.21h0.75v0.75h-0.75zM157.33 125.14h0.75v0.75h-0.75zM156.05 125.16h0.75v0.75h-0.75zM157.16 136.23h0.75v0.75h-0.75zM157.38 144.1h0.75v0.75h-0.75zM157.39 131.68h0.75v0.75h-0.75zM156.65 129.37h0.75v0.75h-0.75zM156.74 130.75h0.75v0.75h-0.75zM156.16 132.74h0.75v0.75h-0.75zM157.68 142.72h0.75v0.75h-0.75zM155.8 125.42h0.75v0.75h-0.75zM158.79 138.81h0.75v0.75h-0.75zM156.63 125.11h0.75v0.75h-0.75zM156.57 128.33h0.75v0.75h-0.75zM157.44 126.92h0.75v0.75h-0.75zM157.25 142.09h0.75v0.75h-0.75zM157.05 133.12h0.75v0.75h-0.75zM157.02 135.6h0.75v0.75h-0.75zM156.3 133.24h0.75v0.75h-0.75zM156.13 133.47h0.75v0.75h-0.75zM156.19 129.76h0.75v0.75h-0.75zM158 132.86h0.75v0.75h-0.75zM156.28 130.36h0.75v0.75h-0.75zM156.27 125.06h0.75v0.75h-0.75zM156.8 139.38h0.75v0.75h-0.75zM157.26 124.43h0.75v0.75h-0.75zM158.53 126.68h0.75v0.75h-0.75zM155.92 128.24h0.75v0.75h-0.75zM157.27 128h0.75v0.75h-0.75zM157.17 135.38h0.75v0.75h-0.75zM156.85 137.22h0.75v0.75h-0.75zM157.1 124.93h0.75v0.75h-0.75zM155.7 130.73h0.75v0.75h-0.75zM181.85 125.39h0.75v0.75h-0.75zM180.34 124.77h0.75v0.75h-0.75zM177.35 129.43h0.75v0.75h-0.75zM183.72 121.15h0.75v0.75h-0.75zM181.89 126.66h0.75v0.75h-0.75zM182.66 129.07h0.75v0.75h-0.75zM176.22 120.3h0.75v0.75h-0.75zM179.13 127.25h0.75v0.75h-0.75zM178.52 121.22h0.75v0.75h-0.75zM181.34 126.89h0.75v0.75h-0.75zM183.13 129.42h0.75v0.75h-0.75zM175.12 125.49h0.75v0.75h-0.75zM179.85 126.26h0.75v0.75h-0.75zM179.49 123.66h0.75v0.75h-0.75zM182.25 126.27h0.75v0.75h-0.75zM179.7 128.51h0.75v0.75h-0.75zM176.68 125.01h0.75v0.75h-0.75zM179.32 125.13h0.75v0.75h-0.75zM177.26 126.54h0.75v0.75h-0.75zM177.89 127.69h0.75v0.75h-0.75zM179.9 121.15h0.75v0.75h-0.75zM178.62 125.66h0.75v0.75h-0.75zM180.49 123.68h0.75v0.75h-0.75zM176.07 126.82h0.75v0.75h-0.75zM185.5 128.26h0.75v0.75h-0.75zM182.9 126.33h0.75v0.75h-0.75zM181.56 128.94h0.75v0.75h-0.75zM176.63 122.87h0.75v0.75h-0.75zM174.5 124.41h0.75v0.75h-0.75zM177.68 122.87h0.75v0.75h-0.75zM179.23 125.66h0.75v0.75h-0.75zM185.28 125.76h0.75v0.75h-0.75zM183.01 124.97h0.75v0.75h-0.75zM178.51 122.28h0.75v0.75h-0.75zM182.76 125.3h0.75v0.75h-0.75zM182.8 124.34h0.75v0.75h-0.75zM179.84 127.11h0.75v0.75h-0.75zM182.79 124.78h0.75v0.75h-0.75zM180.61 128.6h0.75v0.75h-0.75zM178.19 126.12h0.75v0.75h-0.75zM176.92 120.56h0.75v0.75h-0.75zM179.5 125.04h0.75v0.75h-0.75zM182.25 121.7h0.75v0.75h-0.75zM176.47 128.08h0.75v0.75h-0.75zM175.85 129.32h0.75v0.75h-0.75zM181.15 125.43h0.75v0.75h-0.75zM173.13 126.68h0.75v0.75h-0.75zM184.27 121.66h0.75v0.75h-0.75zM178.72 119.52h0.75v0.75h-0.75zM181.6 124.03h0.75v0.75h-0.75zM184.36 124.82h0.75v0.75h-0.75zM176.24 121.48h0.75v0.75h-0.75zM177.22 125.75h0.75v0.75h-0.75zM185.3 126.34h0.75v0.75h-0.75zM179.1 127.21h0.75v0.75h-0.75zM179.49 129.63h0.75v0.75h-0.75zM180.36 127.66h0.75v0.75h-0.75zM182.39 124.53h0.75v0.75h-0.75zM183.05 125.78h0.75v0.75h-0.75zM180.07 127.1h0.75v0.75h-0.75zM178.98 122.72h0.75v0.75h-0.75zM179.71 129.04h0.75v0.75h-0.75zM180.54 127.9h0.75v0.75h-0.75zM183.01 124.9h0.75v0.75h-0.75zM180.13 123.81h0.75v0.75h-0.75zM184.27 135.63h0.75v0.75h-0.75zM177.69 127.74h0.75v0.75h-0.75zM181.11 128.01h0.75v0.75h-0.75zM184.11 130.29h0.75v0.75h-0.75zM182.96 128.12h0.75v0.75h-0.75zM180.62 126.07h0.75v0.75h-0.75zM177.63 127.38h0.75v0.75h-0.75zM178.05 123.08h0.75v0.75h-0.75zM179.42 127.41h0.75v0.75h-0.75zM180.56 121.41h0.75v0.75h-0.75zM179.19 126.64h0.75v0.75h-0.75zM176.23 127h0.75v0.75h-0.75zM177.99 121.36h0.75v0.75h-0.75zM181.07 130.62h0.75v0.75h-0.75zM181.85 122.45h0.75v0.75h-0.75zM176.37 128.3h0.75v0.75h-0.75zM178.91 124.11h0.75v0.75h-0.75zM175.69 126.35h0.75v0.75h-0.75zM178.42 123.77h0.75v0.75h-0.75zM188.49 132.16h0.75v0.75h-0.75zM179.96 128.27h0.75v0.75h-0.75zM178.95 130.34h0.75v0.75h-0.75zM178.36 127.61h0.75v0.75h-0.75zM176.83 127.39h0.75v0.75h-0.75zM175.24 125.94h0.75v0.75h-0.75zM183.08 127.69h0.75v0.75h-0.75zM178.84 128.52h0.75v0.75h-0.75zM181.71 137.29h0.75v0.75h-0.75zM180.26 133.52h0.75v0.75h-0.75zM179.51 149.43h0.75v0.75h-0.75zM176.61 147.95h0.75v0.75h-0.75zM181.28 138.44h0.75v0.75h-0.75zM178.54 128.32h0.75v0.75h-0.75zM179.01 132.25h0.75v0.75h-0.75zM180.14 124.69h0.75v0.75h-0.75zM179.92 141.21h0.75v0.75h-0.75zM181.62 134.01h0.75v0.75h-0.75zM178.66 148.09h0.75v0.75h-0.75zM180.04 132.23h0.75v0.75h-0.75zM180.23 146.14h0.75v0.75h-0.75zM179.81 134.24h0.75v0.75h-0.75zM180.89 140.99h0.75v0.75h-0.75zM179.35 133.24h0.75v0.75h-0.75zM181.75 145.03h0.75v0.75h-0.75zM178.6 129.83h0.75v0.75h-0.75zM177.4 128.16h0.75v0.75h-0.75zM179.7 125.34h0.75v0.75h-0.75zM181.71 133.91h0.75v0.75h-0.75zM178.92 143.08h0.75v0.75h-0.75zM178.73 136.03h0.75v0.75h-0.75zM179.2 145.92h0.75v0.75h-0.75zM180.04 139.25h0.75v0.75h-0.75zM179.48 137.88h0.75v0.75h-0.75zM180.28 136.97h0.75v0.75h-0.75zM176.94 125.04h0.75v0.75h-0.75zM182.24 139.36h0.75v0.75h-0.75zM180.73 128.97h0.75v0.75h-0.75zM178.35 126.15h0.75v0.75h-0.75zM182.03 126.65h0.75v0.75h-0.75zM180.51 128.29h0.75v0.75h-0.75zM182.19 140.13h0.75v0.75h-0.75zM177.83 131.44h0.75v0.75h-0.75zM182.5 131.67h0.75v0.75h-0.75zM179.84 134.74h0.75v0.75h-0.75zM176.38 148.87h0.75v0.75h-0.75zM181.01 130.7h0.75v0.75h-0.75zM179.27 131.82h0.75v0.75h-0.75zM178.1 130.53h0.75v0.75h-0.75zM179.41 132.18h0.75v0.75h-0.75zM176.57 131.74h0.75v0.75h-0.75zM180.73 145.6h0.75v0.75h-0.75zM179.41 149.46h0.75v0.75h-0.75zM179.32 134.23h0.75v0.75h-0.75zM182.1 146.56h0.75v0.75h-0.75zM179.83 126.76h0.75v0.75h-0.75zM178.68 136.53h0.75v0.75h-0.75zM178.2 145.38h0.75v0.75h-0.75zM179.67 126.35h0.75v0.75h-0.75zM181.52 149.96h0.75v0.75h-0.75zM178.81 134.38h0.75v0.75h-0.75zM178.06 136.98h0.75v0.75h-0.75zM181.29 148.59h0.75v0.75h-0.75zM179.87 147.92h0.75v0.75h-0.75zM179.73 129.43h0.75v0.75h-0.75zM183.2 135.85h0.75v0.75h-0.75zM177.77 143.11h0.75v0.75h-0.75zM180.1 135.96h0.75v0.75h-0.75zM176.84 148.44h0.75v0.75h-0.75zM179.27 129.2h0.75v0.75h-0.75zM180.74 149.36h0.75v0.75h-0.75zM181.62 140.16h0.75v0.75h-0.75zM177.67 139.96h0.75v0.75h-0.75zM181.14 141.77h0.75v0.75h-0.75zM181.06 130.89h0.75v0.75h-0.75zM179.56 135.54h0.75v0.75h-0.75zM162.69 132.74h0.75v0.75h-0.75zM168.3 147.44h0.75v0.75h-0.75zM169.16 132.12h0.75v0.75h-0.75zM165.14 142.34h0.75v0.75h-0.75zM164.56 127.37h0.75v0.75h-0.75zM172.84 129.03h0.75v0.75h-0.75zM170.81 138.55h0.75v0.75h-0.75zM163.3 129.52h0.75v0.75h-0.75zM172.53 145.94h0.75v0.75h-0.75zM162.1 135.98h0.75v0.75h-0.75zM173.02 147.93h0.75v0.75h-0.75zM172.93 138.44h0.75v0.75h-0.75zM163.02 137.71h0.75v0.75h-0.75zM175.07 135.69h0.75v0.75h-0.75zM173.81 126.63h0.75v0.75h-0.75zM163.79 131.16h0.75v0.75h-0.75zM170.38 146.99h0.75v0.75h-0.75zM167.76 140.65h0.75v0.75h-0.75zM163.31 143.33h0.75v0.75h-0.75zM164.17 133.05h0.75v0.75h-0.75zM164.17 126.87h0.75v0.75h-0.75zM170.64 144.06h0.75v0.75h-0.75zM169.25 133.11h0.75v0.75h-0.75zM174.79 143.57h0.75v0.75h-0.75zM165.56 122.96h0.75v0.75h-0.75zM167.98 131.21h0.75v0.75h-0.75zM166.47 139.85h0.75v0.75h-0.75zM166.61 147.99h0.75v0.75h-0.75zM169.41 126.82h0.75v0.75h-0.75zM172.22 149.48h0.75v0.75h-0.75zM170.8 140.57h0.75v0.75h-0.75zM162.9 126.8h0.75v0.75h-0.75zM165.14 121.43h0.75v0.75h-0.75zM170.01 147.93h0.75v0.75h-0.75zM171.89 140.59h0.75v0.75h-0.75zM173.36 141.95h0.75v0.75h-0.75zM166.32 132.99h0.75v0.75h-0.75zM167.68 123.55h0.75v0.75h-0.75zM161.97 134.88h0.75v0.75h-0.75zM168.51 139.66h0.75v0.75h-0.75zM165.53 129.04h0.75v0.75h-0.75zM168.61 148.82h0.75v0.75h-0.75zM169.65 143.44h0.75v0.75h-0.75zM163.68 121.54h0.75v0.75h-0.75zM162.35 129.54h0.75v0.75h-0.75zM171.21 147.12h0.75v0.75h-0.75zM171.34 142.67h0.75v0.75h-0.75zM175.03 144.27h0.75v0.75h-0.75zM168.3 126.46h0.75v0.75h-0.75zM162.24 146.54h0.75v0.75h-0.75zM162.37 140.09h0.75v0.75h-0.75zM174.79 132.73h0.75v0.75h-0.75zM171.52 140.81h0.75v0.75h-0.75zM163.6 128.09h0.75v0.75h-0.75zM167.18 147.03h0.75v0.75h-0.75zM164.02 123.28h0.75v0.75h-0.75zM172.09 128.76h0.75v0.75h-0.75zM171.47 141.83h0.75v0.75h-0.75zM174.19 133.13h0.75v0.75h-0.75zM170.44 146.61h0.75v0.75h-0.75zM179.88 144.69h0.75v0.75h-0.75zM173.4 118.1h0.75v0.75h-0.75zM159.28 117.4h0.75v0.75h-0.75zM162.77 153.68h0.75v0.75h-0.75zM158.01 121.47h0.75v0.75h-0.75zM157.16 131.2h0.75v0.75h-0.75zM143.94 152.8h0.75v0.75h-0.75zM154.81 116.81h0.75v0.75h-0.75zM174.09 153.57h0.75v0.75h-0.75zM167.31 144.36h0.75v0.75h-0.75zM157.98 132.3h0.75v0.75h-0.75zM157.78 125.65h0.75v0.75h-0.75zM151.32 138.36h0.75v0.75h-0.75zM146.78 152.06h0.75v0.75h-0.75zM150.23 123.94h0.75v0.75h-0.75zM170.83 125.96h0.75v0.75h-0.75zM184.39 137.39h0.75v0.75h-0.75zM173.69 151.41h0.75v0.75h-0.75zM158.61 133.64h0.75v0.75h-0.75zM168.22 133.39h0.75v0.75h-0.75zM149.29 158.32h0.75v0.75h-0.75zM147.03 138.97h0.75v0.75h-0.75zM146.16 150.35h0.75v0.75h-0.75zM168.39 145.24h0.75v0.75h-0.75zM169.24 139.58h0.75v0.75h-0.75zM150.24 134.42h0.75v0.75h-0.75zM184.96 144.38h0.75v0.75h-0.75zM149.6 152.42h0.75v0.75h-0.75zM165.88 121.3h0.75v0.75h-0.75zM172.02 126.99h0.75v0.75h-0.75zM144.79 124.33h0.75v0.75h-0.75zM155.35 151.42h0.75v0.75h-0.75zM166.89 129.44h0.75v0.75h-0.75zM173.27 135.07h0.75v0.75h-0.75zM173.47 138.02h0.75v0.75h-0.75zM182.96 153.18h0.75v0.75h-0.75zM144.55 155.2h0.75v0.75h-0.75zM151.86 155.73h0.75v0.75h-0.75zM179.4 153.06h0.75v0.75h-0.75zM162.83 153.18h0.75v0.75h-0.75zM159.21 156.06h0.75v0.75h-0.75zM182.43 153.38h0.75v0.75h-0.75zM148.71 155.88h0.75v0.75h-0.75zM145.02 154.08h0.75v0.75h-0.75zM180.94 153.76h0.75v0.75h-0.75zM177.45 152.97h0.75v0.75h-0.75zM166.06 154.51h0.75v0.75h-0.75zM155.11 154.08h0.75v0.75h-0.75zM175.75 153.01h0.75v0.75h-0.75zM150.75 155.86h0.75v0.75h-0.75zM161.59 154.4h0.75v0.75h-0.75zM151.3 152.65h0.75v0.75h-0.75zM160.8 153.92h0.75v0.75h-0.75zM144.63 153.87h0.75v0.75h-0.75zM162.91 152.97h0.75v0.75h-0.75zM162.64 153.54h0.75v0.75h-0.75zM183.98 152.89h0.75v0.75h-0.75zM159.68 154.19h0.75v0.75h-0.75zM165.83 153.24h0.75v0.75h-0.75zM150.49 152.83h0.75v0.75h-0.75zM155.77 153.82h0.75v0.75h-0.75zM153.65 155.16h0.75v0.75h-0.75zM183.63 152.11h0.75v0.75h-0.75zM149.54 155.07h0.75v0.75h-0.75zM170.28 154.2h0.75v0.75h-0.75zM177.93 153.12h0.75v0.75h-0.75zM182.38 153.64h0.75v0.75h-0.75zM172.82 153.03h0.75v0.75h-0.75zM151.69 154.09h0.75v0.75h-0.75zM181.48 152.49h0.75v0.75h-0.75zM165.2 154.38h0.75v0.75h-0.75zM165.67 155.18h0.75v0.75h-0.75zM180.36 152.83h0.75v0.75h-0.75zM145.05 155.74h0.75v0.75h-0.75zM173.4 151.78h0.75v0.75h-0.75zM175.07 152.83h0.75v0.75h-0.75zM171.41 152.85h0.75v0.75h-0.75zM152.22 155.96h0.75v0.75h-0.75zM181.21 152.88h0.75v0.75h-0.75zM154.05 155.06h0.75v0.75h-0.75zM157.46 152.41h0.75v0.75h-0.75zM178.04 153.62h0.75v0.75h-0.75zM181.5 153.9h0.75v0.75h-0.75zM155.02 154.29h0.75v0.75h-0.75zM163.71 151.58h0.75v0.75h-0.75zM178.65 153.66h0.75v0.75h-0.75zM166.09 154.66h0.75v0.75h-0.75zM153.58 155.56h0.75v0.75h-0.75zM159.36 154.53h0.75v0.75h-0.75zM169.88 152.29h0.75v0.75h-0.75zM173.58 153.49h0.75v0.75h-0.75zM156.82 155.07h0.75v0.75h-0.75zM152.04 153.7h0.75v0.75h-0.75zM175.86 154.1h0.75v0.75h-0.75zM156.63 153.84h0.75v0.75h-0.75zM154.31 154.43h0.75v0.75h-0.75zM156.02 154.97h0.75v0.75h-0.75zM153.71 153.73h0.75v0.75h-0.75zM149.79 157.07h0.75v0.75h-0.75zM159.93 154.29h0.75v0.75h-0.75zM151.99 154.74h0.75v0.75h-0.75zM170.48 153.12h0.75v0.75h-0.75zM148.57 154.61h0.75v0.75h-0.75zM158.77 153.95h0.75v0.75h-0.75zM182.62 152.05h0.75v0.75h-0.75zM162.87 152.67h0.75v0.75h-0.75zM180.35 153.69h0.75v0.75h-0.75zM153.59 154.29h0.75v0.75h-0.75zM176.07 151.22h0.75v0.75h-0.75zM147.88 152.65h0.75v0.75h-0.75zM182.73 153.08h0.75v0.75h-0.75zM183.17 153.28h0.75v0.75h-0.75zM172.28 154.27h0.75v0.75h-0.75zM152.57 153.3h0.75v0.75h-0.75zM174.93 154.16h0.75v0.75h-0.75zM176.82 153.28h0.75v0.75h-0.75zM170.77 153.32h0.75v0.75h-0.75zM175.69 153.47h0.75v0.75h-0.75zM154.62 155.22h0.75v0.75h-0.75zM175.87 154.1h0.75v0.75h-0.75zM153.48 155.18h0.75v0.75h-0.75zM164.79 153.36h0.75v0.75h-0.75zM160.34 153.88h0.75v0.75h-0.75zM153 153.35h0.75v0.75h-0.75zM154.78 153.83h0.75v0.75h-0.75zM180.06 153.09h0.75v0.75h-0.75zM146.88 154.19h0.75v0.75h-0.75zM164.21 154.64h0.75v0.75h-0.75zM163.84 154.4h0.75v0.75h-0.75zM148.88 155.22h0.75v0.75h-0.75zM147.77 154.69h0.75v0.75h-0.75zM162 155.04h0.75v0.75h-0.75zM158.84 154.29h0.75v0.75h-0.75zM154.83 155.2h0.75v0.75h-0.75zM154.69 154.79h0.75v0.75h-0.75zM153.63 155.03h0.75v0.75h-0.75zM170.12 153.73h0.75v0.75h-0.75zM183.78 152.2h0.75v0.75h-0.75zM156.75 152.96h0.75v0.75h-0.75zM160.5 155.89h0.75v0.75h-0.75zM172.51 154.06h0.75v0.75h-0.75zM156.78 154.66h0.75v0.75h-0.75zM149.5 154.37h0.75v0.75h-0.75zM170.56 153.37h0.75v0.75h-0.75zM158.69 156.78h0.75v0.75h-0.75zM144.55 153.68h0.75v0.75h-0.75zM157.63 154.18h0.75v0.75h-0.75zM179.84 153.41h0.75v0.75h-0.75zM146.54 153.6h0.75v0.75h-0.75zM180.32 152.29h0.75v0.75h-0.75zM169.16 153.2h0.75v0.75h-0.75zM177.96 153.21h0.75v0.75h-0.75zM167.01 153.47h0.75v0.75h-0.75zM173.04 154.42h0.75v0.75h-0.75zM180.12 152.38h0.75v0.75h-0.75zM151.33 154.82h0.75v0.75h-0.75zM148.84 155.86h0.75v0.75h-0.75zM167.42 154.69h0.75v0.75h-0.75zM163.7 152.99h0.75v0.75h-0.75zM165.37 151.3h0.75v0.75h-0.75zM158.91 154.95h0.75v0.75h-0.75zM183.89 153.76h0.75v0.75h-0.75zM168.74 153.32h0.75v0.75h-0.75zM169.01 154.99h0.75v0.75h-0.75zM145.55 154.29h0.75v0.75h-0.75zM155.55 154.4h0.75v0.75h-0.75zM155.78 153.36h0.75v0.75h-0.75zM184.41 153.58h0.75v0.75h-0.75zM149.95 154.11h0.75v0.75h-0.75zM164.76 153.53h0.75v0.75h-0.75zM173.87 154.64h0.75v0.75h-0.75zM169.45 154.01h0.75v0.75h-0.75zM175.1 152.27h0.75v0.75h-0.75zM158.97 154.81h0.75v0.75h-0.75zM150.97 155.22h0.75v0.75h-0.75zM153.58 153.62h0.75v0.75h-0.75zM166.54 153.57h0.75v0.75h-0.75zM165.35 154.01h0.75v0.75h-0.75zM160.78 153.9h0.75v0.75h-0.75zM181.43 153.51h0.75v0.75h-0.75zM160.55 154.71h0.75v0.75h-0.75zM152.96 153.95h0.75v0.75h-0.75zM168.62 155.72h0.75v0.75h-0.75zM167.85 153.23h0.75v0.75h-0.75zM176.03 153.1h0.75v0.75h-0.75zM166.96 155.68h0.75v0.75h-0.75zM144.72 156.83h0.75v0.75h-0.75zM163.9 154.05h0.75v0.75h-0.75zM151.83 154.27h0.75v0.75h-0.75zM153.86 153.4h0.75v0.75h-0.75zM175.43 154.64h0.75v0.75h-0.75zM183.2 153.49h0.75v0.75h-0.75zM179.56 152.7h0.75v0.75h-0.75zM153.89 154.73h0.75v0.75h-0.75zM161.57 155.33h0.75v0.75h-0.75zM179.08 154.1h0.75v0.75h-0.75zM178.31 155.5h0.75v0.75h-0.75zM146.74 155.66h0.75v0.75h-0.75zM155.62 154.7h0.75v0.75h-0.75zM168.27 153.83h0.75v0.75h-0.75zM152.28 154.91h0.75v0.75h-0.75zM145.22 155.76h0.75v0.75h-0.75zM153.3 155.16h0.75v0.75h-0.75zM166.22 154.88h0.75v0.75h-0.75zM173.2 153.89h0.75v0.75h-0.75zM174.15 154.34h0.75v0.75h-0.75zM167.21 154.99h0.75v0.75h-0.75zM168.52 153.7h0.75v0.75h-0.75zM165.39 152.79h0.75v0.75h-0.75zM176.4 155.13h0.75v0.75h-0.75zM170.61 154.3h0.75v0.75h-0.75zM171.91 153.34h0.75v0.75h-0.75zM180.8 153.63h0.75v0.75h-0.75zM149.13 154.31h0.75v0.75h-0.75zM145.94 153.11h0.75v0.75h-0.75zM165.83 153.78h0.75v0.75h-0.75zM162.39 152.78h0.75v0.75h-0.75zM181 153.6h0.75v0.75h-0.75zM156.83 154.16h0.75v0.75h-0.75zM171.66 154.76h0.75v0.75h-0.75zM172.42 153.61h0.75v0.75h-0.75zM154.01 154.7h0.75v0.75h-0.75zM144.74 154.41h0.75v0.75h-0.75zM161.27 153.76h0.75v0.75h-0.75zM152.53 153.15h0.75v0.75h-0.75zM152.08 155.32h0.75v0.75h-0.75zM162.95 154.2h0.75v0.75h-0.75zM151.62 153.92h0.75v0.75h-0.75zM166.97 154.09h0.75v0.75h-0.75zM169.22 153.45h0.75v0.75h-0.75zM163.35 153.38h0.75v0.75h-0.75zM167.14 154.12h0.75v0.75h-0.75zM152.36 155.51h0.75v0.75h-0.75zM167.59 153.64h0.75v0.75h-0.75zM178.81 152.21h0.75v0.75h-0.75zM178.6 152.94h0.75v0.75h-0.75zM148.84 156.16h0.75v0.75h-0.75zM157.48 153.51h0.75v0.75h-0.75zM173.31 154.75h0.75v0.75h-0.75zM168.21 153.65h0.75v0.75h-0.75zM159.98 154.82h0.75v0.75h-0.75zM177.98 153.42h0.75v0.75h-0.75zM180.47 152.01h0.75v0.75h-0.75zM167.07 153.53h0.75v0.75h-0.75zM154.46 156.24h0.75v0.75h-0.75zM183.19 153.22h0.75v0.75h-0.75zM163.76 154.53h0.75v0.75h-0.75zM158.34 153.9h0.75v0.75h-0.75zM149.51 154.4h0.75v0.75h-0.75zM182.39 153.66h0.75v0.75h-0.75zM172.23 154.15h0.75v0.75h-0.75zM147.27 156.59h0.75v0.75h-0.75zM151.72 154.43h0.75v0.75h-0.75zM181.65 153.23h0.75v0.75h-0.75zM147.45 153.99h0.75v0.75h-0.75zM171.63 152.56h0.75v0.75h-0.75zM167.34 152.44h0.75v0.75h-0.75zM164.55 154.59h0.75v0.75h-0.75zM172.27 152.05h0.75v0.75h-0.75zM157.96 155.49h0.75v0.75h-0.75zM169.63 154.59h0.75v0.75h-0.75zM179.74 153.19h0.75v0.75h-0.75zM167.47 152.85h0.75v0.75h-0.75zM165.55 153.98h0.75v0.75h-0.75zM169.05 153.85h0.75v0.75h-0.75zM151.91 155.45h0.75v0.75h-0.75zM157.84 153.56h0.75v0.75h-0.75zM173.27 153.35h0.75v0.75h-0.75zM167.29 153.85h0.75v0.75h-0.75zM149.15 154.28h0.75v0.75h-0.75zM179.38 152.91h0.75v0.75h-0.75zM160.98 152.57h0.75v0.75h-0.75zM154.35 152.87h0.75v0.75h-0.75zM150.43 153.88h0.75v0.75h-0.75zM181.67 153.19h0.75v0.75h-0.75zM173.84 154.57h0.75v0.75h-0.75zM156.88 156.34h0.75v0.75h-0.75zM152.16 155.97h0.75v0.75h-0.75zM178.72 153.85h0.75v0.75h-0.75zM150.31 156.18h0.75v0.75h-0.75zM165.43 153.86h0.75v0.75h-0.75zM171.33 153.28h0.75v0.75h-0.75zM182.2 155.46h0.75v0.75h-0.75zM172.05 152.77h0.75v0.75h-0.75zM148.74 154.17h0.75v0.75h-0.75zM165.37 153.73h0.75v0.75h-0.75zM181.12 154.73h0.75v0.75h-0.75zM155.29 153.78h0.75v0.75h-0.75zM147.95 155.28h0.75v0.75h-0.75zM146.76 154.25h0.75v0.75h-0.75zM178.02 152.42h0.75v0.75h-0.75zM182.03 153.59h0.75v0.75h-0.75zM162.99 154.2h0.75v0.75h-0.75zM156.74 153.23h0.75v0.75h-0.75zM160.42 153.36h0.75v0.75h-0.75z" fill="#4f93d6" fill-opacity="0.55"/>
<path d="M155.56 124 L158.66 124 L157.97 147 L156.76 147 Z" fill="#2f86d2" fill-opacity="0.7" filter="url(#bl)"/>
<ellipse cx="157.06" cy="130" rx="0.8" ry="4.0" fill="#35b4c4" fill-opacity="0.85" filter="url(#bl)"/>
<ellipse cx="180" cy="125" rx="3.2" ry="3.0" fill="#4a90d6" fill-opacity="0.45" filter="url(#bl2)"/>
<path d="M177.8 126 L182 126 L180.8 146 L178.8 146 Z" fill="#4a90d6" fill-opacity="0.35" filter="url(#bl)"/>
<path d="M178.42 126.53h0.8v0.8h-0.8zM181.94 125.44h0.8v0.8h-0.8zM180.93 124.87h0.8v0.8h-0.8zM180.49 124h0.8v0.8h-0.8zM180.99 127.67h0.8v0.8h-0.8zM179.06 123.92h0.8v0.8h-0.8zM180.96 125.25h0.8v0.8h-0.8zM178.8 123.17h0.8v0.8h-0.8zM177.35 123.96h0.8v0.8h-0.8zM178.6 125.2h0.8v0.8h-0.8zM180.43 124.32h0.8v0.8h-0.8zM180.19 125.99h0.8v0.8h-0.8zM182.13 125.15h0.8v0.8h-0.8zM176.63 122.54h0.8v0.8h-0.8zM179.57 120.88h0.8v0.8h-0.8zM180.8 126.82h0.8v0.8h-0.8zM178.09 123.98h0.8v0.8h-0.8zM180.51 127.69h0.8v0.8h-0.8zM179.19 125.05h0.8v0.8h-0.8zM177.75 123.65h0.8v0.8h-0.8zM182.25 126.03h0.8v0.8h-0.8zM177.24 124.54h0.8v0.8h-0.8zM182.01 125.05h0.8v0.8h-0.8zM179.19 123.36h0.8v0.8h-0.8zM178.13 126.17h0.8v0.8h-0.8zM178.24 126.99h0.8v0.8h-0.8zM178.54 124.08h0.8v0.8h-0.8zM178.32 128.23h0.8v0.8h-0.8zM180.55 124h0.8v0.8h-0.8zM176.28 125.47h0.8v0.8h-0.8zM182.49 122.08h0.8v0.8h-0.8zM181.68 121.57h0.8v0.8h-0.8zM182.79 128.8h0.8v0.8h-0.8zM178.05 127.59h0.8v0.8h-0.8zM178.77 121.97h0.8v0.8h-0.8zM179.68 125.43h0.8v0.8h-0.8zM180.62 125.78h0.8v0.8h-0.8zM178.98 125.17h0.8v0.8h-0.8zM179.85 125.56h0.8v0.8h-0.8zM180.32 123.37h0.8v0.8h-0.8zM176.92 124.74h0.8v0.8h-0.8zM177.77 124.4h0.8v0.8h-0.8zM180.54 125.69h0.8v0.8h-0.8zM182.17 123.62h0.8v0.8h-0.8zM178.45 124.52h0.8v0.8h-0.8zM180.03 124.25h0.8v0.8h-0.8zM179.46 126.68h0.8v0.8h-0.8zM182.11 125.45h0.8v0.8h-0.8zM180.6 125.73h0.8v0.8h-0.8zM180.48 122.43h0.8v0.8h-0.8zM181.46 124.37h0.8v0.8h-0.8zM179.56 126.49h0.8v0.8h-0.8zM179.6 123.47h0.8v0.8h-0.8zM181.95 124.24h0.8v0.8h-0.8zM180.55 123.28h0.8v0.8h-0.8zM181.02 127.42h0.8v0.8h-0.8zM177.63 124.21h0.8v0.8h-0.8zM180.06 123.71h0.8v0.8h-0.8zM182.45 126.13h0.8v0.8h-0.8zM181.82 127h0.8v0.8h-0.8zM180.71 125.91h0.8v0.8h-0.8zM178.99 126.78h0.8v0.8h-0.8zM178.8 125.4h0.8v0.8h-0.8zM180.9 124.79h0.8v0.8h-0.8zM182.86 124.23h0.8v0.8h-0.8zM180.12 124.1h0.8v0.8h-0.8zM182.64 123.94h0.8v0.8h-0.8zM179.43 125.68h0.8v0.8h-0.8zM182.43 124.81h0.8v0.8h-0.8zM178.03 125.17h0.8v0.8h-0.8zM180.4 126.1h0.8v0.8h-0.8zM177.9 124.92h0.8v0.8h-0.8zM181.35 122.55h0.8v0.8h-0.8zM181.18 123.59h0.8v0.8h-0.8zM178.13 123h0.8v0.8h-0.8zM178.54 121.59h0.8v0.8h-0.8zM179.15 125.2h0.8v0.8h-0.8zM177.06 122.86h0.8v0.8h-0.8zM178.18 122.71h0.8v0.8h-0.8zM178.3 123.08h0.8v0.8h-0.8zM181.59 126.58h0.8v0.8h-0.8zM182.8 124.45h0.8v0.8h-0.8zM179.14 126.81h0.8v0.8h-0.8zM179.46 124.85h0.8v0.8h-0.8zM180.46 124.23h0.8v0.8h-0.8zM178.99 126.03h0.8v0.8h-0.8zM179.47 126.08h0.8v0.8h-0.8z" fill="#2f7fcc" fill-opacity="0.6"/>
<path d="M153.6 154.6 L183.7 152.8 L183.7 154.8 L153.6 156.8 Z" fill="#2f8ad6" fill-opacity="0.85" filter="url(#bl)"/>
<ellipse cx="158.3" cy="155.6" rx="3.8" ry="2.4" fill="#2f8fd8"/>
<ellipse cx="158.3" cy="155.6" rx="2.8" ry="1.9" fill="#33c0c0"/>
<ellipse cx="158.3" cy="155.6" rx="2.1" ry="1.5" fill="#55c45a"/>
<ellipse cx="158.3" cy="155.6" rx="1.4" ry="1.0" fill="#e9c933"/>
<ellipse cx="158.3" cy="155.6" rx="0.7" ry="0.55" fill="#e4572e"/>
<rect x="141.4" y="106.8" width="61.1" height="61.2" fill="none" stroke="#111" stroke-width="1"/>
<line x1="144.7" y1="168.7" x2="144.7" y2="170.5" stroke="#1a1a1a" stroke-width="0.6"/>
<line x1="148.14" y1="168.7" x2="148.14" y2="169.7" stroke="#1a1a1a" stroke-width="0.45"/>
<line x1="151.58" y1="168.7" x2="151.58" y2="169.7" stroke="#1a1a1a" stroke-width="0.45"/>
<line x1="155.02" y1="168.7" x2="155.02" y2="169.7" stroke="#1a1a1a" stroke-width="0.45"/>
<line x1="158.46" y1="168.7" x2="158.46" y2="169.7" stroke="#1a1a1a" stroke-width="0.45"/>
<line x1="161.9" y1="168.7" x2="161.9" y2="170.5" stroke="#1a1a1a" stroke-width="0.6"/>
<line x1="165.34" y1="168.7" x2="165.34" y2="169.7" stroke="#1a1a1a" stroke-width="0.45"/>
<line x1="168.78" y1="168.7" x2="168.78" y2="169.7" stroke="#1a1a1a" stroke-width="0.45"/>
<line x1="172.22" y1="168.7" x2="172.22" y2="169.7" stroke="#1a1a1a" stroke-width="0.45"/>
<line x1="175.66" y1="168.7" x2="175.66" y2="169.7" stroke="#1a1a1a" stroke-width="0.45"/>
<line x1="179.1" y1="168.7" x2="179.1" y2="170.5" stroke="#1a1a1a" stroke-width="0.6"/>
<line x1="182.54" y1="168.7" x2="182.54" y2="169.7" stroke="#1a1a1a" stroke-width="0.45"/>
<line x1="185.98" y1="168.7" x2="185.98" y2="169.7" stroke="#1a1a1a" stroke-width="0.45"/>
<line x1="189.42" y1="168.7" x2="189.42" y2="169.7" stroke="#1a1a1a" stroke-width="0.45"/>
<line x1="192.86" y1="168.7" x2="192.86" y2="169.7" stroke="#1a1a1a" stroke-width="0.45"/>
<line x1="196.3" y1="168.7" x2="196.3" y2="170.5" stroke="#1a1a1a" stroke-width="0.6"/>
<line x1="199.74" y1="168.7" x2="199.74" y2="169.7" stroke="#1a1a1a" stroke-width="0.45"/>
<text x="144.7" y="177.4" font-size="4.8" text-anchor="middle" fill="#333">50K</text>
<text x="161.9" y="177.4" font-size="4.8" text-anchor="middle" fill="#333">100K</text>
<text x="179.1" y="177.4" font-size="4.8" text-anchor="middle" fill="#333">150K</text>
<text x="196.3" y="177.4" font-size="4.8" text-anchor="middle" fill="#333">200K</text>
<rect x="153.6" y="121" width="7.7" height="28.5" fill="none" stroke="#111" stroke-width="0.9"/>
<rect x="175.2" y="118.9" width="9.5" height="30.6" fill="none" stroke="#111" stroke-width="0.9"/>
<rect x="153.6" y="149.5" width="7.7" height="9.5" fill="none" stroke="#111" stroke-width="0.9"/>
<rect x="161.3" y="150.3" width="13.9" height="8.7" fill="none" stroke="#111" stroke-width="0.9"/>
<rect x="175.2" y="149.5" width="9.5" height="8.5" fill="none" stroke="#111" stroke-width="0.9"/>
<text x="143.4" y="112" font-size="4" text-anchor="start" fill="#333">EdU+ early S</text>
<text x="201" y="112" font-size="4" text-anchor="end" fill="#333">EdU+ late S</text>
<text x="154.6" y="118.8" font-size="4" text-anchor="start" fill="#333">11.0</text>
<text x="188.5" y="123.4" font-size="4" text-anchor="start" fill="#333">6.64</text>
<text x="154.2" y="165" font-size="4" text-anchor="start" fill="#333">65.8</text>
<text x="164.6" y="165" font-size="4" text-anchor="start" fill="#333">6.21</text>
<text x="176.6" y="165" font-size="4" text-anchor="start" fill="#333">1.26</text>
<path d="M223.44 137.44h0.75v0.75h-0.75zM225.27 127.18h0.75v0.75h-0.75zM225.64 134.51h0.75v0.75h-0.75zM223.86 131.44h0.75v0.75h-0.75zM224.81 125.58h0.75v0.75h-0.75zM222.64 125.1h0.75v0.75h-0.75zM223.44 136.48h0.75v0.75h-0.75zM223.63 125.8h0.75v0.75h-0.75zM224.09 128.55h0.75v0.75h-0.75zM224.07 132.58h0.75v0.75h-0.75zM223.7 138.89h0.75v0.75h-0.75zM226.04 132.45h0.75v0.75h-0.75zM224.51 132.62h0.75v0.75h-0.75zM224.84 140.89h0.75v0.75h-0.75zM224.73 129.06h0.75v0.75h-0.75zM224.82 143.05h0.75v0.75h-0.75zM224.03 132.59h0.75v0.75h-0.75zM223.54 127.74h0.75v0.75h-0.75zM222.71 131.86h0.75v0.75h-0.75zM225.72 135.05h0.75v0.75h-0.75zM223.35 131.53h0.75v0.75h-0.75zM223.01 139.85h0.75v0.75h-0.75zM223.4 130.08h0.75v0.75h-0.75zM222.74 131.8h0.75v0.75h-0.75zM225.94 129.15h0.75v0.75h-0.75zM224.26 124.58h0.75v0.75h-0.75zM225.76 138.26h0.75v0.75h-0.75zM225.36 127.19h0.75v0.75h-0.75zM225.09 140.66h0.75v0.75h-0.75zM225.3 145.74h0.75v0.75h-0.75zM223.39 127.95h0.75v0.75h-0.75zM224.14 131.82h0.75v0.75h-0.75zM223.67 132.1h0.75v0.75h-0.75zM224.15 129.21h0.75v0.75h-0.75zM223.55 131.43h0.75v0.75h-0.75zM225.82 142.97h0.75v0.75h-0.75zM224.95 132.64h0.75v0.75h-0.75zM223.83 124.73h0.75v0.75h-0.75zM222.78 134.44h0.75v0.75h-0.75zM225.36 144.89h0.75v0.75h-0.75zM224.75 124.86h0.75v0.75h-0.75zM223.92 126.07h0.75v0.75h-0.75zM223.26 137h0.75v0.75h-0.75zM224.36 125.66h0.75v0.75h-0.75zM225.03 128.15h0.75v0.75h-0.75zM222.25 126.71h0.75v0.75h-0.75zM225.22 144.01h0.75v0.75h-0.75zM222.57 132.5h0.75v0.75h-0.75zM224.34 133.23h0.75v0.75h-0.75zM226.28 143.39h0.75v0.75h-0.75zM224.25 130.63h0.75v0.75h-0.75zM224.39 125.14h0.75v0.75h-0.75zM223.84 129.93h0.75v0.75h-0.75zM224.02 127.11h0.75v0.75h-0.75zM226.79 142.2h0.75v0.75h-0.75zM225.35 129.69h0.75v0.75h-0.75zM223.99 133.52h0.75v0.75h-0.75zM223.79 130.09h0.75v0.75h-0.75zM224.2 130.98h0.75v0.75h-0.75zM225.92 124.11h0.75v0.75h-0.75zM224.4 131.71h0.75v0.75h-0.75zM225.57 140.14h0.75v0.75h-0.75zM223.63 125.48h0.75v0.75h-0.75zM223.61 146.02h0.75v0.75h-0.75zM225.34 129.67h0.75v0.75h-0.75zM224.45 139.43h0.75v0.75h-0.75zM223.27 126.11h0.75v0.75h-0.75zM223.6 132.47h0.75v0.75h-0.75zM223.79 136.71h0.75v0.75h-0.75zM224.08 142.49h0.75v0.75h-0.75zM222.76 130.71h0.75v0.75h-0.75zM225.52 136.91h0.75v0.75h-0.75zM224.34 126.22h0.75v0.75h-0.75zM225.06 130.6h0.75v0.75h-0.75zM223.59 124.23h0.75v0.75h-0.75zM224.84 139.56h0.75v0.75h-0.75zM224.31 130.32h0.75v0.75h-0.75zM225.22 130.05h0.75v0.75h-0.75zM225.14 136.23h0.75v0.75h-0.75zM224.25 124.45h0.75v0.75h-0.75zM223.52 129.35h0.75v0.75h-0.75zM223.18 133.64h0.75v0.75h-0.75zM223.65 136.1h0.75v0.75h-0.75zM223.81 136.15h0.75v0.75h-0.75zM224.19 143.59h0.75v0.75h-0.75zM223.25 136.14h0.75v0.75h-0.75zM225.58 128.09h0.75v0.75h-0.75zM224.7 137.75h0.75v0.75h-0.75zM222.27 129.33h0.75v0.75h-0.75zM223.45 137.74h0.75v0.75h-0.75zM223.11 134.9h0.75v0.75h-0.75zM224.28 128.12h0.75v0.75h-0.75zM225.03 127.74h0.75v0.75h-0.75zM223.33 132.2h0.75v0.75h-0.75zM224.63 128.17h0.75v0.75h-0.75zM224.12 135.76h0.75v0.75h-0.75zM225.16 129.18h0.75v0.75h-0.75zM225.88 142.2h0.75v0.75h-0.75zM224.65 135.66h0.75v0.75h-0.75zM224.95 133.93h0.75v0.75h-0.75zM224.05 127.74h0.75v0.75h-0.75zM223.72 128.06h0.75v0.75h-0.75zM222.87 124.78h0.75v0.75h-0.75zM225.05 145.26h0.75v0.75h-0.75zM223.97 127.35h0.75v0.75h-0.75zM223.67 127.11h0.75v0.75h-0.75zM223.85 124.39h0.75v0.75h-0.75zM224.14 134.26h0.75v0.75h-0.75zM223.07 127.08h0.75v0.75h-0.75zM223.6 128.62h0.75v0.75h-0.75zM225.35 134.11h0.75v0.75h-0.75zM223.96 130.89h0.75v0.75h-0.75zM225.79 139.37h0.75v0.75h-0.75zM223.15 131.49h0.75v0.75h-0.75zM222.93 130.76h0.75v0.75h-0.75zM224.06 125.09h0.75v0.75h-0.75zM224.74 127.29h0.75v0.75h-0.75zM224.04 142.36h0.75v0.75h-0.75zM225 137.34h0.75v0.75h-0.75zM224.94 128.79h0.75v0.75h-0.75zM225.1 129.51h0.75v0.75h-0.75zM223.86 125.64h0.75v0.75h-0.75zM223.95 126.43h0.75v0.75h-0.75zM222.51 126.97h0.75v0.75h-0.75zM224.69 143.19h0.75v0.75h-0.75zM224.22 125.6h0.75v0.75h-0.75zM225.28 126.22h0.75v0.75h-0.75zM223.15 134.11h0.75v0.75h-0.75zM223.41 131.12h0.75v0.75h-0.75zM223.23 129.98h0.75v0.75h-0.75zM224.76 124.93h0.75v0.75h-0.75zM221.83 129.94h0.75v0.75h-0.75zM223.44 137.05h0.75v0.75h-0.75zM226.47 141.28h0.75v0.75h-0.75zM225 136.6h0.75v0.75h-0.75zM222.77 125.99h0.75v0.75h-0.75zM224.02 128.35h0.75v0.75h-0.75zM225.02 132.71h0.75v0.75h-0.75zM224.53 127.21h0.75v0.75h-0.75zM223.9 129.07h0.75v0.75h-0.75zM223.35 128.4h0.75v0.75h-0.75zM224.66 124.1h0.75v0.75h-0.75zM223.91 124.34h0.75v0.75h-0.75zM224.92 131.18h0.75v0.75h-0.75zM224.63 133.23h0.75v0.75h-0.75zM223.5 124.55h0.75v0.75h-0.75zM225.55 132.41h0.75v0.75h-0.75zM223.78 132.36h0.75v0.75h-0.75zM224.43 127.45h0.75v0.75h-0.75zM223.48 127.83h0.75v0.75h-0.75zM223.9 129.15h0.75v0.75h-0.75zM224.1 134.65h0.75v0.75h-0.75zM223.42 127h0.75v0.75h-0.75zM224.69 138.35h0.75v0.75h-0.75zM225.56 135.79h0.75v0.75h-0.75zM225.91 132h0.75v0.75h-0.75zM225.99 143.6h0.75v0.75h-0.75zM224.17 134.75h0.75v0.75h-0.75zM225.39 128.13h0.75v0.75h-0.75zM224.34 125.4h0.75v0.75h-0.75zM226.33 143.95h0.75v0.75h-0.75zM223.28 137.04h0.75v0.75h-0.75zM225.9 140.33h0.75v0.75h-0.75zM223.49 127.23h0.75v0.75h-0.75zM225.41 135.47h0.75v0.75h-0.75zM224.02 137.66h0.75v0.75h-0.75zM224.75 124.48h0.75v0.75h-0.75zM223.8 127.97h0.75v0.75h-0.75zM222.42 129.68h0.75v0.75h-0.75zM223.34 132.02h0.75v0.75h-0.75zM223.72 125.03h0.75v0.75h-0.75zM223.98 125.36h0.75v0.75h-0.75zM221.93 125.54h0.75v0.75h-0.75zM222.97 127.87h0.75v0.75h-0.75zM223.55 131.86h0.75v0.75h-0.75zM224.15 135.01h0.75v0.75h-0.75zM224.56 135.47h0.75v0.75h-0.75zM223.21 125.32h0.75v0.75h-0.75zM223.19 140.72h0.75v0.75h-0.75zM224.59 134.45h0.75v0.75h-0.75zM223.82 129.46h0.75v0.75h-0.75zM224.96 130.37h0.75v0.75h-0.75zM223.42 124h0.75v0.75h-0.75zM224.68 128.96h0.75v0.75h-0.75zM223.56 135.66h0.75v0.75h-0.75zM224.44 131.32h0.75v0.75h-0.75zM224.05 125.71h0.75v0.75h-0.75zM224.86 137.85h0.75v0.75h-0.75zM223.17 127.02h0.75v0.75h-0.75zM223.81 124.45h0.75v0.75h-0.75zM223.15 124.47h0.75v0.75h-0.75zM223.83 125.84h0.75v0.75h-0.75zM224.55 126.08h0.75v0.75h-0.75zM226.91 131.49h0.75v0.75h-0.75zM224.01 125.99h0.75v0.75h-0.75zM224.87 132.05h0.75v0.75h-0.75zM224.55 137.73h0.75v0.75h-0.75zM225.07 127.54h0.75v0.75h-0.75zM224.36 125.13h0.75v0.75h-0.75zM225.33 135.96h0.75v0.75h-0.75zM224.91 141.2h0.75v0.75h-0.75zM226.2 127.13h0.75v0.75h-0.75zM225.25 126.48h0.75v0.75h-0.75zM222.66 131.46h0.75v0.75h-0.75zM224.57 134.03h0.75v0.75h-0.75zM224.12 127.57h0.75v0.75h-0.75zM222.36 135.49h0.75v0.75h-0.75zM223.39 130.64h0.75v0.75h-0.75zM223.7 129.41h0.75v0.75h-0.75zM223.54 131.5h0.75v0.75h-0.75zM224.45 134.72h0.75v0.75h-0.75zM222.42 127.54h0.75v0.75h-0.75zM224.95 133.22h0.75v0.75h-0.75zM225.31 141.6h0.75v0.75h-0.75zM224.35 127.13h0.75v0.75h-0.75zM223.81 129.13h0.75v0.75h-0.75zM224.5 138.75h0.75v0.75h-0.75zM224.44 148.05h0.75v0.75h-0.75zM224.99 125.31h0.75v0.75h-0.75zM224.89 137.17h0.75v0.75h-0.75zM226.04 132.26h0.75v0.75h-0.75zM224.29 142.07h0.75v0.75h-0.75zM225.42 129.03h0.75v0.75h-0.75zM223.71 132.3h0.75v0.75h-0.75zM223.91 127.89h0.75v0.75h-0.75zM223.05 126.27h0.75v0.75h-0.75zM224.75 133.33h0.75v0.75h-0.75zM224.43 138.51h0.75v0.75h-0.75zM225.14 140.77h0.75v0.75h-0.75zM225.65 133.92h0.75v0.75h-0.75zM224.68 144.58h0.75v0.75h-0.75zM225.15 146.42h0.75v0.75h-0.75zM224.98 130.62h0.75v0.75h-0.75zM224.22 133.18h0.75v0.75h-0.75zM223.61 129.1h0.75v0.75h-0.75zM224.52 131.17h0.75v0.75h-0.75zM224.44 126h0.75v0.75h-0.75zM225.08 135.79h0.75v0.75h-0.75zM224.94 131.05h0.75v0.75h-0.75zM223.8 136.54h0.75v0.75h-0.75zM224.51 129.11h0.75v0.75h-0.75zM225.37 132.9h0.75v0.75h-0.75zM224.23 142.5h0.75v0.75h-0.75zM224.26 124.56h0.75v0.75h-0.75zM224 140.3h0.75v0.75h-0.75zM224.17 126.71h0.75v0.75h-0.75zM225.91 134.94h0.75v0.75h-0.75zM224.3 129.86h0.75v0.75h-0.75zM223.14 126.55h0.75v0.75h-0.75zM224.83 139.29h0.75v0.75h-0.75zM224.87 143.21h0.75v0.75h-0.75zM225.14 129.62h0.75v0.75h-0.75zM223 132.38h0.75v0.75h-0.75zM223.8 141.98h0.75v0.75h-0.75zM224.1 130.71h0.75v0.75h-0.75zM222.58 125.82h0.75v0.75h-0.75zM225.01 125.96h0.75v0.75h-0.75zM222.45 133.32h0.75v0.75h-0.75zM223.63 135.92h0.75v0.75h-0.75zM222.61 124.87h0.75v0.75h-0.75zM223.98 140.58h0.75v0.75h-0.75zM224.95 132.05h0.75v0.75h-0.75zM224.68 129.63h0.75v0.75h-0.75zM224.98 129.87h0.75v0.75h-0.75zM224.66 129.24h0.75v0.75h-0.75zM222.1 124.78h0.75v0.75h-0.75zM224.55 133.23h0.75v0.75h-0.75zM222.39 127.82h0.75v0.75h-0.75zM223.71 130.36h0.75v0.75h-0.75zM223.61 125.34h0.75v0.75h-0.75zM224.13 141.73h0.75v0.75h-0.75zM225.1 142.76h0.75v0.75h-0.75zM245.07 122.31h0.75v0.75h-0.75zM251.19 124.52h0.75v0.75h-0.75zM248.46 124.67h0.75v0.75h-0.75zM249.86 126.77h0.75v0.75h-0.75zM248.84 127.33h0.75v0.75h-0.75zM249.17 122.65h0.75v0.75h-0.75zM246.92 127.44h0.75v0.75h-0.75zM251.74 125.38h0.75v0.75h-0.75zM244.49 122.81h0.75v0.75h-0.75zM248.13 127.72h0.75v0.75h-0.75zM247.03 123.58h0.75v0.75h-0.75zM246.48 122.46h0.75v0.75h-0.75zM247.79 127.52h0.75v0.75h-0.75zM245.22 127.89h0.75v0.75h-0.75zM249.11 123.85h0.75v0.75h-0.75zM248.91 128.3h0.75v0.75h-0.75zM247.25 128.16h0.75v0.75h-0.75zM248.79 124.21h0.75v0.75h-0.75zM244.52 130.75h0.75v0.75h-0.75zM242.67 125.41h0.75v0.75h-0.75zM245.62 126.15h0.75v0.75h-0.75zM246.45 119.37h0.75v0.75h-0.75zM253.02 127.22h0.75v0.75h-0.75zM246.47 123.96h0.75v0.75h-0.75zM249.5 126.71h0.75v0.75h-0.75zM249.05 121.13h0.75v0.75h-0.75zM252.1 128.57h0.75v0.75h-0.75zM247.3 129.35h0.75v0.75h-0.75zM248.59 130.47h0.75v0.75h-0.75zM246.56 117.91h0.75v0.75h-0.75zM244.94 127.1h0.75v0.75h-0.75zM244.61 126.47h0.75v0.75h-0.75zM245.14 117.73h0.75v0.75h-0.75zM250.46 123.68h0.75v0.75h-0.75zM247.71 125.36h0.75v0.75h-0.75zM246.65 129.27h0.75v0.75h-0.75zM247.06 123.42h0.75v0.75h-0.75zM245.67 126.12h0.75v0.75h-0.75zM246.94 125.44h0.75v0.75h-0.75zM246.92 126.54h0.75v0.75h-0.75zM248.59 124.56h0.75v0.75h-0.75zM249.21 127.91h0.75v0.75h-0.75zM243.09 128.11h0.75v0.75h-0.75zM247.58 122.06h0.75v0.75h-0.75zM250.33 128.5h0.75v0.75h-0.75zM244.57 123.66h0.75v0.75h-0.75zM246.42 124.88h0.75v0.75h-0.75zM247.43 128.52h0.75v0.75h-0.75zM249.67 125.86h0.75v0.75h-0.75zM248.46 127.1h0.75v0.75h-0.75zM246.5 127.65h0.75v0.75h-0.75zM248.23 127.16h0.75v0.75h-0.75zM249.52 124.21h0.75v0.75h-0.75zM247.96 123.14h0.75v0.75h-0.75zM251.49 127.38h0.75v0.75h-0.75zM248.04 127.58h0.75v0.75h-0.75zM244.5 126.54h0.75v0.75h-0.75zM245.14 125.13h0.75v0.75h-0.75zM246.7 127.84h0.75v0.75h-0.75zM246.53 125.55h0.75v0.75h-0.75zM248.52 122.07h0.75v0.75h-0.75zM247.88 126.35h0.75v0.75h-0.75zM251.15 126.93h0.75v0.75h-0.75zM248.98 127.63h0.75v0.75h-0.75zM250.6 123.31h0.75v0.75h-0.75zM245.19 123.68h0.75v0.75h-0.75zM246 126.49h0.75v0.75h-0.75zM248.67 124.47h0.75v0.75h-0.75zM247.25 125.46h0.75v0.75h-0.75zM248.54 128.07h0.75v0.75h-0.75zM247.63 126.66h0.75v0.75h-0.75zM245.54 130.37h0.75v0.75h-0.75zM251.12 126.4h0.75v0.75h-0.75zM249.78 130.08h0.75v0.75h-0.75zM243.3 128.41h0.75v0.75h-0.75zM245.55 132.25h0.75v0.75h-0.75zM247.09 125.7h0.75v0.75h-0.75zM248.67 125.44h0.75v0.75h-0.75zM246.86 129.05h0.75v0.75h-0.75zM243.77 124.34h0.75v0.75h-0.75zM249.03 124.48h0.75v0.75h-0.75zM246.54 126.32h0.75v0.75h-0.75zM249.93 126.66h0.75v0.75h-0.75zM247.77 122.06h0.75v0.75h-0.75zM249.44 126.35h0.75v0.75h-0.75zM249.05 124.89h0.75v0.75h-0.75zM249.16 125.63h0.75v0.75h-0.75zM245.82 126.16h0.75v0.75h-0.75zM249.51 125.21h0.75v0.75h-0.75zM247.53 128.48h0.75v0.75h-0.75zM250.09 129.06h0.75v0.75h-0.75zM245.82 131.27h0.75v0.75h-0.75zM246.94 140.65h0.75v0.75h-0.75zM244.89 132.76h0.75v0.75h-0.75zM248.3 129.65h0.75v0.75h-0.75zM246.86 132.35h0.75v0.75h-0.75zM244.39 143.82h0.75v0.75h-0.75zM245.75 134.85h0.75v0.75h-0.75zM249.92 139.63h0.75v0.75h-0.75zM248.21 130.77h0.75v0.75h-0.75zM247.24 140.22h0.75v0.75h-0.75zM248.43 125.1h0.75v0.75h-0.75zM244.52 125.48h0.75v0.75h-0.75zM245.75 129.65h0.75v0.75h-0.75zM244.95 144.53h0.75v0.75h-0.75zM245.74 128.55h0.75v0.75h-0.75zM246.45 134.91h0.75v0.75h-0.75zM247.9 149.83h0.75v0.75h-0.75zM248.66 130.06h0.75v0.75h-0.75zM248.61 127.8h0.75v0.75h-0.75zM251.32 131.18h0.75v0.75h-0.75zM246.27 137.83h0.75v0.75h-0.75zM247.02 147.32h0.75v0.75h-0.75zM247.86 124.82h0.75v0.75h-0.75zM245.74 137.82h0.75v0.75h-0.75zM246.6 124.46h0.75v0.75h-0.75zM247.7 149.79h0.75v0.75h-0.75zM245.65 135.87h0.75v0.75h-0.75zM247.8 141.59h0.75v0.75h-0.75zM249 130.71h0.75v0.75h-0.75zM245.28 136.32h0.75v0.75h-0.75zM243.42 145.41h0.75v0.75h-0.75zM247.18 127.07h0.75v0.75h-0.75zM245.4 129.59h0.75v0.75h-0.75zM247.32 131.89h0.75v0.75h-0.75zM246.33 145.37h0.75v0.75h-0.75zM247.53 147.4h0.75v0.75h-0.75zM248.84 143.5h0.75v0.75h-0.75zM248.34 130.38h0.75v0.75h-0.75zM246.48 132.21h0.75v0.75h-0.75zM245.19 143.12h0.75v0.75h-0.75zM243.1 135.56h0.75v0.75h-0.75zM243.59 133.04h0.75v0.75h-0.75zM245.78 149.91h0.75v0.75h-0.75zM247.19 130.67h0.75v0.75h-0.75zM245.96 144.27h0.75v0.75h-0.75zM246.08 128.59h0.75v0.75h-0.75zM244.49 147.72h0.75v0.75h-0.75zM244.4 131.41h0.75v0.75h-0.75zM244.28 147.95h0.75v0.75h-0.75zM248 142.47h0.75v0.75h-0.75zM243.86 146.73h0.75v0.75h-0.75zM248.08 140.55h0.75v0.75h-0.75zM245.56 126.68h0.75v0.75h-0.75zM247.84 134.33h0.75v0.75h-0.75zM247.36 149.46h0.75v0.75h-0.75zM248.18 127.23h0.75v0.75h-0.75zM248.86 137.84h0.75v0.75h-0.75zM245.72 137.56h0.75v0.75h-0.75zM245.42 135.35h0.75v0.75h-0.75zM246.26 131.3h0.75v0.75h-0.75zM245.72 132.02h0.75v0.75h-0.75zM248 129.29h0.75v0.75h-0.75zM246.76 130.82h0.75v0.75h-0.75zM246.95 124.97h0.75v0.75h-0.75zM247.6 143.48h0.75v0.75h-0.75zM246.18 147.23h0.75v0.75h-0.75zM248.67 129.73h0.75v0.75h-0.75zM244 125.5h0.75v0.75h-0.75zM247.29 133.99h0.75v0.75h-0.75zM232.74 122.24h0.75v0.75h-0.75zM230.79 139.6h0.75v0.75h-0.75zM232.58 145.95h0.75v0.75h-0.75zM231.05 122.47h0.75v0.75h-0.75zM237.7 142.41h0.75v0.75h-0.75zM238.81 137.9h0.75v0.75h-0.75zM236.75 136h0.75v0.75h-0.75zM238.36 128.94h0.75v0.75h-0.75zM238.88 142.31h0.75v0.75h-0.75zM236.43 127.39h0.75v0.75h-0.75zM231.04 126.29h0.75v0.75h-0.75zM237.36 131.15h0.75v0.75h-0.75zM228.74 149.75h0.75v0.75h-0.75zM235.07 132.77h0.75v0.75h-0.75zM230.65 125.15h0.75v0.75h-0.75zM238.16 132.59h0.75v0.75h-0.75zM237.75 143.2h0.75v0.75h-0.75zM233.04 139.1h0.75v0.75h-0.75zM236.58 141.82h0.75v0.75h-0.75zM238.36 144.96h0.75v0.75h-0.75zM235.56 129.44h0.75v0.75h-0.75zM231.97 131.07h0.75v0.75h-0.75zM229.98 145.87h0.75v0.75h-0.75zM240.6 132.09h0.75v0.75h-0.75zM229.63 135.86h0.75v0.75h-0.75zM231.18 145.16h0.75v0.75h-0.75zM239.32 139.25h0.75v0.75h-0.75zM229.1 147.48h0.75v0.75h-0.75zM230.41 121.42h0.75v0.75h-0.75zM233.6 138.97h0.75v0.75h-0.75zM230.52 135.79h0.75v0.75h-0.75zM228.97 132.91h0.75v0.75h-0.75zM239.25 129.59h0.75v0.75h-0.75zM230.82 131.92h0.75v0.75h-0.75zM241.19 144.71h0.75v0.75h-0.75zM229.09 134.82h0.75v0.75h-0.75zM232.23 127.38h0.75v0.75h-0.75zM236.39 141.12h0.75v0.75h-0.75zM229.8 144.77h0.75v0.75h-0.75zM235.1 132.78h0.75v0.75h-0.75zM235.22 124.78h0.75v0.75h-0.75zM236.8 142.59h0.75v0.75h-0.75zM241.37 141.04h0.75v0.75h-0.75zM234.12 141.12h0.75v0.75h-0.75zM241.12 121.41h0.75v0.75h-0.75zM231.46 124.47h0.75v0.75h-0.75zM237.55 149.04h0.75v0.75h-0.75zM234.4 137.07h0.75v0.75h-0.75zM239.26 128.54h0.75v0.75h-0.75zM235.69 122.44h0.75v0.75h-0.75zM240.35 134.79h0.75v0.75h-0.75zM230.57 130.4h0.75v0.75h-0.75zM232.1 125.51h0.75v0.75h-0.75zM236.02 139.49h0.75v0.75h-0.75zM237.29 126.21h0.75v0.75h-0.75zM233.71 148.47h0.75v0.75h-0.75zM239.65 127.73h0.75v0.75h-0.75zM233.7 146.78h0.75v0.75h-0.75zM241.47 131.29h0.75v0.75h-0.75zM241.43 129.48h0.75v0.75h-0.75zM244.57 130.76h0.75v0.75h-0.75zM233.35 135.27h0.75v0.75h-0.75zM217.13 120.01h0.75v0.75h-0.75zM248.21 130.01h0.75v0.75h-0.75zM235.34 123.29h0.75v0.75h-0.75zM236.15 145.23h0.75v0.75h-0.75zM227.68 149.7h0.75v0.75h-0.75zM247.55 150.16h0.75v0.75h-0.75zM238.19 155.86h0.75v0.75h-0.75zM214.17 132.02h0.75v0.75h-0.75zM250.19 143.59h0.75v0.75h-0.75zM236.03 157.83h0.75v0.75h-0.75zM223 137.28h0.75v0.75h-0.75zM212.73 138.2h0.75v0.75h-0.75zM212.75 144.3h0.75v0.75h-0.75zM216.33 116.16h0.75v0.75h-0.75zM222.31 153.01h0.75v0.75h-0.75zM234.35 133.53h0.75v0.75h-0.75zM220.92 148.78h0.75v0.75h-0.75zM245.9 120.76h0.75v0.75h-0.75zM234.28 136.96h0.75v0.75h-0.75zM229.92 140.4h0.75v0.75h-0.75zM229.96 149.58h0.75v0.75h-0.75zM221.58 141.66h0.75v0.75h-0.75zM234.79 142.8h0.75v0.75h-0.75zM221.24 156.4h0.75v0.75h-0.75zM225.25 126.98h0.75v0.75h-0.75zM233.56 134.99h0.75v0.75h-0.75zM239.09 154.44h0.75v0.75h-0.75zM225.45 135.34h0.75v0.75h-0.75zM242.92 141.43h0.75v0.75h-0.75zM226.78 137.55h0.75v0.75h-0.75zM251.53 158.63h0.75v0.75h-0.75zM217.51 145.36h0.75v0.75h-0.75zM236.56 149.58h0.75v0.75h-0.75zM213.18 153.56h0.75v0.75h-0.75zM227.69 153.61h0.75v0.75h-0.75zM241.79 154.94h0.75v0.75h-0.75zM218.63 155.28h0.75v0.75h-0.75zM243.08 154.06h0.75v0.75h-0.75zM248.75 153.38h0.75v0.75h-0.75zM242.35 154.16h0.75v0.75h-0.75zM240.82 153.12h0.75v0.75h-0.75zM222.91 156.45h0.75v0.75h-0.75zM216.74 153.51h0.75v0.75h-0.75zM249.44 151.81h0.75v0.75h-0.75zM228.77 154.22h0.75v0.75h-0.75zM247.96 154.66h0.75v0.75h-0.75zM238.6 153.32h0.75v0.75h-0.75zM249.16 153.33h0.75v0.75h-0.75zM212.91 153.76h0.75v0.75h-0.75zM243.89 153.49h0.75v0.75h-0.75zM241.47 152.77h0.75v0.75h-0.75zM234.42 153.02h0.75v0.75h-0.75zM218.41 153.18h0.75v0.75h-0.75zM220.04 153.92h0.75v0.75h-0.75zM249.07 154.99h0.75v0.75h-0.75zM227.49 154.08h0.75v0.75h-0.75zM242 153.79h0.75v0.75h-0.75zM250.94 155.24h0.75v0.75h-0.75zM221.02 153.81h0.75v0.75h-0.75zM214.57 153.72h0.75v0.75h-0.75zM213.32 155.08h0.75v0.75h-0.75zM229.16 153.01h0.75v0.75h-0.75zM244.88 153.81h0.75v0.75h-0.75zM243.88 154.56h0.75v0.75h-0.75zM235.52 152.92h0.75v0.75h-0.75zM212.01 154.22h0.75v0.75h-0.75zM221.76 155.8h0.75v0.75h-0.75zM217.84 153.55h0.75v0.75h-0.75zM218.16 153.87h0.75v0.75h-0.75zM217.21 154.7h0.75v0.75h-0.75zM213.28 154.36h0.75v0.75h-0.75zM232.06 153.23h0.75v0.75h-0.75zM225.56 155.58h0.75v0.75h-0.75zM226 153.68h0.75v0.75h-0.75zM222.93 154.58h0.75v0.75h-0.75zM243.54 153.21h0.75v0.75h-0.75zM223.5 154.07h0.75v0.75h-0.75zM218.18 153.27h0.75v0.75h-0.75zM223.2 155.08h0.75v0.75h-0.75zM221.86 153.96h0.75v0.75h-0.75zM225.77 155.3h0.75v0.75h-0.75zM227.08 153.14h0.75v0.75h-0.75zM221 153.94h0.75v0.75h-0.75zM237.03 154.21h0.75v0.75h-0.75zM218.1 154.56h0.75v0.75h-0.75zM248.27 152.84h0.75v0.75h-0.75zM247.23 153.32h0.75v0.75h-0.75zM231.64 152.86h0.75v0.75h-0.75zM241.12 153.7h0.75v0.75h-0.75zM220.46 152.08h0.75v0.75h-0.75zM223.55 154.42h0.75v0.75h-0.75zM248.24 154.58h0.75v0.75h-0.75zM230.85 154.79h0.75v0.75h-0.75zM241.53 154.38h0.75v0.75h-0.75zM244.39 153.18h0.75v0.75h-0.75zM239.97 154.12h0.75v0.75h-0.75zM230.02 153.69h0.75v0.75h-0.75zM227.08 154.07h0.75v0.75h-0.75zM214.3 154.51h0.75v0.75h-0.75zM246.49 150.55h0.75v0.75h-0.75zM239.61 154.51h0.75v0.75h-0.75zM214.41 154.98h0.75v0.75h-0.75zM245.26 154.24h0.75v0.75h-0.75zM223.29 153.46h0.75v0.75h-0.75zM245.94 154.09h0.75v0.75h-0.75zM217.88 154.88h0.75v0.75h-0.75zM212.78 152.71h0.75v0.75h-0.75zM246.25 151.95h0.75v0.75h-0.75zM247.47 153.48h0.75v0.75h-0.75zM231.63 153.41h0.75v0.75h-0.75zM248.43 153.38h0.75v0.75h-0.75zM215.48 154h0.75v0.75h-0.75zM217.9 155.76h0.75v0.75h-0.75zM250.74 151.67h0.75v0.75h-0.75zM249.48 152.18h0.75v0.75h-0.75zM239.69 152.86h0.75v0.75h-0.75zM225.3 153.03h0.75v0.75h-0.75zM240.46 153.18h0.75v0.75h-0.75zM211.91 154.65h0.75v0.75h-0.75zM226.08 153.02h0.75v0.75h-0.75zM245.99 153.8h0.75v0.75h-0.75zM221.04 155.5h0.75v0.75h-0.75zM217.05 155.45h0.75v0.75h-0.75zM231.55 155.73h0.75v0.75h-0.75zM238.85 154.72h0.75v0.75h-0.75zM224.33 154.22h0.75v0.75h-0.75zM244.62 155.08h0.75v0.75h-0.75zM248.18 154.02h0.75v0.75h-0.75zM220.57 156h0.75v0.75h-0.75zM227.3 153.97h0.75v0.75h-0.75zM245.31 151.69h0.75v0.75h-0.75zM232 152.97h0.75v0.75h-0.75zM241.77 153.79h0.75v0.75h-0.75zM224.43 154.72h0.75v0.75h-0.75zM244.62 153.36h0.75v0.75h-0.75zM245.3 154.38h0.75v0.75h-0.75zM242.9 152.6h0.75v0.75h-0.75zM247.06 152.84h0.75v0.75h-0.75zM227.55 154.99h0.75v0.75h-0.75zM232.55 154.01h0.75v0.75h-0.75zM244.18 153.64h0.75v0.75h-0.75zM240.81 154.89h0.75v0.75h-0.75zM233.37 154.88h0.75v0.75h-0.75zM213.31 153.95h0.75v0.75h-0.75zM220.59 154.56h0.75v0.75h-0.75zM230.05 152.58h0.75v0.75h-0.75zM242.01 153.62h0.75v0.75h-0.75zM248.08 153.76h0.75v0.75h-0.75zM251.36 151.81h0.75v0.75h-0.75zM227.29 155.5h0.75v0.75h-0.75zM250.54 155.07h0.75v0.75h-0.75zM227.17 154.59h0.75v0.75h-0.75zM219.17 155.24h0.75v0.75h-0.75zM249.05 154.69h0.75v0.75h-0.75zM216.13 154.39h0.75v0.75h-0.75zM230.96 154.93h0.75v0.75h-0.75zM242.91 153.94h0.75v0.75h-0.75zM236.97 152.49h0.75v0.75h-0.75zM245.93 152.72h0.75v0.75h-0.75zM233.13 153.46h0.75v0.75h-0.75zM229.71 155h0.75v0.75h-0.75zM225.42 154.31h0.75v0.75h-0.75zM236.84 154.68h0.75v0.75h-0.75zM234.48 153.5h0.75v0.75h-0.75zM232.25 152.88h0.75v0.75h-0.75zM239.09 155.53h0.75v0.75h-0.75zM232.15 156.35h0.75v0.75h-0.75zM239.65 154.06h0.75v0.75h-0.75zM231.9 153.82h0.75v0.75h-0.75zM242.92 154.64h0.75v0.75h-0.75zM220.04 153.45h0.75v0.75h-0.75zM226.3 154.01h0.75v0.75h-0.75zM224.12 153.03h0.75v0.75h-0.75zM247.05 153.88h0.75v0.75h-0.75zM235.14 154.1h0.75v0.75h-0.75zM249.55 153.03h0.75v0.75h-0.75zM234.2 153.35h0.75v0.75h-0.75zM249.34 152.07h0.75v0.75h-0.75zM241.47 152.95h0.75v0.75h-0.75zM247.66 154.51h0.75v0.75h-0.75zM223.84 153.97h0.75v0.75h-0.75zM251.72 154.39h0.75v0.75h-0.75zM223.91 153.53h0.75v0.75h-0.75zM241.85 153.58h0.75v0.75h-0.75zM236.7 153.43h0.75v0.75h-0.75zM226.11 153.97h0.75v0.75h-0.75zM216.06 155.22h0.75v0.75h-0.75zM213.71 152.85h0.75v0.75h-0.75zM212.33 155.32h0.75v0.75h-0.75zM233.95 154.53h0.75v0.75h-0.75zM234.35 153.91h0.75v0.75h-0.75zM216.24 154.61h0.75v0.75h-0.75zM213.43 154.45h0.75v0.75h-0.75zM212.68 155.27h0.75v0.75h-0.75zM235.08 153.94h0.75v0.75h-0.75zM242.06 152.91h0.75v0.75h-0.75zM247.84 153.57h0.75v0.75h-0.75zM230.66 154.87h0.75v0.75h-0.75zM241.6 153.98h0.75v0.75h-0.75zM221.41 154.39h0.75v0.75h-0.75zM213.86 154.81h0.75v0.75h-0.75zM234.93 153.46h0.75v0.75h-0.75zM224.92 153.84h0.75v0.75h-0.75zM227.95 152.5h0.75v0.75h-0.75zM216.49 154.38h0.75v0.75h-0.75zM239.56 154.58h0.75v0.75h-0.75zM247.23 153.12h0.75v0.75h-0.75zM241.6 152.87h0.75v0.75h-0.75zM217.34 155.28h0.75v0.75h-0.75zM222.77 154.46h0.75v0.75h-0.75zM219.75 154.55h0.75v0.75h-0.75zM251.53 153.72h0.75v0.75h-0.75zM227.47 154.76h0.75v0.75h-0.75zM217.78 154.45h0.75v0.75h-0.75zM244.45 152.84h0.75v0.75h-0.75zM220.4 155.9h0.75v0.75h-0.75zM215.05 154.64h0.75v0.75h-0.75zM226.76 153.51h0.75v0.75h-0.75zM213.37 154.81h0.75v0.75h-0.75zM230.24 155.08h0.75v0.75h-0.75zM229.33 152.87h0.75v0.75h-0.75zM224.39 155.39h0.75v0.75h-0.75zM234.16 153.8h0.75v0.75h-0.75zM243.42 155.31h0.75v0.75h-0.75zM225.55 154.79h0.75v0.75h-0.75zM222.76 154.23h0.75v0.75h-0.75zM237.37 154.89h0.75v0.75h-0.75zM228.71 155.21h0.75v0.75h-0.75zM222.27 154.03h0.75v0.75h-0.75zM249.73 153.58h0.75v0.75h-0.75zM220.28 153.96h0.75v0.75h-0.75zM227.86 154.93h0.75v0.75h-0.75zM223.57 153.08h0.75v0.75h-0.75zM244.26 153.41h0.75v0.75h-0.75zM238.47 151.94h0.75v0.75h-0.75zM248.27 153.93h0.75v0.75h-0.75zM222.72 152.4h0.75v0.75h-0.75zM244.9 152.63h0.75v0.75h-0.75zM238.62 153.99h0.75v0.75h-0.75zM216.4 154.24h0.75v0.75h-0.75zM221.92 153.97h0.75v0.75h-0.75zM245.47 152.69h0.75v0.75h-0.75zM229.3 153.69h0.75v0.75h-0.75zM218.36 152.97h0.75v0.75h-0.75zM217.1 154.79h0.75v0.75h-0.75zM223.57 154.98h0.75v0.75h-0.75zM237.79 154.45h0.75v0.75h-0.75zM217.29 154.48h0.75v0.75h-0.75zM218.15 155.53h0.75v0.75h-0.75zM246.07 153.9h0.75v0.75h-0.75zM222.44 155.15h0.75v0.75h-0.75zM239.16 154.08h0.75v0.75h-0.75zM245.23 153.56h0.75v0.75h-0.75zM241.81 153h0.75v0.75h-0.75zM237 151.56h0.75v0.75h-0.75zM229.89 154.62h0.75v0.75h-0.75zM240.07 153.61h0.75v0.75h-0.75zM226.53 155.89h0.75v0.75h-0.75zM242.44 151.93h0.75v0.75h-0.75zM239.82 154.44h0.75v0.75h-0.75zM216.46 153.73h0.75v0.75h-0.75zM212.18 154.69h0.75v0.75h-0.75zM238.45 153.01h0.75v0.75h-0.75zM230.97 154.33h0.75v0.75h-0.75zM236.21 153.82h0.75v0.75h-0.75zM238.51 154.52h0.75v0.75h-0.75zM230.64 154.17h0.75v0.75h-0.75zM217.17 154.92h0.75v0.75h-0.75zM235.1 154.98h0.75v0.75h-0.75zM223.49 154.74h0.75v0.75h-0.75zM231.93 153.88h0.75v0.75h-0.75zM213.04 155.72h0.75v0.75h-0.75zM250.29 153.26h0.75v0.75h-0.75zM219.2 154.79h0.75v0.75h-0.75zM251.61 153.03h0.75v0.75h-0.75zM243.62 153.02h0.75v0.75h-0.75zM227.32 151.59h0.75v0.75h-0.75zM234.52 154.5h0.75v0.75h-0.75zM220.65 153.41h0.75v0.75h-0.75zM212.42 155.31h0.75v0.75h-0.75zM231.65 155.55h0.75v0.75h-0.75zM214.7 153.47h0.75v0.75h-0.75zM219.01 155.2h0.75v0.75h-0.75zM214.51 154.53h0.75v0.75h-0.75zM234.01 154.32h0.75v0.75h-0.75zM238.58 152.74h0.75v0.75h-0.75zM250.34 153.38h0.75v0.75h-0.75zM221.65 154.49h0.75v0.75h-0.75zM245.41 154.75h0.75v0.75h-0.75zM235.42 155.71h0.75v0.75h-0.75zM212.43 154.95h0.75v0.75h-0.75zM226.51 153.88h0.75v0.75h-0.75zM251.09 155.23h0.75v0.75h-0.75z" fill="#4f93d6" fill-opacity="0.55"/>
<path d="M222.28 124 L226.47 124 L225.28 147 L223.88 147 Z" fill="#2f86d2" fill-opacity="0.75" filter="url(#bl)"/>
<ellipse cx="224.38" cy="131" rx="1.1" ry="5.5" fill="#3cc0a0" filter="url(#bl)"/>
<ellipse cx="224.38" cy="127.5" rx="0.8" ry="2.6" fill="#7ccc4a" filter="url(#bl)"/>
<ellipse cx="247.2" cy="125" rx="3.2" ry="3.0" fill="#4a90d6" fill-opacity="0.45" filter="url(#bl2)"/>
<path d="M245 126 L249.2 126 L248 146 L246 146 Z" fill="#4a90d6" fill-opacity="0.35" filter="url(#bl)"/>
<path d="M247.02 124.21h0.8v0.8h-0.8zM247.11 125.42h0.8v0.8h-0.8zM247.41 124.85h0.8v0.8h-0.8zM248.1 121.8h0.8v0.8h-0.8zM248.57 125.9h0.8v0.8h-0.8zM246.13 123.37h0.8v0.8h-0.8zM247.01 128.38h0.8v0.8h-0.8zM250.27 128.94h0.8v0.8h-0.8zM248.07 126.18h0.8v0.8h-0.8zM247.74 125.83h0.8v0.8h-0.8zM246.79 124.2h0.8v0.8h-0.8zM249.18 124.83h0.8v0.8h-0.8zM246.25 125.82h0.8v0.8h-0.8zM247.46 121.66h0.8v0.8h-0.8zM246.36 126.76h0.8v0.8h-0.8zM246.04 123.01h0.8v0.8h-0.8zM247.3 124.59h0.8v0.8h-0.8zM247.24 120.3h0.8v0.8h-0.8zM246.13 125.82h0.8v0.8h-0.8zM247.11 126.33h0.8v0.8h-0.8zM247.36 125.53h0.8v0.8h-0.8zM246.34 125.59h0.8v0.8h-0.8zM245.99 124.39h0.8v0.8h-0.8zM246.97 125.3h0.8v0.8h-0.8zM248.56 127.13h0.8v0.8h-0.8zM249.34 124.3h0.8v0.8h-0.8zM247.58 125.91h0.8v0.8h-0.8zM246.72 126.3h0.8v0.8h-0.8zM247.17 124.63h0.8v0.8h-0.8zM248.97 125.41h0.8v0.8h-0.8zM245.42 124.17h0.8v0.8h-0.8zM247.13 129.26h0.8v0.8h-0.8zM246.23 124.28h0.8v0.8h-0.8zM246.54 128.01h0.8v0.8h-0.8zM244.03 126.89h0.8v0.8h-0.8zM247.29 121.5h0.8v0.8h-0.8zM244.65 125.47h0.8v0.8h-0.8zM246.11 126.83h0.8v0.8h-0.8zM250.12 126.45h0.8v0.8h-0.8zM249.13 123.46h0.8v0.8h-0.8zM245.58 125.48h0.8v0.8h-0.8zM245.27 122.95h0.8v0.8h-0.8zM245.5 123.22h0.8v0.8h-0.8zM243.65 124.62h0.8v0.8h-0.8zM245.37 125.36h0.8v0.8h-0.8zM246.72 127.83h0.8v0.8h-0.8zM245.24 125.66h0.8v0.8h-0.8zM248.67 126.88h0.8v0.8h-0.8zM247.14 122.94h0.8v0.8h-0.8zM246.22 123.02h0.8v0.8h-0.8zM248.58 128.09h0.8v0.8h-0.8zM247.37 122.7h0.8v0.8h-0.8zM249.74 124.9h0.8v0.8h-0.8zM245.89 127.11h0.8v0.8h-0.8zM247.85 122.19h0.8v0.8h-0.8zM246.4 124.59h0.8v0.8h-0.8zM244.5 122.66h0.8v0.8h-0.8zM250.09 126.24h0.8v0.8h-0.8zM244.82 125.51h0.8v0.8h-0.8zM248.17 124.94h0.8v0.8h-0.8zM244.11 124.62h0.8v0.8h-0.8zM249.28 125.27h0.8v0.8h-0.8zM247.14 123.9h0.8v0.8h-0.8zM246.68 123.48h0.8v0.8h-0.8zM249.64 123.08h0.8v0.8h-0.8zM247.26 125.05h0.8v0.8h-0.8zM246.74 123.63h0.8v0.8h-0.8zM248.98 126.55h0.8v0.8h-0.8zM246.66 121.35h0.8v0.8h-0.8zM248.9 126.02h0.8v0.8h-0.8zM247.24 125.96h0.8v0.8h-0.8zM248.82 127.15h0.8v0.8h-0.8zM248.44 124.58h0.8v0.8h-0.8zM248.75 122.4h0.8v0.8h-0.8zM245.31 123.41h0.8v0.8h-0.8zM246.93 124.49h0.8v0.8h-0.8zM246.1 124h0.8v0.8h-0.8zM246.72 124.91h0.8v0.8h-0.8zM246.74 124.62h0.8v0.8h-0.8zM249.45 122.29h0.8v0.8h-0.8zM246.42 123.98h0.8v0.8h-0.8zM248.04 126.78h0.8v0.8h-0.8zM244.24 127.56h0.8v0.8h-0.8z" fill="#2f7fcc" fill-opacity="0.6"/>
<path d="M220.9 154.6 L250.9 152.8 L250.9 154.8 L220.9 156.8 Z" fill="#2f8ad6" fill-opacity="0.85" filter="url(#bl)"/>
<ellipse cx="225.3" cy="155.8" rx="3.8" ry="2.4" fill="#2f8fd8"/>
<ellipse cx="225.3" cy="155.8" rx="2.8" ry="1.9" fill="#33c0c0"/>
<ellipse cx="225.3" cy="155.8" rx="2.1" ry="1.5" fill="#55c45a"/>
<ellipse cx="225.3" cy="155.8" rx="1.4" ry="1.0" fill="#e9c933"/>
<ellipse cx="225.3" cy="155.8" rx="0.7" ry="0.55" fill="#e4572e"/>
<rect x="208.9" y="106.8" width="61.4" height="61" fill="none" stroke="#111" stroke-width="1"/>
<line x1="212.2" y1="168.5" x2="212.2" y2="170.3" stroke="#1a1a1a" stroke-width="0.6"/>
<line x1="215.64" y1="168.5" x2="215.64" y2="169.5" stroke="#1a1a1a" stroke-width="0.45"/>
<line x1="219.08" y1="168.5" x2="219.08" y2="169.5" stroke="#1a1a1a" stroke-width="0.45"/>
<line x1="222.52" y1="168.5" x2="222.52" y2="169.5" stroke="#1a1a1a" stroke-width="0.45"/>
<line x1="225.96" y1="168.5" x2="225.96" y2="169.5" stroke="#1a1a1a" stroke-width="0.45"/>
<line x1="229.4" y1="168.5" x2="229.4" y2="170.3" stroke="#1a1a1a" stroke-width="0.6"/>
<line x1="232.84" y1="168.5" x2="232.84" y2="169.5" stroke="#1a1a1a" stroke-width="0.45"/>
<line x1="236.28" y1="168.5" x2="236.28" y2="169.5" stroke="#1a1a1a" stroke-width="0.45"/>
<line x1="239.72" y1="168.5" x2="239.72" y2="169.5" stroke="#1a1a1a" stroke-width="0.45"/>
<line x1="243.16" y1="168.5" x2="243.16" y2="169.5" stroke="#1a1a1a" stroke-width="0.45"/>
<line x1="246.6" y1="168.5" x2="246.6" y2="170.3" stroke="#1a1a1a" stroke-width="0.6"/>
<line x1="250.04" y1="168.5" x2="250.04" y2="169.5" stroke="#1a1a1a" stroke-width="0.45"/>
<line x1="253.48" y1="168.5" x2="253.48" y2="169.5" stroke="#1a1a1a" stroke-width="0.45"/>
<line x1="256.92" y1="168.5" x2="256.92" y2="169.5" stroke="#1a1a1a" stroke-width="0.45"/>
<line x1="260.36" y1="168.5" x2="260.36" y2="169.5" stroke="#1a1a1a" stroke-width="0.45"/>
<line x1="263.8" y1="168.5" x2="263.8" y2="170.3" stroke="#1a1a1a" stroke-width="0.6"/>
<line x1="267.24" y1="168.5" x2="267.24" y2="169.5" stroke="#1a1a1a" stroke-width="0.45"/>
<text x="212.2" y="177.2" font-size="4.8" text-anchor="middle" fill="#333">50K</text>
<text x="229.4" y="177.2" font-size="4.8" text-anchor="middle" fill="#333">100K</text>
<text x="246.6" y="177.2" font-size="4.8" text-anchor="middle" fill="#333">150K</text>
<text x="263.8" y="177.2" font-size="4.8" text-anchor="middle" fill="#333">200K</text>
<rect x="220.9" y="121" width="7.5" height="28.5" fill="none" stroke="#111" stroke-width="0.9"/>
<rect x="242.4" y="119.2" width="9.5" height="30.3" fill="none" stroke="#111" stroke-width="0.9"/>
<rect x="220.9" y="149.5" width="7.5" height="9.5" fill="none" stroke="#111" stroke-width="0.9"/>
<rect x="228.4" y="150.3" width="14" height="8.7" fill="none" stroke="#111" stroke-width="0.9"/>
<rect x="242.4" y="149.5" width="9.5" height="8.5" fill="none" stroke="#111" stroke-width="0.9"/>
<text x="210.9" y="112" font-size="4" text-anchor="start" fill="#333">EdU+ early S</text>
<text x="268.8" y="112" font-size="4" text-anchor="end" fill="#333">EdU+ late S</text>
<text x="221.4" y="118.8" font-size="4" text-anchor="start" fill="#333">30.3</text>
<text x="255.6" y="122.8" font-size="4" text-anchor="start" fill="#333">6.61</text>
<text x="221.4" y="165" font-size="4" text-anchor="start" fill="#333">45.5</text>
<text x="231.6" y="165" font-size="4" text-anchor="start" fill="#333">9.80</text>
<text x="243.2" y="165" font-size="4" text-anchor="start" fill="#333">3.27</text>
<text x="277.6" y="60.2" font-size="5" text-anchor="middle" fill="#222" transform="rotate(-90 277.6 60.2)">t0</text>
<text x="277.6" y="137.2" font-size="5" text-anchor="middle" fill="#222" transform="rotate(-90 277.6 137.2)">t14h</text>
<line x1="136.9" y1="182.5" x2="136.9" y2="150" stroke="#1a1a1a" stroke-width="0.9"/>
<path d="M136.9 144.8 L134.7 150.6 L139.1 150.6 Z" fill="#1a1a1a"/>
<line x1="136.9" y1="182.5" x2="163" y2="182.5" stroke="#1a1a1a" stroke-width="0.9"/>
<path d="M168.6 182.5 L162.9 180.3 L162.9 184.7 Z" fill="#1a1a1a"/>
<text x="133.8" y="169.6" font-size="7.4" text-anchor="middle" fill="#111" transform="rotate(-90 133.8 169.6)" textLength="26.5" lengthAdjust="spacingAndGlyphs">EdU FITC</text>
<text x="137" y="191.2" font-size="7.6" text-anchor="start" fill="#111" textLength="14.8" lengthAdjust="spacingAndGlyphs">DAPI</text>
<line x1="312.9" y1="38.6" x2="312.9" y2="86.5" stroke="#1a1a1a" stroke-width="1.1"/>
<line x1="310.1" y1="86.5" x2="312.9" y2="86.5" stroke="#1a1a1a" stroke-width="0.8"/>
<text x="307.8" y="88.62" font-size="5.9" text-anchor="end" fill="#222">60</text>
<line x1="310.1" y1="77.36" x2="312.9" y2="77.36" stroke="#1a1a1a" stroke-width="0.8"/>
<text x="307.8" y="79.48" font-size="5.9" text-anchor="end" fill="#222">65</text>
<line x1="310.1" y1="68.22" x2="312.9" y2="68.22" stroke="#1a1a1a" stroke-width="0.8"/>
<text x="307.8" y="70.34" font-size="5.9" text-anchor="end" fill="#222">70</text>
<line x1="310.1" y1="59.08" x2="312.9" y2="59.08" stroke="#1a1a1a" stroke-width="0.8"/>
<text x="307.8" y="61.2" font-size="5.9" text-anchor="end" fill="#222">75</text>
<line x1="310.1" y1="49.94" x2="312.9" y2="49.94" stroke="#1a1a1a" stroke-width="0.8"/>
<text x="307.8" y="52.06" font-size="5.9" text-anchor="end" fill="#222">80</text>
<line x1="310.1" y1="40.8" x2="312.9" y2="40.8" stroke="#1a1a1a" stroke-width="0.8"/>
<text x="307.8" y="42.92" font-size="5.9" text-anchor="end" fill="#222">85</text>
<line x1="312.9" y1="86.5" x2="347.4" y2="86.5" stroke="#1a1a1a" stroke-width="1.1"/>
<line x1="318.35" y1="58.71" x2="318.35" y2="61.82" stroke="#86a2d0" stroke-width="0.9"/>
<line x1="316.89" y1="58.71" x2="319.81" y2="58.71" stroke="#86a2d0" stroke-width="0.9"/>
<rect x="315.7" y="61.82" width="5.3" height="24.68" fill="#97b0d6" stroke="#86a2d0" stroke-width="0.5"/>
<line x1="326.25" y1="58.53" x2="326.25" y2="61.82" stroke="#d28480" stroke-width="0.9"/>
<line x1="324.79" y1="58.53" x2="327.71" y2="58.53" stroke="#d28480" stroke-width="0.9"/>
<rect x="323.6" y="61.82" width="5.3" height="24.68" fill="#d99591" stroke="#d28480" stroke-width="0.5"/>
<line x1="334.15" y1="48.29" x2="334.15" y2="50.49" stroke="#86a2d0" stroke-width="0.9"/>
<line x1="332.69" y1="48.29" x2="335.61" y2="48.29" stroke="#86a2d0" stroke-width="0.9"/>
<rect x="331.5" y="50.49" width="5.3" height="36.01" fill="#97b0d6" stroke="#86a2d0" stroke-width="0.5"/>
<line x1="342.05" y1="67.67" x2="342.05" y2="70.05" stroke="#d28480" stroke-width="0.9"/>
<line x1="340.59" y1="67.67" x2="343.51" y2="67.67" stroke="#d28480" stroke-width="0.9"/>
<rect x="339.4" y="70.05" width="5.3" height="16.45" fill="#d99591" stroke="#d28480" stroke-width="0.5"/>
<line x1="333.5" y1="43.8" x2="343" y2="43.8" stroke="#1a1a1a" stroke-width="0.8"/>
<text x="335.65" y="44.1" font-size="5" text-anchor="middle" fill="#222">*</text>
<text x="338.25" y="44.1" font-size="5" text-anchor="middle" fill="#222">*</text>
<text x="340.85" y="44.1" font-size="5" text-anchor="middle" fill="#222">*</text>
<line x1="364.4" y1="39" x2="364.4" y2="86.6" stroke="#1a1a1a" stroke-width="1.1"/>
<line x1="361.6" y1="86.6" x2="364.4" y2="86.6" stroke="#1a1a1a" stroke-width="0.8"/>
<text x="359.3" y="88.72" font-size="5.9" text-anchor="end" fill="#222">0</text>
<line x1="361.6" y1="75.25" x2="364.4" y2="75.25" stroke="#1a1a1a" stroke-width="0.8"/>
<text x="359.3" y="77.37" font-size="5.9" text-anchor="end" fill="#222">5</text>
<line x1="361.6" y1="63.9" x2="364.4" y2="63.9" stroke="#1a1a1a" stroke-width="0.8"/>
<text x="359.3" y="66.02" font-size="5.9" text-anchor="end" fill="#222">10</text>
<line x1="361.6" y1="52.55" x2="364.4" y2="52.55" stroke="#1a1a1a" stroke-width="0.8"/>
<text x="359.3" y="54.67" font-size="5.9" text-anchor="end" fill="#222">15</text>
<line x1="361.6" y1="41.2" x2="364.4" y2="41.2" stroke="#1a1a1a" stroke-width="0.8"/>
<text x="359.3" y="43.32" font-size="5.9" text-anchor="end" fill="#222">20</text>
<line x1="364.4" y1="86.6" x2="398.9" y2="86.6" stroke="#1a1a1a" stroke-width="1.1"/>
<line x1="369.85" y1="52.55" x2="369.85" y2="55.27" stroke="#86a2d0" stroke-width="0.9"/>
<line x1="368.39" y1="52.55" x2="371.31" y2="52.55" stroke="#86a2d0" stroke-width="0.9"/>
<rect x="367.2" y="55.27" width="5.3" height="31.33" fill="#97b0d6" stroke="#86a2d0" stroke-width="0.5"/>
<line x1="377.75" y1="54.59" x2="377.75" y2="57.77" stroke="#d28480" stroke-width="0.9"/>
<line x1="376.29" y1="54.59" x2="379.21" y2="54.59" stroke="#d28480" stroke-width="0.9"/>
<rect x="375.1" y="57.77" width="5.3" height="28.83" fill="#d99591" stroke="#d28480" stroke-width="0.5"/>
<line x1="385.65" y1="65.26" x2="385.65" y2="66.17" stroke="#86a2d0" stroke-width="0.9"/>
<line x1="384.19" y1="65.26" x2="387.11" y2="65.26" stroke="#86a2d0" stroke-width="0.9"/>
<rect x="383" y="66.17" width="5.3" height="20.43" fill="#97b0d6" stroke="#86a2d0" stroke-width="0.5"/>
<line x1="393.55" y1="55.27" x2="393.55" y2="55.95" stroke="#d28480" stroke-width="0.9"/>
<line x1="392.09" y1="55.27" x2="395.01" y2="55.27" stroke="#d28480" stroke-width="0.9"/>
<rect x="390.9" y="55.95" width="5.3" height="30.64" fill="#d99591" stroke="#d28480" stroke-width="0.5"/>
<line x1="385" y1="50.3" x2="393.8" y2="50.3" stroke="#1a1a1a" stroke-width="0.8"/>
<text x="386.89" y="50.6" font-size="5" text-anchor="middle" fill="#222">*</text>
<text x="389.4" y="50.6" font-size="5" text-anchor="middle" fill="#222">*</text>
<text x="391.91" y="50.6" font-size="5" text-anchor="middle" fill="#222">*</text>
<line x1="415.4" y1="39.3" x2="415.4" y2="86.6" stroke="#1a1a1a" stroke-width="1.1"/>
<line x1="412.6" y1="86.6" x2="415.4" y2="86.6" stroke="#1a1a1a" stroke-width="0.8"/>
<text x="410.3" y="88.72" font-size="5.9" text-anchor="end" fill="#222">0</text>
<line x1="412.6" y1="71.56" x2="415.4" y2="71.56" stroke="#1a1a1a" stroke-width="0.8"/>
<text x="410.3" y="73.69" font-size="5.9" text-anchor="end" fill="#222">5</text>
<line x1="412.6" y1="56.53" x2="415.4" y2="56.53" stroke="#1a1a1a" stroke-width="0.8"/>
<text x="410.3" y="58.65" font-size="5.9" text-anchor="end" fill="#222">10</text>
<line x1="412.6" y1="41.49" x2="415.4" y2="41.49" stroke="#1a1a1a" stroke-width="0.8"/>
<text x="410.3" y="43.62" font-size="5.9" text-anchor="end" fill="#222">15</text>
<line x1="415.4" y1="86.6" x2="449.9" y2="86.6" stroke="#1a1a1a" stroke-width="1.1"/>
<line x1="420.85" y1="57.43" x2="420.85" y2="59.24" stroke="#86a2d0" stroke-width="0.9"/>
<line x1="419.39" y1="57.43" x2="422.31" y2="57.43" stroke="#86a2d0" stroke-width="0.9"/>
<rect x="418.2" y="59.24" width="5.3" height="27.36" fill="#97b0d6" stroke="#86a2d0" stroke-width="0.5"/>
<line x1="428.75" y1="48.71" x2="428.75" y2="53.52" stroke="#d28480" stroke-width="0.9"/>
<line x1="427.29" y1="48.71" x2="430.21" y2="48.71" stroke="#d28480" stroke-width="0.9"/>
<rect x="426.1" y="53.52" width="5.3" height="33.08" fill="#d99591" stroke="#d28480" stroke-width="0.5"/>
<line x1="436.65" y1="71.87" x2="436.65" y2="73.37" stroke="#86a2d0" stroke-width="0.9"/>
<line x1="435.19" y1="71.87" x2="438.11" y2="71.87" stroke="#86a2d0" stroke-width="0.9"/>
<rect x="434" y="73.37" width="5.3" height="13.23" fill="#97b0d6" stroke="#86a2d0" stroke-width="0.5"/>
<line x1="444.55" y1="46.61" x2="444.55" y2="48.11" stroke="#d28480" stroke-width="0.9"/>
<line x1="443.09" y1="46.61" x2="446.01" y2="46.61" stroke="#d28480" stroke-width="0.9"/>
<rect x="441.9" y="48.11" width="5.3" height="38.49" fill="#d99591" stroke="#d28480" stroke-width="0.5"/>
<line x1="435.6" y1="41.8" x2="444.6" y2="41.8" stroke="#1a1a1a" stroke-width="0.8"/>
<text x="437.53" y="42.1" font-size="5" text-anchor="middle" fill="#222">*</text>
<text x="440.1" y="42.1" font-size="5" text-anchor="middle" fill="#222">*</text>
<text x="442.67" y="42.1" font-size="5" text-anchor="middle" fill="#222">*</text>
<line x1="468.5" y1="38.8" x2="468.5" y2="86.3" stroke="#1a1a1a" stroke-width="1.1"/>
<line x1="465.7" y1="86.3" x2="468.5" y2="86.3" stroke="#1a1a1a" stroke-width="0.8"/>
<text x="463.4" y="88.42" font-size="5.9" text-anchor="end" fill="#222">0.0</text>
<line x1="465.7" y1="75.05" x2="468.5" y2="75.05" stroke="#1a1a1a" stroke-width="0.8"/>
<text x="463.4" y="77.17" font-size="5.9" text-anchor="end" fill="#222">0.5</text>
<line x1="465.7" y1="63.8" x2="468.5" y2="63.8" stroke="#1a1a1a" stroke-width="0.8"/>
<text x="463.4" y="65.92" font-size="5.9" text-anchor="end" fill="#222">1.0</text>
<line x1="465.7" y1="52.55" x2="468.5" y2="52.55" stroke="#1a1a1a" stroke-width="0.8"/>
<text x="463.4" y="54.67" font-size="5.9" text-anchor="end" fill="#222">1.5</text>
<line x1="465.7" y1="41.3" x2="468.5" y2="41.3" stroke="#1a1a1a" stroke-width="0.8"/>
<text x="463.4" y="43.42" font-size="5.9" text-anchor="end" fill="#222">2.0</text>
<line x1="468.5" y1="86.3" x2="503" y2="86.3" stroke="#1a1a1a" stroke-width="1.1"/>
<line x1="473.95" y1="51.42" x2="473.95" y2="56.15" stroke="#86a2d0" stroke-width="0.9"/>
<line x1="472.49" y1="51.42" x2="475.41" y2="51.42" stroke="#86a2d0" stroke-width="0.9"/>
<rect x="471.3" y="56.15" width="5.3" height="30.15" fill="#97b0d6" stroke="#86a2d0" stroke-width="0.5"/>
<line x1="481.85" y1="72.12" x2="481.85" y2="74.38" stroke="#d28480" stroke-width="0.9"/>
<line x1="480.39" y1="72.12" x2="483.31" y2="72.12" stroke="#d28480" stroke-width="0.9"/>
<rect x="479.2" y="74.38" width="5.3" height="11.92" fill="#d99591" stroke="#d28480" stroke-width="0.5"/>
<line x1="489.75" y1="61.55" x2="489.75" y2="64.25" stroke="#86a2d0" stroke-width="0.9"/>
<line x1="488.29" y1="61.55" x2="491.21" y2="61.55" stroke="#86a2d0" stroke-width="0.9"/>
<rect x="487.1" y="64.25" width="5.3" height="22.05" fill="#97b0d6" stroke="#86a2d0" stroke-width="0.5"/>
<line x1="497.65" y1="44.67" x2="497.65" y2="50.07" stroke="#d28480" stroke-width="0.9"/>
<line x1="496.19" y1="44.67" x2="499.11" y2="44.67" stroke="#d28480" stroke-width="0.9"/>
<rect x="495" y="50.07" width="5.3" height="36.23" fill="#d99591" stroke="#d28480" stroke-width="0.5"/>
<line x1="472.7" y1="41.3" x2="480.8" y2="41.3" stroke="#1a1a1a" stroke-width="0.8"/>
<text x="476.75" y="41.6" font-size="5" text-anchor="middle" fill="#222">*</text>
<line x1="489.3" y1="41.3" x2="497.8" y2="41.3" stroke="#1a1a1a" stroke-width="0.8"/>
<text x="493.55" y="41.6" font-size="5" text-anchor="middle" fill="#222">*</text>
<line x1="312.9" y1="98.4" x2="312.9" y2="147" stroke="#1a1a1a" stroke-width="1.1"/>
<line x1="310.1" y1="142.8" x2="312.9" y2="142.8" stroke="#1a1a1a" stroke-width="0.8"/>
<text x="307.8" y="144.92" font-size="5.9" text-anchor="end" fill="#222">25</text>
<line x1="310.1" y1="121.65" x2="312.9" y2="121.65" stroke="#1a1a1a" stroke-width="0.8"/>
<text x="307.8" y="123.77" font-size="5.9" text-anchor="end" fill="#222">50</text>
<line x1="310.1" y1="100.5" x2="312.9" y2="100.5" stroke="#1a1a1a" stroke-width="0.8"/>
<text x="307.8" y="102.62" font-size="5.9" text-anchor="end" fill="#222">75</text>
<line x1="312.9" y1="147" x2="347.4" y2="147" stroke="#1a1a1a" stroke-width="1.1"/>
<line x1="318.35" y1="147" x2="318.35" y2="150" stroke="#1a1a1a" stroke-width="0.9"/>
<line x1="326.25" y1="147" x2="326.25" y2="150" stroke="#1a1a1a" stroke-width="0.9"/>
<line x1="334.15" y1="147" x2="334.15" y2="150" stroke="#1a1a1a" stroke-width="0.9"/>
<line x1="342.05" y1="147" x2="342.05" y2="150" stroke="#1a1a1a" stroke-width="0.9"/>
<line x1="318.35" y1="119.2" x2="318.35" y2="123" stroke="#86a2d0" stroke-width="0.9"/>
<line x1="316.89" y1="119.2" x2="319.81" y2="119.2" stroke="#86a2d0" stroke-width="0.9"/>
<rect x="315.7" y="123" width="5.3" height="24" fill="#97b0d6" stroke="#86a2d0" stroke-width="0.5"/>
<line x1="326.25" y1="130.28" x2="326.25" y2="131.8" stroke="#d28480" stroke-width="0.9"/>
<line x1="324.79" y1="130.28" x2="327.71" y2="130.28" stroke="#d28480" stroke-width="0.9"/>
<rect x="323.6" y="131.8" width="5.3" height="15.2" fill="#d99591" stroke="#d28480" stroke-width="0.5"/>
<line x1="334.15" y1="105.41" x2="334.15" y2="112.77" stroke="#86a2d0" stroke-width="0.9"/>
<line x1="332.69" y1="105.41" x2="335.61" y2="105.41" stroke="#86a2d0" stroke-width="0.9"/>
<rect x="331.5" y="112.77" width="5.3" height="34.23" fill="#97b0d6" stroke="#86a2d0" stroke-width="0.5"/>
<line x1="342.05" y1="125.63" x2="342.05" y2="126.98" stroke="#d28480" stroke-width="0.9"/>
<line x1="340.59" y1="125.63" x2="343.51" y2="125.63" stroke="#d28480" stroke-width="0.9"/>
<rect x="339.4" y="126.98" width="5.3" height="20.02" fill="#d99591" stroke="#d28480" stroke-width="0.5"/>
<line x1="318" y1="102.6" x2="326.5" y2="102.6" stroke="#1a1a1a" stroke-width="0.8"/>
<text x="322.25" y="102.9" font-size="5" text-anchor="middle" fill="#222">*</text>
<line x1="335" y1="102.6" x2="343" y2="102.6" stroke="#1a1a1a" stroke-width="0.8"/>
<text x="339" y="102.9" font-size="5" text-anchor="middle" fill="#222">*</text>
<text x="320.95" y="155.8" font-size="5.5" text-anchor="end" fill="#222" transform="rotate(-45 320.95 155.8)">SgGFP 2M</text>
<text x="328.85" y="155.8" font-size="5.5" text-anchor="end" fill="#222" transform="rotate(-45 328.85 155.8)">SgHLF 2M</text>
<text x="336.75" y="155.8" font-size="5.5" text-anchor="end" fill="#222" transform="rotate(-45 336.75 155.8)">SgGFP 100K</text>
<text x="344.65" y="155.8" font-size="5.5" text-anchor="end" fill="#222" transform="rotate(-45 344.65 155.8)">SgHLF 100K</text>
<line x1="364.4" y1="97.4" x2="364.4" y2="146.5" stroke="#1a1a1a" stroke-width="1.1"/>
<line x1="361.6" y1="146.5" x2="364.4" y2="146.5" stroke="#1a1a1a" stroke-width="0.8"/>
<text x="359.3" y="148.62" font-size="5.9" text-anchor="end" fill="#222">0</text>
<line x1="361.6" y1="134.88" x2="364.4" y2="134.88" stroke="#1a1a1a" stroke-width="0.8"/>
<text x="359.3" y="137" font-size="5.9" text-anchor="end" fill="#222">10</text>
<line x1="361.6" y1="123.25" x2="364.4" y2="123.25" stroke="#1a1a1a" stroke-width="0.8"/>
<text x="359.3" y="125.37" font-size="5.9" text-anchor="end" fill="#222">20</text>
<line x1="361.6" y1="111.62" x2="364.4" y2="111.62" stroke="#1a1a1a" stroke-width="0.8"/>
<text x="359.3" y="113.75" font-size="5.9" text-anchor="end" fill="#222">30</text>
<line x1="361.6" y1="100" x2="364.4" y2="100" stroke="#1a1a1a" stroke-width="0.8"/>
<text x="359.3" y="102.12" font-size="5.9" text-anchor="end" fill="#222">40</text>
<line x1="364.4" y1="146.5" x2="398.9" y2="146.5" stroke="#1a1a1a" stroke-width="1.1"/>
<line x1="369.85" y1="146.5" x2="369.85" y2="149.5" stroke="#1a1a1a" stroke-width="0.9"/>
<line x1="377.75" y1="146.5" x2="377.75" y2="149.5" stroke="#1a1a1a" stroke-width="0.9"/>
<line x1="385.65" y1="146.5" x2="385.65" y2="149.5" stroke="#1a1a1a" stroke-width="0.9"/>
<line x1="393.55" y1="146.5" x2="393.55" y2="149.5" stroke="#1a1a1a" stroke-width="0.9"/>
<line x1="369.85" y1="115.69" x2="369.85" y2="119.18" stroke="#86a2d0" stroke-width="0.9"/>
<line x1="368.39" y1="115.69" x2="371.31" y2="115.69" stroke="#86a2d0" stroke-width="0.9"/>
<rect x="367.2" y="119.18" width="5.3" height="27.32" fill="#97b0d6" stroke="#86a2d0" stroke-width="0.5"/>
<line x1="377.75" y1="109.88" x2="377.75" y2="111.04" stroke="#d28480" stroke-width="0.9"/>
<line x1="376.29" y1="109.88" x2="379.21" y2="109.88" stroke="#d28480" stroke-width="0.9"/>
<rect x="375.1" y="111.04" width="5.3" height="35.46" fill="#d99591" stroke="#d28480" stroke-width="0.5"/>
<line x1="385.65" y1="133.71" x2="385.65" y2="135.46" stroke="#86a2d0" stroke-width="0.9"/>
<line x1="384.19" y1="133.71" x2="387.11" y2="133.71" stroke="#86a2d0" stroke-width="0.9"/>
<rect x="383" y="135.46" width="5.3" height="11.04" fill="#97b0d6" stroke="#86a2d0" stroke-width="0.5"/>
<line x1="393.55" y1="110.46" x2="393.55" y2="111.86" stroke="#d28480" stroke-width="0.9"/>
<line x1="392.09" y1="110.46" x2="395.01" y2="110.46" stroke="#d28480" stroke-width="0.9"/>
<rect x="390.9" y="111.86" width="5.3" height="34.64" fill="#d99591" stroke="#d28480" stroke-width="0.5"/>
<line x1="369" y1="102" x2="377.4" y2="102" stroke="#1a1a1a" stroke-width="0.8"/>
<text x="373.2" y="102.3" font-size="5" text-anchor="middle" fill="#222">*</text>
<line x1="384.2" y1="102" x2="394.2" y2="102" stroke="#1a1a1a" stroke-width="0.8"/>
<text x="386.6" y="102.3" font-size="5" text-anchor="middle" fill="#222">*</text>
<text x="389.2" y="102.3" font-size="5" text-anchor="middle" fill="#222">*</text>
<text x="391.8" y="102.3" font-size="5" text-anchor="middle" fill="#222">*</text>
<text x="372.45" y="155.3" font-size="5.5" text-anchor="end" fill="#222" transform="rotate(-45 372.45 155.3)">SgGFP 2M</text>
<text x="380.35" y="155.3" font-size="5.5" text-anchor="end" fill="#222" transform="rotate(-45 380.35 155.3)">SgHLF 2M</text>
<text x="388.25" y="155.3" font-size="5.5" text-anchor="end" fill="#222" transform="rotate(-45 388.25 155.3)">SgGFP 100K</text>
<text x="396.15" y="155.3" font-size="5.5" text-anchor="end" fill="#222" transform="rotate(-45 396.15 155.3)">SgHLF 100K</text>
<line x1="415.4" y1="97.8" x2="415.4" y2="146.3" stroke="#1a1a1a" stroke-width="1.1"/>
<line x1="412.6" y1="146.3" x2="415.4" y2="146.3" stroke="#1a1a1a" stroke-width="0.8"/>
<text x="410.3" y="148.42" font-size="5.9" text-anchor="end" fill="#222">2</text>
<line x1="412.6" y1="131" x2="415.4" y2="131" stroke="#1a1a1a" stroke-width="0.8"/>
<text x="410.3" y="133.12" font-size="5.9" text-anchor="end" fill="#222">4</text>
<line x1="412.6" y1="115.7" x2="415.4" y2="115.7" stroke="#1a1a1a" stroke-width="0.8"/>
<text x="410.3" y="117.82" font-size="5.9" text-anchor="end" fill="#222">6</text>
<line x1="412.6" y1="100.4" x2="415.4" y2="100.4" stroke="#1a1a1a" stroke-width="0.8"/>
<text x="410.3" y="102.52" font-size="5.9" text-anchor="end" fill="#222">8</text>
<line x1="415.4" y1="146.3" x2="449.9" y2="146.3" stroke="#1a1a1a" stroke-width="1.1"/>
<line x1="420.85" y1="146.3" x2="420.85" y2="149.3" stroke="#1a1a1a" stroke-width="0.9"/>
<line x1="428.75" y1="146.3" x2="428.75" y2="149.3" stroke="#1a1a1a" stroke-width="0.9"/>
<line x1="436.65" y1="146.3" x2="436.65" y2="149.3" stroke="#1a1a1a" stroke-width="0.9"/>
<line x1="444.55" y1="146.3" x2="444.55" y2="149.3" stroke="#1a1a1a" stroke-width="0.9"/>
<line x1="420.85" y1="103.08" x2="420.85" y2="105.98" stroke="#86a2d0" stroke-width="0.9"/>
<line x1="419.39" y1="103.08" x2="422.31" y2="103.08" stroke="#86a2d0" stroke-width="0.9"/>
<rect x="418.2" y="105.98" width="5.3" height="40.32" fill="#97b0d6" stroke="#86a2d0" stroke-width="0.5"/>
<line x1="428.75" y1="120.29" x2="428.75" y2="125.65" stroke="#d28480" stroke-width="0.9"/>
<line x1="427.29" y1="120.29" x2="430.21" y2="120.29" stroke="#d28480" stroke-width="0.9"/>
<rect x="426.1" y="125.65" width="5.3" height="20.66" fill="#d99591" stroke="#d28480" stroke-width="0.5"/>
<line x1="436.65" y1="110.73" x2="436.65" y2="118.38" stroke="#86a2d0" stroke-width="0.9"/>
<line x1="435.19" y1="110.73" x2="438.11" y2="110.73" stroke="#86a2d0" stroke-width="0.9"/>
<rect x="434" y="118.38" width="5.3" height="27.92" fill="#97b0d6" stroke="#86a2d0" stroke-width="0.5"/>
<line x1="444.55" y1="111.49" x2="444.55" y2="113.41" stroke="#d28480" stroke-width="0.9"/>
<line x1="443.09" y1="111.49" x2="446.01" y2="111.49" stroke="#d28480" stroke-width="0.9"/>
<rect x="441.9" y="113.41" width="5.3" height="32.9" fill="#d99591" stroke="#d28480" stroke-width="0.5"/>
<line x1="420.5" y1="100.6" x2="428.8" y2="100.6" stroke="#1a1a1a" stroke-width="0.8"/>
<text x="424.65" y="100.9" font-size="5" text-anchor="middle" fill="#222">*</text>
<text x="423.45" y="155.1" font-size="5.5" text-anchor="end" fill="#222" transform="rotate(-45 423.45 155.1)">SgGFP 2M</text>
<text x="431.35" y="155.1" font-size="5.5" text-anchor="end" fill="#222" transform="rotate(-45 431.35 155.1)">SgHLF 2M</text>
<text x="439.25" y="155.1" font-size="5.5" text-anchor="end" fill="#222" transform="rotate(-45 439.25 155.1)">SgGFP 100K</text>
<text x="447.15" y="155.1" font-size="5.5" text-anchor="end" fill="#222" transform="rotate(-45 447.15 155.1)">SgHLF 100K</text>
<line x1="468.5" y1="97.8" x2="468.5" y2="146.5" stroke="#1a1a1a" stroke-width="1.1"/>
<line x1="465.7" y1="146.5" x2="468.5" y2="146.5" stroke="#1a1a1a" stroke-width="0.8"/>
<text x="463.4" y="148.62" font-size="5.9" text-anchor="end" fill="#222">0</text>
<line x1="465.7" y1="134.92" x2="468.5" y2="134.92" stroke="#1a1a1a" stroke-width="0.8"/>
<text x="463.4" y="137.04" font-size="5.9" text-anchor="end" fill="#222">2</text>
<line x1="465.7" y1="123.34" x2="468.5" y2="123.34" stroke="#1a1a1a" stroke-width="0.8"/>
<text x="463.4" y="125.46" font-size="5.9" text-anchor="end" fill="#222">4</text>
<line x1="465.7" y1="111.76" x2="468.5" y2="111.76" stroke="#1a1a1a" stroke-width="0.8"/>
<text x="463.4" y="113.88" font-size="5.9" text-anchor="end" fill="#222">6</text>
<line x1="465.7" y1="100.18" x2="468.5" y2="100.18" stroke="#1a1a1a" stroke-width="0.8"/>
<text x="463.4" y="102.3" font-size="5.9" text-anchor="end" fill="#222">8</text>
<line x1="468.5" y1="146.5" x2="503" y2="146.5" stroke="#1a1a1a" stroke-width="1.1"/>
<line x1="473.95" y1="146.5" x2="473.95" y2="149.5" stroke="#1a1a1a" stroke-width="0.9"/>
<line x1="481.85" y1="146.5" x2="481.85" y2="149.5" stroke="#1a1a1a" stroke-width="0.9"/>
<line x1="489.75" y1="146.5" x2="489.75" y2="149.5" stroke="#1a1a1a" stroke-width="0.9"/>
<line x1="497.65" y1="146.5" x2="497.65" y2="149.5" stroke="#1a1a1a" stroke-width="0.9"/>
<line x1="473.95" y1="125.08" x2="473.95" y2="130" stroke="#86a2d0" stroke-width="0.9"/>
<line x1="472.49" y1="125.08" x2="475.41" y2="125.08" stroke="#86a2d0" stroke-width="0.9"/>
<rect x="471.3" y="130" width="5.3" height="16.5" fill="#97b0d6" stroke="#86a2d0" stroke-width="0.5"/>
<line x1="481.85" y1="112.05" x2="481.85" y2="114.66" stroke="#d28480" stroke-width="0.9"/>
<line x1="480.39" y1="112.05" x2="483.31" y2="112.05" stroke="#d28480" stroke-width="0.9"/>
<rect x="479.2" y="114.66" width="5.3" height="31.84" fill="#d99591" stroke="#d28480" stroke-width="0.5"/>
<line x1="489.75" y1="137.81" x2="489.75" y2="140.71" stroke="#86a2d0" stroke-width="0.9"/>
<line x1="488.29" y1="137.81" x2="491.21" y2="137.81" stroke="#86a2d0" stroke-width="0.9"/>
<rect x="487.1" y="140.71" width="5.3" height="5.79" fill="#97b0d6" stroke="#86a2d0" stroke-width="0.5"/>
<line x1="497.65" y1="122.47" x2="497.65" y2="125.66" stroke="#d28480" stroke-width="0.9"/>
<line x1="496.19" y1="122.47" x2="499.11" y2="122.47" stroke="#d28480" stroke-width="0.9"/>
<rect x="495" y="125.66" width="5.3" height="20.84" fill="#d99591" stroke="#d28480" stroke-width="0.5"/>
<line x1="473.7" y1="107.5" x2="481.8" y2="107.5" stroke="#1a1a1a" stroke-width="0.8"/>
<text x="477.75" y="107.8" font-size="5" text-anchor="middle" fill="#222">*</text>
<line x1="489.6" y1="107.5" x2="497.9" y2="107.5" stroke="#1a1a1a" stroke-width="0.8"/>
<text x="492.45" y="107.8" font-size="5" text-anchor="middle" fill="#222">*</text>
<text x="495.05" y="107.8" font-size="5" text-anchor="middle" fill="#222">*</text>
<text x="476.55" y="155.3" font-size="5.5" text-anchor="end" fill="#222" transform="rotate(-45 476.55 155.3)">SgGFP 2M</text>
<text x="484.45" y="155.3" font-size="5.5" text-anchor="end" fill="#222" transform="rotate(-45 484.45 155.3)">SgHLF 2M</text>
<text x="492.35" y="155.3" font-size="5.5" text-anchor="end" fill="#222" transform="rotate(-45 492.35 155.3)">SgGFP 100K</text>
<text x="500.25" y="155.3" font-size="5.5" text-anchor="end" fill="#222" transform="rotate(-45 500.25 155.3)">SgHLF 100K</text>
<text x="329.2" y="33.6" font-size="5" text-anchor="middle" fill="#222">G0/G1</text>
<line x1="317.7" y1="36.6" x2="342.3" y2="36.6" stroke="#1a1a1a" stroke-width="0.9"/>
<text x="380.3" y="26.8" font-size="5" text-anchor="middle" fill="#222">Edu+</text>
<text x="380.3" y="33.4" font-size="5" text-anchor="middle" fill="#222">early S</text>
<line x1="368.5" y1="36.4" x2="392.3" y2="36.4" stroke="#1a1a1a" stroke-width="0.9"/>
<text x="430.8" y="27" font-size="5" text-anchor="middle" fill="#222">Edu+</text>
<text x="430.8" y="33.6" font-size="5" text-anchor="middle" fill="#222">late S</text>
<line x1="418.7" y1="36.6" x2="442.9" y2="36.6" stroke="#1a1a1a" stroke-width="0.9"/>
<text x="484.8" y="33.4" font-size="5" text-anchor="middle" fill="#222">G2/M</text>
<line x1="473" y1="36.4" x2="497" y2="36.4" stroke="#1a1a1a" stroke-width="0.9"/>
<text x="295.6" y="62.2" font-size="8.6" text-anchor="middle" fill="#111" transform="rotate(-90 295.6 62.2)" textLength="38.5" lengthAdjust="spacingAndGlyphs">Percentage</text>
<text x="295.6" y="122.4" font-size="8.6" text-anchor="middle" fill="#111" transform="rotate(-90 295.6 122.4)" textLength="38.5" lengthAdjust="spacingAndGlyphs">Percentage</text>
<text x="511.3" y="63" font-size="6.3" text-anchor="middle" fill="#222" transform="rotate(-90 511.3 63)">t0</text>
<text x="511.3" y="122.2" font-size="6.3" text-anchor="middle" fill="#222" transform="rotate(-90 511.3 122.2)">t14h</text>
<line x1="48.5" y1="297.5" x2="48.5" y2="356" stroke="#1a1a1a" stroke-width="1.1"/>
<line x1="45.9" y1="299.8" x2="48.5" y2="299.8" stroke="#1a1a1a" stroke-width="0.8"/>
<text x="42.4" y="301.89" font-size="5.8" text-anchor="end" fill="#222">100</text>
<line x1="45.9" y1="313.85" x2="48.5" y2="313.85" stroke="#1a1a1a" stroke-width="0.8"/>
<text x="42.4" y="315.94" font-size="5.8" text-anchor="end" fill="#222">10</text>
<line x1="45.9" y1="327.9" x2="48.5" y2="327.9" stroke="#1a1a1a" stroke-width="0.8"/>
<text x="42.4" y="329.99" font-size="5.8" text-anchor="end" fill="#222">1</text>
<line x1="45.9" y1="341.95" x2="48.5" y2="341.95" stroke="#1a1a1a" stroke-width="0.8"/>
<text x="42.4" y="344.04" font-size="5.8" text-anchor="end" fill="#222">0.1</text>
<line x1="45.9" y1="356" x2="48.5" y2="356" stroke="#1a1a1a" stroke-width="0.8"/>
<text x="42.4" y="358.09" font-size="5.8" text-anchor="end" fill="#222">0.01</text>
<line x1="48.5" y1="356" x2="137" y2="356" stroke="#1a1a1a" stroke-width="1.1"/>
<line x1="54.9" y1="356" x2="54.9" y2="358.4" stroke="#1a1a1a" stroke-width="0.9"/>
<line x1="69.9" y1="356" x2="69.9" y2="358.4" stroke="#1a1a1a" stroke-width="0.9"/>
<line x1="84.9" y1="356" x2="84.9" y2="358.4" stroke="#1a1a1a" stroke-width="0.9"/>
<line x1="99.9" y1="356" x2="99.9" y2="358.4" stroke="#1a1a1a" stroke-width="0.9"/>
<line x1="114.9" y1="356" x2="114.9" y2="358.4" stroke="#1a1a1a" stroke-width="0.9"/>
<line x1="129.9" y1="356" x2="129.9" y2="358.4" stroke="#1a1a1a" stroke-width="0.9"/>
<line x1="52.15" y1="342.3" x2="52.15" y2="346.8" stroke="#86a2d0" stroke-width="0.9"/>
<line x1="51.08" y1="342.3" x2="53.22" y2="342.3" stroke="#86a2d0" stroke-width="0.9"/>
<rect x="50.2" y="346.8" width="3.9" height="9.2" fill="#97b0d6" stroke="#86a2d0" stroke-width="0.5"/>
<line x1="57.75" y1="344.6" x2="57.75" y2="349.3" stroke="#d28480" stroke-width="0.9"/>
<line x1="56.68" y1="344.6" x2="58.82" y2="344.6" stroke="#d28480" stroke-width="0.9"/>
<rect x="55.8" y="349.3" width="3.9" height="6.7" fill="#d99591" stroke="#d28480" stroke-width="0.5"/>
<line x1="67.15" y1="309.5" x2="67.15" y2="310.8" stroke="#86a2d0" stroke-width="0.9"/>
<line x1="66.08" y1="309.5" x2="68.22" y2="309.5" stroke="#86a2d0" stroke-width="0.9"/>
<rect x="65.2" y="310.8" width="3.9" height="45.2" fill="#97b0d6" stroke="#86a2d0" stroke-width="0.5"/>
<line x1="72.75" y1="312.5" x2="72.75" y2="316" stroke="#d28480" stroke-width="0.9"/>
<line x1="71.68" y1="312.5" x2="73.82" y2="312.5" stroke="#d28480" stroke-width="0.9"/>
<rect x="70.8" y="316" width="3.9" height="40" fill="#d99591" stroke="#d28480" stroke-width="0.5"/>
<line x1="82.15" y1="318.4" x2="82.15" y2="320.7" stroke="#86a2d0" stroke-width="0.9"/>
<line x1="81.08" y1="318.4" x2="83.22" y2="318.4" stroke="#86a2d0" stroke-width="0.9"/>
<rect x="80.2" y="320.7" width="3.9" height="35.3" fill="#97b0d6" stroke="#86a2d0" stroke-width="0.5"/>
<line x1="87.75" y1="323" x2="87.75" y2="325.9" stroke="#d28480" stroke-width="0.9"/>
<line x1="86.68" y1="323" x2="88.82" y2="323" stroke="#d28480" stroke-width="0.9"/>
<rect x="85.8" y="325.9" width="3.9" height="30.1" fill="#d99591" stroke="#d28480" stroke-width="0.5"/>
<line x1="97.15" y1="325.3" x2="97.15" y2="329" stroke="#86a2d0" stroke-width="0.9"/>
<line x1="96.08" y1="325.3" x2="98.22" y2="325.3" stroke="#86a2d0" stroke-width="0.9"/>
<rect x="95.2" y="329" width="3.9" height="27" fill="#97b0d6" stroke="#86a2d0" stroke-width="0.5"/>
<line x1="102.75" y1="335.4" x2="102.75" y2="338.3" stroke="#d28480" stroke-width="0.9"/>
<line x1="101.68" y1="335.4" x2="103.82" y2="335.4" stroke="#d28480" stroke-width="0.9"/>
<rect x="100.8" y="338.3" width="3.9" height="17.7" fill="#d99591" stroke="#d28480" stroke-width="0.5"/>
<line x1="112.15" y1="311.2" x2="112.15" y2="312.9" stroke="#86a2d0" stroke-width="0.9"/>
<line x1="111.08" y1="311.2" x2="113.22" y2="311.2" stroke="#86a2d0" stroke-width="0.9"/>
<rect x="110.2" y="312.9" width="3.9" height="43.1" fill="#97b0d6" stroke="#86a2d0" stroke-width="0.5"/>
<line x1="117.75" y1="319.5" x2="117.75" y2="322" stroke="#d28480" stroke-width="0.9"/>
<line x1="116.68" y1="319.5" x2="118.82" y2="319.5" stroke="#d28480" stroke-width="0.9"/>
<rect x="115.8" y="322" width="3.9" height="34" fill="#d99591" stroke="#d28480" stroke-width="0.5"/>
<line x1="127.15" y1="320.2" x2="127.15" y2="321.2" stroke="#86a2d0" stroke-width="0.9"/>
<line x1="126.08" y1="320.2" x2="128.22" y2="320.2" stroke="#86a2d0" stroke-width="0.9"/>
<rect x="125.2" y="321.2" width="3.9" height="34.8" fill="#97b0d6" stroke="#86a2d0" stroke-width="0.5"/>
<line x1="132.75" y1="327.1" x2="132.75" y2="329.8" stroke="#d28480" stroke-width="0.9"/>
<line x1="131.68" y1="327.1" x2="133.82" y2="327.1" stroke="#d28480" stroke-width="0.9"/>
<rect x="130.8" y="329.8" width="3.9" height="26.2" fill="#d99591" stroke="#d28480" stroke-width="0.5"/>
<line x1="51.4" y1="335.4" x2="59.7" y2="335.4" stroke="#1a1a1a" stroke-width="0.8"/>
<text x="55.55" y="334.2" font-size="5" text-anchor="middle" fill="#222">n.s.</text>
<line x1="66.6" y1="306.8" x2="74.7" y2="306.8" stroke="#1a1a1a" stroke-width="0.8"/>
<text x="70.65" y="307.1" font-size="5" text-anchor="middle" fill="#222">*</text>
<line x1="81.1" y1="314.6" x2="89.4" y2="314.6" stroke="#1a1a1a" stroke-width="0.8"/>
<text x="85.25" y="314.9" font-size="5" text-anchor="middle" fill="#222">*</text>
<line x1="96.9" y1="322" x2="105" y2="322" stroke="#1a1a1a" stroke-width="0.8"/>
<text x="100.95" y="322.3" font-size="5" text-anchor="middle" fill="#222">*</text>
<line x1="111.9" y1="308.2" x2="119.7" y2="308.2" stroke="#1a1a1a" stroke-width="0.8"/>
<text x="113.57" y="308.5" font-size="5" text-anchor="middle" fill="#222">*</text>
<text x="115.8" y="308.5" font-size="5" text-anchor="middle" fill="#222">*</text>
<text x="118.03" y="308.5" font-size="5" text-anchor="middle" fill="#222">*</text>
<line x1="127.2" y1="316" x2="134.8" y2="316" stroke="#1a1a1a" stroke-width="0.8"/>
<text x="128.83" y="316.3" font-size="5" text-anchor="middle" fill="#222">*</text>
<text x="131" y="316.3" font-size="5" text-anchor="middle" fill="#222">*</text>
<text x="133.17" y="316.3" font-size="5" text-anchor="middle" fill="#222">*</text>
<rect x="52" y="297.8" width="6.8" height="2.6" fill="#97b0d6"/>
<text x="60" y="301.2" font-size="4.8" text-anchor="start" fill="#5b82c0" textLength="11.6" lengthAdjust="spacingAndGlyphs">sgGFP</text>
<rect x="86.3" y="297.8" width="6" height="2.6" fill="#d99591"/>
<text x="95.5" y="301.2" font-size="4.8" text-anchor="start" fill="#c05a5a" textLength="10.8" lengthAdjust="spacingAndGlyphs">sgHLF</text>
<text x="15.2" y="326.5" font-size="8.6" text-anchor="middle" fill="#111" transform="rotate(-90 15.2 326.5)" textLength="62" lengthAdjust="spacingAndGlyphs">Viable cell counts</text>
<text x="25" y="327" font-size="8.6" text-anchor="middle" fill="#111" transform="rotate(-90 25 327)" textLength="72" lengthAdjust="spacingAndGlyphs">normalized to DMSO</text>
<text x="58.5" y="363.6" font-size="6" text-anchor="end" fill="#222" transform="rotate(-45 58.5 363.6)">100K_AraC_50nM</text>
<text x="73.5" y="363.6" font-size="6" text-anchor="end" fill="#222" transform="rotate(-45 73.5 363.6)">2M_AraC_50nM</text>
<text x="88.5" y="363.6" font-size="6" text-anchor="end" fill="#222" transform="rotate(-45 88.5 363.6)">100K_Daunorubicin_50nM</text>
<text x="103.5" y="363.6" font-size="6" text-anchor="end" fill="#222" transform="rotate(-45 103.5 363.6)">2M_Daunorubicin_50nM</text>
<text x="118.5" y="363.6" font-size="6" text-anchor="end" fill="#222" transform="rotate(-45 118.5 363.6)">100K_Etoposide_2uM</text>
<text x="133.5" y="363.6" font-size="6" text-anchor="end" fill="#222" transform="rotate(-45 133.5 363.6)">2M_Etoposide_2uM</text>
<line x1="228.4" y1="364.2" x2="230.6" y2="364.2" stroke="#1a1a1a" stroke-width="0.8"/>
<text x="227" y="366.3" font-size="5.8" text-anchor="end" fill="#222">0.0</text>
<line x1="228.4" y1="339.52" x2="230.6" y2="339.52" stroke="#1a1a1a" stroke-width="0.8"/>
<text x="227" y="341.62" font-size="5.8" text-anchor="end" fill="#222">2.5</text>
<line x1="228.4" y1="314.85" x2="230.6" y2="314.85" stroke="#1a1a1a" stroke-width="0.8"/>
<text x="227" y="316.95" font-size="5.8" text-anchor="end" fill="#222">5.0</text>
<line x1="228.4" y1="290.18" x2="230.6" y2="290.18" stroke="#1a1a1a" stroke-width="0.8"/>
<text x="227" y="292.28" font-size="5.8" text-anchor="end" fill="#222">7.5</text>
<line x1="228.4" y1="265.5" x2="230.6" y2="265.5" stroke="#1a1a1a" stroke-width="0.8"/>
<text x="227" y="267.6" font-size="5.8" text-anchor="end" fill="#222">10.0</text>
<line x1="228.4" y1="240.82" x2="230.6" y2="240.82" stroke="#1a1a1a" stroke-width="0.8"/>
<text x="227" y="242.92" font-size="5.8" text-anchor="end" fill="#222">12.5</text>
<line x1="267.88" y1="370.6" x2="267.88" y2="373.2" stroke="#1a1a1a" stroke-width="0.8"/>
<text x="267.88" y="382.6" font-size="5.8" text-anchor="middle" fill="#222">−4</text>
<line x1="307.4" y1="370.6" x2="307.4" y2="373.2" stroke="#1a1a1a" stroke-width="0.8"/>
<text x="307.4" y="382.6" font-size="5.8" text-anchor="middle" fill="#222">0</text>
<line x1="346.92" y1="370.6" x2="346.92" y2="373.2" stroke="#1a1a1a" stroke-width="0.8"/>
<text x="346.92" y="382.6" font-size="5.8" text-anchor="middle" fill="#222">4</text>
<line x1="307.4" y1="247.4" x2="307.4" y2="358.6" stroke="#eeeeee" stroke-width="0.6"/>
<path d="M305.7 359.59h1v1h-1zM304.85 353.63h1v1h-1zM318.26 348.01h1v1h-1zM315.86 359.74h1v1h-1zM311.53 361.36h1v1h-1zM302.64 361.35h1v1h-1zM320.72 361.96h1v1h-1zM301.99 363.86h1v1h-1zM287.44 358.61h1v1h-1zM307.97 351.31h1v1h-1zM287.8 357.07h1v1h-1zM320.92 358.65h1v1h-1zM298.83 359.57h1v1h-1zM299.3 342.44h1v1h-1zM295.47 356.66h1v1h-1zM286.65 350.34h1v1h-1zM292.42 360.89h1v1h-1zM307.74 357.54h1v1h-1zM330.54 355.45h1v1h-1zM321.95 361.79h1v1h-1zM300.89 356.26h1v1h-1zM311.4 360.79h1v1h-1zM316.18 356.33h1v1h-1zM321.82 350.23h1v1h-1zM316.44 354.18h1v1h-1zM321.38 358.96h1v1h-1zM327.05 353.06h1v1h-1zM313.6 358.81h1v1h-1zM303.74 360.81h1v1h-1zM307.01 356.56h1v1h-1zM294.68 353.76h1v1h-1zM309.59 354.08h1v1h-1zM319.2 349.97h1v1h-1zM305.54 361.85h1v1h-1zM302.56 350.02h1v1h-1zM307.88 357.27h1v1h-1zM325.73 354.61h1v1h-1zM309.7 345.33h1v1h-1zM323.55 360h1v1h-1zM324.38 344.93h1v1h-1zM312.39 338.5h1v1h-1zM313.69 361.71h1v1h-1zM303.37 363.9h1v1h-1zM295.33 356.96h1v1h-1zM315.69 361.08h1v1h-1zM309.81 357.88h1v1h-1zM325.58 346.68h1v1h-1zM318.5 356.97h1v1h-1zM321.6 352.64h1v1h-1zM314.83 356.93h1v1h-1zM319.17 356.7h1v1h-1zM313.83 356.57h1v1h-1zM301.78 342.74h1v1h-1zM330.69 338.92h1v1h-1zM293.5 359.27h1v1h-1zM317.44 361.7h1v1h-1zM287.58 358.37h1v1h-1zM289.03 357.06h1v1h-1zM307.12 347.03h1v1h-1zM307.05 344.69h1v1h-1zM303.84 362.59h1v1h-1zM286.53 355.11h1v1h-1zM301.47 361.89h1v1h-1zM322.19 363.99h1v1h-1zM309.27 345.93h1v1h-1zM289.81 357.67h1v1h-1zM326.68 350.33h1v1h-1zM295.36 357.16h1v1h-1zM322.72 360.75h1v1h-1zM296.26 362.44h1v1h-1zM303.7 359.95h1v1h-1zM325.02 357.82h1v1h-1zM292.36 345.08h1v1h-1zM305.42 356.81h1v1h-1zM326.68 350.28h1v1h-1zM309.52 357.32h1v1h-1zM300.02 356.34h1v1h-1zM311.2 355.96h1v1h-1zM325.95 360.79h1v1h-1zM296.06 354.15h1v1h-1zM329.53 351.5h1v1h-1zM303.97 359.15h1v1h-1zM306.3 355.87h1v1h-1zM307.78 352.42h1v1h-1zM336.77 352.91h1v1h-1zM325.22 348.95h1v1h-1zM322.25 361.14h1v1h-1zM286.2 350.37h1v1h-1zM307.74 363.64h1v1h-1zM296.33 343.31h1v1h-1zM304.23 356.41h1v1h-1zM309.01 358.79h1v1h-1zM321.85 359.96h1v1h-1zM321.95 353.33h1v1h-1zM314.85 348.31h1v1h-1zM306.35 344.87h1v1h-1zM300.96 347.27h1v1h-1zM309.53 358.07h1v1h-1zM301.59 356.56h1v1h-1zM310.43 363.53h1v1h-1zM308.14 353.8h1v1h-1zM311.54 358.44h1v1h-1zM312.7 362.66h1v1h-1zM319.6 351.95h1v1h-1zM307.38 354.71h1v1h-1zM315.1 354.78h1v1h-1zM306.34 357.99h1v1h-1zM290.77 360.81h1v1h-1zM293.64 358.07h1v1h-1zM317 359.29h1v1h-1zM331.91 356.43h1v1h-1zM297.75 358.89h1v1h-1zM305.34 354.38h1v1h-1zM275.73 354.81h1v1h-1zM313.72 349.3h1v1h-1zM347.36 355.62h1v1h-1zM264.98 346.8h1v1h-1zM311.29 359.45h1v1h-1zM309.16 356.34h1v1h-1zM346.37 358.39h1v1h-1zM330.87 356.96h1v1h-1zM298.05 359.9h1v1h-1zM290 361.81h1v1h-1zM303.1 357.31h1v1h-1zM314.26 360.34h1v1h-1zM306.53 358.31h1v1h-1zM308.9 361.38h1v1h-1zM343.04 346.37h1v1h-1zM285.97 359.87h1v1h-1zM329.55 362.29h1v1h-1zM307.34 353.18h1v1h-1zM315.1 351.3h1v1h-1zM297.33 361h1v1h-1zM326.09 356.83h1v1h-1zM287.06 354.46h1v1h-1zM303.99 356.96h1v1h-1zM321.96 361.71h1v1h-1zM303.85 363.77h1v1h-1zM282.49 356.74h1v1h-1zM308.05 358.22h1v1h-1zM310.06 358.72h1v1h-1zM337.87 351.26h1v1h-1zM300.77 360.28h1v1h-1zM314.52 355.54h1v1h-1zM301.38 350.7h1v1h-1zM320.12 356.6h1v1h-1zM296.24 356.82h1v1h-1zM284.07 355.53h1v1h-1zM313.85 346.2h1v1h-1zM292.16 353.6h1v1h-1zM296.82 357.65h1v1h-1zM302.72 357.92h1v1h-1zM336.42 357.07h1v1h-1zM323.09 348.33h1v1h-1zM335.49 361.24h1v1h-1zM299.44 362.7h1v1h-1zM307.85 355.21h1v1h-1zM302.8 359.24h1v1h-1zM339.13 345.63h1v1h-1zM297.18 353.16h1v1h-1zM316.9 280.8h1v1h-1zM272.4 357.8h1v1h-1zM254.6 359.6h1v1h-1zM289.6 318.8h1v1h-1zM300.5 312.6h1v1h-1zM311.8 296h1v1h-1zM288.4 306.6h1v1h-1zM313.4 302.6h1v1h-1zM333.5 357.5h1v1h-1zM339.2 352.4h1v1h-1zM343.6 361.2h1v1h-1zM262.4 361.8h1v1h-1z" fill="#b8b8b8" fill-opacity="0.9"/>
<path d="M313.47 361.31h0.9v0.9h-0.9zM303.64 355.31h0.9v0.9h-0.9zM313.86 357.06h0.9v0.9h-0.9zM320.21 362.6h0.9v0.9h-0.9zM296.61 354.08h0.9v0.9h-0.9zM287.61 361.97h0.9v0.9h-0.9zM295.26 363.84h0.9v0.9h-0.9zM317.88 357.68h0.9v0.9h-0.9zM318.69 363.76h0.9v0.9h-0.9zM293.55 358.75h0.9v0.9h-0.9zM299.84 361.24h0.9v0.9h-0.9zM300.32 352.94h0.9v0.9h-0.9zM294.39 364.72h0.9v0.9h-0.9zM303.78 349.68h0.9v0.9h-0.9zM315.17 362.46h0.9v0.9h-0.9zM309.89 356.66h0.9v0.9h-0.9zM302.92 364.1h0.9v0.9h-0.9zM282.17 360.68h0.9v0.9h-0.9zM293.38 365.59h0.9v0.9h-0.9zM321.35 365.22h0.9v0.9h-0.9zM304.37 362.98h0.9v0.9h-0.9zM303.26 363.84h0.9v0.9h-0.9zM312.34 360.97h0.9v0.9h-0.9zM311.01 355.09h0.9v0.9h-0.9zM294.3 354.38h0.9v0.9h-0.9zM292.87 362.78h0.9v0.9h-0.9zM331.54 365.59h0.9v0.9h-0.9zM325.34 365.52h0.9v0.9h-0.9zM323.5 365.38h0.9v0.9h-0.9zM325.89 362.53h0.9v0.9h-0.9zM319.83 360.21h0.9v0.9h-0.9zM319.73 364.29h0.9v0.9h-0.9zM300.89 365.05h0.9v0.9h-0.9zM320.16 365.49h0.9v0.9h-0.9zM312.18 360.78h0.9v0.9h-0.9zM303.97 355.53h0.9v0.9h-0.9zM316.02 363.01h0.9v0.9h-0.9zM310.76 352.38h0.9v0.9h-0.9zM299.82 354.48h0.9v0.9h-0.9zM313.99 359.53h0.9v0.9h-0.9zM296.32 362.14h0.9v0.9h-0.9zM294.06 355.37h0.9v0.9h-0.9zM310.33 352.75h0.9v0.9h-0.9zM320.47 364.91h0.9v0.9h-0.9zM295.31 364.24h0.9v0.9h-0.9zM309.62 362.32h0.9v0.9h-0.9zM317.52 357.57h0.9v0.9h-0.9zM311.23 364.72h0.9v0.9h-0.9zM327.16 358.61h0.9v0.9h-0.9zM315.76 360.62h0.9v0.9h-0.9zM298.74 357.14h0.9v0.9h-0.9zM322 363.5h0.9v0.9h-0.9zM305.04 359.46h0.9v0.9h-0.9zM318.72 363.13h0.9v0.9h-0.9zM325.87 358.47h0.9v0.9h-0.9zM298.46 363.12h0.9v0.9h-0.9zM296.69 362.59h0.9v0.9h-0.9zM321.51 365.39h0.9v0.9h-0.9zM314.7 364.22h0.9v0.9h-0.9zM297.03 363.71h0.9v0.9h-0.9zM311.7 352.33h0.9v0.9h-0.9zM300.8 365.57h0.9v0.9h-0.9zM325.35 363.41h0.9v0.9h-0.9zM310.08 359.66h0.9v0.9h-0.9zM311.6 365.05h0.9v0.9h-0.9zM289.41 364.09h0.9v0.9h-0.9zM285.55 358.81h0.9v0.9h-0.9zM311.25 363.04h0.9v0.9h-0.9zM312.52 357.04h0.9v0.9h-0.9zM290.54 361.95h0.9v0.9h-0.9zM323.26 356.87h0.9v0.9h-0.9zM329.75 362.7h0.9v0.9h-0.9zM298.44 356.19h0.9v0.9h-0.9zM286.15 363.8h0.9v0.9h-0.9zM289.08 363.12h0.9v0.9h-0.9zM311.13 361.67h0.9v0.9h-0.9zM314.05 365.44h0.9v0.9h-0.9zM309.26 365.51h0.9v0.9h-0.9zM294.53 365.27h0.9v0.9h-0.9zM305.35 364.34h0.9v0.9h-0.9zM324.53 359.98h0.9v0.9h-0.9zM325.61 357.77h0.9v0.9h-0.9zM298.85 354.24h0.9v0.9h-0.9zM312.45 359.13h0.9v0.9h-0.9zM300.39 357.27h0.9v0.9h-0.9zM293.16 357.88h0.9v0.9h-0.9zM299.31 365.07h0.9v0.9h-0.9zM303.71 361.49h0.9v0.9h-0.9zM314.45 361.24h0.9v0.9h-0.9zM299.77 365.24h0.9v0.9h-0.9zM316.49 354.97h0.9v0.9h-0.9zM289.58 360.21h0.9v0.9h-0.9zM297.36 364.5h0.9v0.9h-0.9zM314.23 362.29h0.9v0.9h-0.9zM320.21 355.56h0.9v0.9h-0.9zM319.11 363.54h0.9v0.9h-0.9zM306.11 362.39h0.9v0.9h-0.9zM325.5 361.33h0.9v0.9h-0.9zM297.91 363.68h0.9v0.9h-0.9zM293.39 365.33h0.9v0.9h-0.9zM289.78 363.36h0.9v0.9h-0.9zM288.17 364.83h0.9v0.9h-0.9zM326.15 358.48h0.9v0.9h-0.9zM299.81 360.8h0.9v0.9h-0.9zM292.56 360.89h0.9v0.9h-0.9zM304.93 363.73h0.9v0.9h-0.9zM318.14 363.64h0.9v0.9h-0.9zM311.17 363.45h0.9v0.9h-0.9zM293.6 363.76h0.9v0.9h-0.9zM299.1 359.68h0.9v0.9h-0.9zM316.44 364.63h0.9v0.9h-0.9zM310.51 361.8h0.9v0.9h-0.9zM295.47 365.11h0.9v0.9h-0.9zM284.79 362.33h0.9v0.9h-0.9zM299.22 363.9h0.9v0.9h-0.9zM314.28 365.25h0.9v0.9h-0.9zM311.17 365.28h0.9v0.9h-0.9zM315.49 353.41h0.9v0.9h-0.9zM309.72 363.9h0.9v0.9h-0.9zM319.56 357.24h0.9v0.9h-0.9zM293.54 364.9h0.9v0.9h-0.9zM319.33 355.31h0.9v0.9h-0.9zM329.47 359.06h0.9v0.9h-0.9zM299.17 362.56h0.9v0.9h-0.9zM310.52 359.45h0.9v0.9h-0.9zM305.25 353.4h0.9v0.9h-0.9zM317.05 358.02h0.9v0.9h-0.9zM277.94 363.8h0.9v0.9h-0.9zM310.81 361.42h0.9v0.9h-0.9zM301.91 365.44h0.9v0.9h-0.9zM304.53 365.27h0.9v0.9h-0.9zM310.69 363.79h0.9v0.9h-0.9zM300.63 362.61h0.9v0.9h-0.9zM316 364.26h0.9v0.9h-0.9zM314.97 359.5h0.9v0.9h-0.9zM312.74 362.64h0.9v0.9h-0.9zM300.17 355.89h0.9v0.9h-0.9zM275.13 365.38h0.9v0.9h-0.9zM302.65 356.4h0.9v0.9h-0.9zM313.21 352.26h0.9v0.9h-0.9zM310.56 358.25h0.9v0.9h-0.9zM312.93 365.59h0.9v0.9h-0.9zM304.04 354.81h0.9v0.9h-0.9zM316.95 352.12h0.9v0.9h-0.9zM300.49 357.86h0.9v0.9h-0.9zM322.38 355.26h0.9v0.9h-0.9zM295.43 358.94h0.9v0.9h-0.9zM316.76 360.68h0.9v0.9h-0.9zM303.58 353.95h0.9v0.9h-0.9zM305.78 357.46h0.9v0.9h-0.9zM302.02 358.15h0.9v0.9h-0.9zM327.42 360.98h0.9v0.9h-0.9zM323.72 358.91h0.9v0.9h-0.9zM321.14 362.44h0.9v0.9h-0.9zM297.88 361.89h0.9v0.9h-0.9zM332.89 362.49h0.9v0.9h-0.9zM305.88 356.92h0.9v0.9h-0.9zM295.64 358.64h0.9v0.9h-0.9zM333.13 362.66h0.9v0.9h-0.9zM291.13 361h0.9v0.9h-0.9zM311.66 360.72h0.9v0.9h-0.9zM314.42 365.45h0.9v0.9h-0.9zM311.04 364.61h0.9v0.9h-0.9zM313.77 352.38h0.9v0.9h-0.9zM306.11 364.25h0.9v0.9h-0.9zM313.67 354.99h0.9v0.9h-0.9zM296.44 358.74h0.9v0.9h-0.9zM288.81 361.33h0.9v0.9h-0.9zM316.23 360.04h0.9v0.9h-0.9zM303 358.3h0.9v0.9h-0.9zM313.55 362.89h0.9v0.9h-0.9zM298.43 361.33h0.9v0.9h-0.9zM309.19 363.37h0.9v0.9h-0.9zM320.13 365.58h0.9v0.9h-0.9zM302.04 352.67h0.9v0.9h-0.9zM329.64 360.84h0.9v0.9h-0.9zM304.27 356.91h0.9v0.9h-0.9zM311.37 362.9h0.9v0.9h-0.9zM312.45 354.68h0.9v0.9h-0.9zM298.4 352.35h0.9v0.9h-0.9zM290.2 365.6h0.9v0.9h-0.9zM294.43 365.56h0.9v0.9h-0.9zM302.47 359.6h0.9v0.9h-0.9zM316.9 360.01h0.9v0.9h-0.9zM282.82 360.94h0.9v0.9h-0.9zM310.19 364.47h0.9v0.9h-0.9zM301.14 362.81h0.9v0.9h-0.9zM323.32 361.84h0.9v0.9h-0.9zM303.96 365.59h0.9v0.9h-0.9zM303.14 365.25h0.9v0.9h-0.9zM327.7 365.28h0.9v0.9h-0.9zM293.82 363.66h0.9v0.9h-0.9zM303.1 365.47h0.9v0.9h-0.9zM316.11 364.64h0.9v0.9h-0.9zM305.11 362.74h0.9v0.9h-0.9zM310.64 353.75h0.9v0.9h-0.9zM317.83 365.58h0.9v0.9h-0.9zM313.96 351.48h0.9v0.9h-0.9zM285.01 364.26h0.9v0.9h-0.9zM324.73 365.6h0.9v0.9h-0.9zM319.33 359.76h0.9v0.9h-0.9zM301.61 358.41h0.9v0.9h-0.9zM319.44 365.42h0.9v0.9h-0.9zM323.99 365h0.9v0.9h-0.9zM316.87 365.47h0.9v0.9h-0.9zM305.85 365.21h0.9v0.9h-0.9zM314.56 365.57h0.9v0.9h-0.9zM321.7 363.36h0.9v0.9h-0.9zM317.03 358.62h0.9v0.9h-0.9zM293.57 364.17h0.9v0.9h-0.9zM310.98 361.87h0.9v0.9h-0.9zM304.42 351.97h0.9v0.9h-0.9zM312.67 364.55h0.9v0.9h-0.9zM329.11 365.54h0.9v0.9h-0.9zM330.38 359.36h0.9v0.9h-0.9zM318.38 363.95h0.9v0.9h-0.9zM330.39 364.09h0.9v0.9h-0.9zM319.54 364.88h0.9v0.9h-0.9zM294.37 364.16h0.9v0.9h-0.9zM317.34 356.67h0.9v0.9h-0.9zM334.95 363.79h0.9v0.9h-0.9zM325.3 362.14h0.9v0.9h-0.9zM296.31 355.32h0.9v0.9h-0.9zM295.75 364.27h0.9v0.9h-0.9zM282.72 365.59h0.9v0.9h-0.9zM300.92 357.11h0.9v0.9h-0.9zM309.79 356.81h0.9v0.9h-0.9zM302.21 355.16h0.9v0.9h-0.9zM310.75 364.99h0.9v0.9h-0.9zM322.61 359.2h0.9v0.9h-0.9zM316.98 362.81h0.9v0.9h-0.9zM314.34 351.67h0.9v0.9h-0.9zM301.1 361.63h0.9v0.9h-0.9zM292.7 357.98h0.9v0.9h-0.9zM313.74 362.58h0.9v0.9h-0.9zM303.96 353.35h0.9v0.9h-0.9zM315.73 358.37h0.9v0.9h-0.9zM300.55 352.21h0.9v0.9h-0.9zM315.47 360.32h0.9v0.9h-0.9zM308.79 355.63h0.9v0.9h-0.9zM304.8 362.77h0.9v0.9h-0.9zM287.91 365.51h0.9v0.9h-0.9zM298.14 363.14h0.9v0.9h-0.9zM298.94 356.67h0.9v0.9h-0.9zM297.56 362.21h0.9v0.9h-0.9zM314.3 352.69h0.9v0.9h-0.9zM309.11 358.15h0.9v0.9h-0.9zM318.84 353.99h0.9v0.9h-0.9zM303.13 360.89h0.9v0.9h-0.9zM295.48 356.26h0.9v0.9h-0.9zM297.13 356.82h0.9v0.9h-0.9zM310.43 350.8h0.9v0.9h-0.9zM293.25 358.6h0.9v0.9h-0.9zM290.97 357.02h0.9v0.9h-0.9zM325.98 365.35h0.9v0.9h-0.9zM304.4 365.19h0.9v0.9h-0.9zM310.61 358.41h0.9v0.9h-0.9zM293.8 365.45h0.9v0.9h-0.9zM330.35 362.42h0.9v0.9h-0.9zM321.06 354.91h0.9v0.9h-0.9zM322.25 362.17h0.9v0.9h-0.9zM304.97 354.53h0.9v0.9h-0.9zM296.7 363.13h0.9v0.9h-0.9zM297.58 357.68h0.9v0.9h-0.9zM303.23 356.88h0.9v0.9h-0.9zM303.66 356.09h0.9v0.9h-0.9zM287.51 363.4h0.9v0.9h-0.9zM296.5 363.02h0.9v0.9h-0.9zM318.93 354.9h0.9v0.9h-0.9zM312.85 355.65h0.9v0.9h-0.9zM334.75 364.72h0.9v0.9h-0.9zM294.22 360.54h0.9v0.9h-0.9zM309.73 365.12h0.9v0.9h-0.9zM297.78 357.54h0.9v0.9h-0.9zM304.22 354.11h0.9v0.9h-0.9zM301.88 365.44h0.9v0.9h-0.9zM322.69 365.58h0.9v0.9h-0.9zM328.55 363.07h0.9v0.9h-0.9zM304.55 365.22h0.9v0.9h-0.9zM304.46 355.92h0.9v0.9h-0.9zM284.86 362.6h0.9v0.9h-0.9zM315.29 354.48h0.9v0.9h-0.9zM303.41 362.23h0.9v0.9h-0.9zM321.85 364.64h0.9v0.9h-0.9zM312.6 365.39h0.9v0.9h-0.9zM322.2 363.05h0.9v0.9h-0.9zM300.48 361.76h0.9v0.9h-0.9zM309.93 358.02h0.9v0.9h-0.9zM304.75 365.58h0.9v0.9h-0.9zM305.11 365.23h0.9v0.9h-0.9zM304.69 365.28h0.9v0.9h-0.9zM327.21 362.16h0.9v0.9h-0.9zM324.68 357.91h0.9v0.9h-0.9zM308.82 355.7h0.9v0.9h-0.9zM316.76 362.05h0.9v0.9h-0.9zM311.43 363.1h0.9v0.9h-0.9zM299.82 357.17h0.9v0.9h-0.9zM313.53 364.16h0.9v0.9h-0.9zM298.32 354.68h0.9v0.9h-0.9zM299.12 361.23h0.9v0.9h-0.9zM303.22 352.33h0.9v0.9h-0.9zM316.99 364.33h0.9v0.9h-0.9zM318.95 363.81h0.9v0.9h-0.9zM318.22 355.09h0.9v0.9h-0.9zM292.53 364.84h0.9v0.9h-0.9zM288.47 365.48h0.9v0.9h-0.9zM312.13 365.57h0.9v0.9h-0.9zM296.1 357.41h0.9v0.9h-0.9zM305.88 355.2h0.9v0.9h-0.9zM297.77 357.76h0.9v0.9h-0.9zM325.3 360.52h0.9v0.9h-0.9zM322.64 364.77h0.9v0.9h-0.9zM315.38 356.36h0.9v0.9h-0.9zM305.76 361.06h0.9v0.9h-0.9zM293.87 358.77h0.9v0.9h-0.9zM328.93 362.28h0.9v0.9h-0.9zM317.55 360.75h0.9v0.9h-0.9zM310.68 351.97h0.9v0.9h-0.9zM315.52 354.49h0.9v0.9h-0.9zM313.01 359.79h0.9v0.9h-0.9zM304.09 362.39h0.9v0.9h-0.9zM311.97 365.44h0.9v0.9h-0.9zM329.58 362.85h0.9v0.9h-0.9zM330.05 363.57h0.9v0.9h-0.9zM311.49 364.83h0.9v0.9h-0.9zM303.64 364.64h0.9v0.9h-0.9zM308.93 358.17h0.9v0.9h-0.9zM297.59 354.68h0.9v0.9h-0.9zM305.16 365.43h0.9v0.9h-0.9zM287.2 365.59h0.9v0.9h-0.9zM327.43 362.55h0.9v0.9h-0.9zM319.73 362.04h0.9v0.9h-0.9zM319.44 365.09h0.9v0.9h-0.9zM302.23 361.77h0.9v0.9h-0.9zM291.21 365.31h0.9v0.9h-0.9zM310.85 365.36h0.9v0.9h-0.9zM299.48 363.35h0.9v0.9h-0.9zM300.02 360.3h0.9v0.9h-0.9zM276.75 365.35h0.9v0.9h-0.9zM320.52 365.58h0.9v0.9h-0.9zM309.23 356.16h0.9v0.9h-0.9zM313.59 359.8h0.9v0.9h-0.9zM305.13 364.43h0.9v0.9h-0.9zM325.71 362.38h0.9v0.9h-0.9zM312.26 351.28h0.9v0.9h-0.9zM298.24 357.16h0.9v0.9h-0.9zM284.59 364.34h0.9v0.9h-0.9zM282.4 365.06h0.9v0.9h-0.9zM327.01 363.9h0.9v0.9h-0.9zM309.18 365.41h0.9v0.9h-0.9zM313.75 364.98h0.9v0.9h-0.9zM302.5 365.57h0.9v0.9h-0.9zM295.58 361.8h0.9v0.9h-0.9zM299.52 355.32h0.9v0.9h-0.9zM314.76 365.6h0.9v0.9h-0.9zM301.29 363.19h0.9v0.9h-0.9zM300.73 362.81h0.9v0.9h-0.9zM314.97 361.65h0.9v0.9h-0.9zM280.16 364.87h0.9v0.9h-0.9zM295.72 365.57h0.9v0.9h-0.9zM302.08 357.98h0.9v0.9h-0.9zM286.34 365.48h0.9v0.9h-0.9zM318.17 361.63h0.9v0.9h-0.9zM298.04 361.26h0.9v0.9h-0.9zM310.7 354.26h0.9v0.9h-0.9zM315.31 351.29h0.9v0.9h-0.9zM305.96 363.87h0.9v0.9h-0.9zM294.15 365.03h0.9v0.9h-0.9zM305.27 361.02h0.9v0.9h-0.9zM300.69 365.53h0.9v0.9h-0.9zM301.15 352.1h0.9v0.9h-0.9zM300.02 364.69h0.9v0.9h-0.9zM318.4 361.96h0.9v0.9h-0.9zM322.68 365.15h0.9v0.9h-0.9zM316.06 353.68h0.9v0.9h-0.9zM301.83 350.53h0.9v0.9h-0.9zM323.83 364.65h0.9v0.9h-0.9zM299.33 360.52h0.9v0.9h-0.9zM309.64 353.58h0.9v0.9h-0.9zM309.37 364.61h0.9v0.9h-0.9zM293.37 359.99h0.9v0.9h-0.9zM299.58 352.95h0.9v0.9h-0.9zM325.88 362.75h0.9v0.9h-0.9zM303.08 357.62h0.9v0.9h-0.9zM320.1 359.21h0.9v0.9h-0.9zM313.04 365.54h0.9v0.9h-0.9zM305.76 364.78h0.9v0.9h-0.9zM308.7 362.71h0.9v0.9h-0.9zM300.61 353.73h0.9v0.9h-0.9zM310.63 358.01h0.9v0.9h-0.9zM311.68 364.86h0.9v0.9h-0.9zM317.38 360.36h0.9v0.9h-0.9zM281.44 364.71h0.9v0.9h-0.9zM295.24 354.87h0.9v0.9h-0.9zM318.16 358.87h0.9v0.9h-0.9zM299.72 360.88h0.9v0.9h-0.9zM303.31 365.44h0.9v0.9h-0.9zM318.62 365.14h0.9v0.9h-0.9zM319.9 356.14h0.9v0.9h-0.9zM302.59 353.48h0.9v0.9h-0.9zM316.81 355.9h0.9v0.9h-0.9zM319.04 365.14h0.9v0.9h-0.9zM303.1 364.06h0.9v0.9h-0.9zM321.73 365.54h0.9v0.9h-0.9zM310.08 360.28h0.9v0.9h-0.9zM312.56 356.78h0.9v0.9h-0.9zM296.77 365.48h0.9v0.9h-0.9zM297.12 356.49h0.9v0.9h-0.9zM305.24 359.4h0.9v0.9h-0.9zM298.63 364.08h0.9v0.9h-0.9zM315.49 358.93h0.9v0.9h-0.9zM303.68 355.68h0.9v0.9h-0.9zM315.63 362.99h0.9v0.9h-0.9zM310.18 365.31h0.9v0.9h-0.9zM305.66 359.15h0.9v0.9h-0.9zM312.39 353h0.9v0.9h-0.9zM285.67 365.6h0.9v0.9h-0.9zM317.39 365.12h0.9v0.9h-0.9zM301.52 364.76h0.9v0.9h-0.9zM316.77 353.99h0.9v0.9h-0.9zM289.34 360.53h0.9v0.9h-0.9zM310.27 360.58h0.9v0.9h-0.9zM319.35 364.79h0.9v0.9h-0.9zM313.91 362.81h0.9v0.9h-0.9zM283.61 365.5h0.9v0.9h-0.9zM305.87 354.28h0.9v0.9h-0.9zM322.02 365.59h0.9v0.9h-0.9zM323.07 365.6h0.9v0.9h-0.9zM297.98 353.2h0.9v0.9h-0.9zM309.95 352.62h0.9v0.9h-0.9zM299.24 351.93h0.9v0.9h-0.9zM334.05 365.04h0.9v0.9h-0.9zM304.63 359.04h0.9v0.9h-0.9zM318.93 365.31h0.9v0.9h-0.9zM321.52 360.76h0.9v0.9h-0.9zM297.93 361.57h0.9v0.9h-0.9zM310.31 354.37h0.9v0.9h-0.9zM324.82 363.54h0.9v0.9h-0.9zM315.26 356.16h0.9v0.9h-0.9zM295.14 360.29h0.9v0.9h-0.9zM305.41 354.34h0.9v0.9h-0.9zM302.16 350.03h0.9v0.9h-0.9zM320.33 357.44h0.9v0.9h-0.9zM279.3 365.54h0.9v0.9h-0.9zM310.38 352.72h0.9v0.9h-0.9zM296.46 364.83h0.9v0.9h-0.9zM286.38 359.85h0.9v0.9h-0.9zM325.72 365.56h0.9v0.9h-0.9zM328.81 358.97h0.9v0.9h-0.9zM315.44 355.31h0.9v0.9h-0.9zM297.73 362.76h0.9v0.9h-0.9zM295.65 360.07h0.9v0.9h-0.9zM322.43 360.35h0.9v0.9h-0.9zM312.23 356.84h0.9v0.9h-0.9zM287.17 364.39h0.9v0.9h-0.9zM292.49 365.08h0.9v0.9h-0.9zM300.07 361.01h0.9v0.9h-0.9zM311.03 358.61h0.9v0.9h-0.9zM321.83 364.11h0.9v0.9h-0.9zM295.65 358.16h0.9v0.9h-0.9zM321.81 361.79h0.9v0.9h-0.9zM326.08 357.02h0.9v0.9h-0.9zM315.73 363.99h0.9v0.9h-0.9zM334.5 365.53h0.9v0.9h-0.9zM293.45 361.47h0.9v0.9h-0.9zM314.55 365.23h0.9v0.9h-0.9zM309.01 359.51h0.9v0.9h-0.9zM327.2 363.7h0.9v0.9h-0.9zM301.03 355.63h0.9v0.9h-0.9zM292.7 360.45h0.9v0.9h-0.9zM292.95 360.14h0.9v0.9h-0.9zM304.57 356.09h0.9v0.9h-0.9zM324.42 364.2h0.9v0.9h-0.9zM319.79 362.82h0.9v0.9h-0.9zM304.14 361.61h0.9v0.9h-0.9zM310.04 355.79h0.9v0.9h-0.9zM292.08 358.58h0.9v0.9h-0.9zM305.59 365.55h0.9v0.9h-0.9zM305.96 362.88h0.9v0.9h-0.9zM294.12 363.58h0.9v0.9h-0.9zM293.84 357.5h0.9v0.9h-0.9zM309.46 362.5h0.9v0.9h-0.9zM286.95 365.24h0.9v0.9h-0.9zM316.8 362.76h0.9v0.9h-0.9zM303.09 358.69h0.9v0.9h-0.9zM317.78 363.72h0.9v0.9h-0.9zM315.67 364.92h0.9v0.9h-0.9zM305.77 364.96h0.9v0.9h-0.9zM286.73 365.45h0.9v0.9h-0.9zM289.43 363.96h0.9v0.9h-0.9zM298.06 354.37h0.9v0.9h-0.9zM323.23 361.47h0.9v0.9h-0.9zM305.77 357.28h0.9v0.9h-0.9zM308.79 355.83h0.9v0.9h-0.9zM298.78 357.56h0.9v0.9h-0.9zM292.32 364.4h0.9v0.9h-0.9zM315.94 365.6h0.9v0.9h-0.9zM325.84 364.78h0.9v0.9h-0.9zM309.63 365.18h0.9v0.9h-0.9zM287.49 365.59h0.9v0.9h-0.9zM294.63 363.12h0.9v0.9h-0.9zM334.35 364.68h0.9v0.9h-0.9zM308.76 361.43h0.9v0.9h-0.9zM308.88 363.57h0.9v0.9h-0.9zM300.98 350.46h0.9v0.9h-0.9zM284.33 364.83h0.9v0.9h-0.9zM324.46 362.35h0.9v0.9h-0.9zM298.6 365.07h0.9v0.9h-0.9zM304.53 365.24h0.9v0.9h-0.9zM313.07 350.66h0.9v0.9h-0.9zM310.14 361.95h0.9v0.9h-0.9zM324.63 362.62h0.9v0.9h-0.9zM321.89 365.6h0.9v0.9h-0.9zM330.85 365.36h0.9v0.9h-0.9zM310.63 359.69h0.9v0.9h-0.9zM302.55 364.98h0.9v0.9h-0.9zM301.69 361.35h0.9v0.9h-0.9zM298.64 363.37h0.9v0.9h-0.9zM301.31 358.2h0.9v0.9h-0.9zM299.12 359.51h0.9v0.9h-0.9zM319.91 363.23h0.9v0.9h-0.9zM290.99 359.94h0.9v0.9h-0.9zM301.44 358.58h0.9v0.9h-0.9zM313.3 364.65h0.9v0.9h-0.9zM310.04 354.45h0.9v0.9h-0.9zM299.54 361.42h0.9v0.9h-0.9zM322.05 358.09h0.9v0.9h-0.9zM328.01 363.77h0.9v0.9h-0.9zM317.63 364.93h0.9v0.9h-0.9zM304.55 362.74h0.9v0.9h-0.9zM297.51 365.06h0.9v0.9h-0.9zM292.98 365.53h0.9v0.9h-0.9zM312.67 358.07h0.9v0.9h-0.9zM311.39 364.52h0.9v0.9h-0.9zM296.07 364.69h0.9v0.9h-0.9zM299.55 364.4h0.9v0.9h-0.9zM309.99 352.19h0.9v0.9h-0.9zM299.19 364.75h0.9v0.9h-0.9zM302.35 353.64h0.9v0.9h-0.9zM309.57 362.25h0.9v0.9h-0.9zM304.47 365.58h0.9v0.9h-0.9zM302.6 356.71h0.9v0.9h-0.9zM299.62 363.29h0.9v0.9h-0.9zM330.84 365.54h0.9v0.9h-0.9zM316.95 358.79h0.9v0.9h-0.9zM301.53 353.96h0.9v0.9h-0.9zM310.9 363.21h0.9v0.9h-0.9zM286.21 364.14h0.9v0.9h-0.9zM309.32 362.76h0.9v0.9h-0.9zM302.47 363.63h0.9v0.9h-0.9zM292.19 365.49h0.9v0.9h-0.9zM316.4 361.83h0.9v0.9h-0.9zM303.08 364.59h0.9v0.9h-0.9zM300.78 360.86h0.9v0.9h-0.9zM294.54 356.46h0.9v0.9h-0.9zM297.01 360.41h0.9v0.9h-0.9zM309.84 365.17h0.9v0.9h-0.9zM324.49 364.42h0.9v0.9h-0.9zM319.18 355.2h0.9v0.9h-0.9zM318.91 354.92h0.9v0.9h-0.9zM306.04 360.51h0.9v0.9h-0.9zM303.65 352.8h0.9v0.9h-0.9zM277.61 363.48h0.9v0.9h-0.9zM304.61 365.34h0.9v0.9h-0.9zM312.57 363.77h0.9v0.9h-0.9zM327.38 364.85h0.9v0.9h-0.9zM297.74 363.95h0.9v0.9h-0.9zM300.56 358.76h0.9v0.9h-0.9zM323.96 365.57h0.9v0.9h-0.9zM320.03 364.01h0.9v0.9h-0.9zM320.29 359.12h0.9v0.9h-0.9zM309.7 365.15h0.9v0.9h-0.9zM280.91 365.06h0.9v0.9h-0.9zM299.22 365.59h0.9v0.9h-0.9zM326.74 364.99h0.9v0.9h-0.9zM312.77 365.42h0.9v0.9h-0.9zM298.01 359.69h0.9v0.9h-0.9zM294.55 357.71h0.9v0.9h-0.9zM313.66 358.65h0.9v0.9h-0.9zM304.29 365.59h0.9v0.9h-0.9zM319.2 357.19h0.9v0.9h-0.9zM294.89 365.57h0.9v0.9h-0.9zM313.57 358.88h0.9v0.9h-0.9zM323.97 364.81h0.9v0.9h-0.9zM336.12 365.6h0.9v0.9h-0.9zM294.33 363.83h0.9v0.9h-0.9zM317.42 364.15h0.9v0.9h-0.9zM304.95 365.17h0.9v0.9h-0.9zM309.39 359.61h0.9v0.9h-0.9zM320.72 365.12h0.9v0.9h-0.9zM306.07 354.6h0.9v0.9h-0.9zM323.22 364.56h0.9v0.9h-0.9zM295.55 360.84h0.9v0.9h-0.9zM313.19 354.12h0.9v0.9h-0.9zM288.33 365.31h0.9v0.9h-0.9zM293 365.31h0.9v0.9h-0.9zM337.55 363.26h0.9v0.9h-0.9zM316.69 363.97h0.9v0.9h-0.9zM306.11 363.79h0.9v0.9h-0.9zM319.85 365.59h0.9v0.9h-0.9zM312.71 361.89h0.9v0.9h-0.9zM298.19 365.52h0.9v0.9h-0.9zM310.09 352.12h0.9v0.9h-0.9zM315.67 352.46h0.9v0.9h-0.9zM301.09 360.64h0.9v0.9h-0.9zM302.5 363.34h0.9v0.9h-0.9zM303.71 356.44h0.9v0.9h-0.9zM313.87 356.78h0.9v0.9h-0.9zM299.75 355.91h0.9v0.9h-0.9zM314.66 353.52h0.9v0.9h-0.9zM296.57 360.58h0.9v0.9h-0.9zM321.11 360.98h0.9v0.9h-0.9zM299.87 361.97h0.9v0.9h-0.9zM312.78 350.56h0.9v0.9h-0.9zM302.01 354.94h0.9v0.9h-0.9zM287.53 361.93h0.9v0.9h-0.9zM312.75 354.74h0.9v0.9h-0.9zM314.53 362.74h0.9v0.9h-0.9zM320.81 354.62h0.9v0.9h-0.9zM312.07 362.09h0.9v0.9h-0.9zM306.18 354.52h0.9v0.9h-0.9zM312.64 359.18h0.9v0.9h-0.9zM317.93 354.9h0.9v0.9h-0.9zM329.9 362.83h0.9v0.9h-0.9zM295.63 364.33h0.9v0.9h-0.9zM304.86 363.94h0.9v0.9h-0.9zM302.71 363.85h0.9v0.9h-0.9zM289.34 361.18h0.9v0.9h-0.9zM297.21 352.69h0.9v0.9h-0.9zM304.67 355.36h0.9v0.9h-0.9zM294.68 364.77h0.9v0.9h-0.9zM305.73 362.07h0.9v0.9h-0.9zM300.78 358.6h0.9v0.9h-0.9zM302.85 365.36h0.9v0.9h-0.9zM324.25 363.49h0.9v0.9h-0.9zM321.28 361.38h0.9v0.9h-0.9zM310.03 351.01h0.9v0.9h-0.9zM309.79 362.18h0.9v0.9h-0.9zM310.39 356.79h0.9v0.9h-0.9zM310.3 365.59h0.9v0.9h-0.9zM301.05 350.88h0.9v0.9h-0.9z" fill="#3a3a3a" fill-opacity="0.55"/>
<path d="M285.0 366.0 C289 364.8 292 363.0 295.5 361.2 C299.0 359.5 301.5 356.5 303.8 352.0 C305.2 354.5 306.2 358.0 307.3 362.0 C308.4 358.0 309.4 354.5 310.8 352.0 C313.2 356.5 315.8 359.5 319.2 361.2 C322.6 363.0 325.6 364.8 330.0 366.0 Z" fill="#1e1e1e" filter="url(#bl)"/>
<rect x="288" y="363.6" width="38" height="2.4" fill="#161616"/>
<circle cx="236" cy="245" r="1.15" fill="#e02424"/>
<circle cx="291.5" cy="274.3" r="1.15" fill="#e02424"/>
<circle cx="291.5" cy="288.2" r="1.15" fill="#e02424"/>
<circle cx="285.5" cy="293.5" r="1.15" fill="#e02424"/>
<circle cx="295.8" cy="310.3" r="1.15" fill="#e02424"/>
<circle cx="283.5" cy="316.5" r="1.15" fill="#e02424"/>
<circle cx="296.9" cy="326.2" r="1.15" fill="#e02424"/>
<circle cx="295.1" cy="332.2" r="1.15" fill="#e02424"/>
<circle cx="295.2" cy="338.5" r="1.15" fill="#e02424"/>
<circle cx="279" cy="343.8" r="1.15" fill="#e02424"/>
<circle cx="286.5" cy="348.8" r="1.15" fill="#e02424"/>
<circle cx="283" cy="354.6" r="1.15" fill="#e02424"/>
<circle cx="289.5" cy="341.2" r="1.15" fill="#e02424"/>
<circle cx="292.5" cy="343.5" r="1.15" fill="#e02424"/>
<circle cx="295.5" cy="344.8" r="1.15" fill="#e02424"/>
<circle cx="289" cy="346.5" r="1.15" fill="#e02424"/>
<circle cx="292.4" cy="349" r="1.15" fill="#e02424"/>
<circle cx="296.5" cy="347.6" r="1.15" fill="#e02424"/>
<circle cx="290.8" cy="352.4" r="1.15" fill="#e02424"/>
<circle cx="294.5" cy="353" r="1.15" fill="#e02424"/>
<circle cx="297.5" cy="351" r="1.15" fill="#e02424"/>
<circle cx="298" cy="341.5" r="1.15" fill="#e02424"/>
<circle cx="287.6" cy="336.8" r="1.15" fill="#e02424"/>
<circle cx="299" cy="356.5" r="1.15" fill="#e02424"/>
<circle cx="291" cy="334.5" r="1.15" fill="#e02424"/>
<circle cx="329.3" cy="253.1" r="1.15" fill="#1f86c8"/>
<circle cx="321.8" cy="298.1" r="1.15" fill="#1f86c8"/>
<circle cx="327.4" cy="313.1" r="1.15" fill="#1f86c8"/>
<circle cx="320.5" cy="328" r="1.15" fill="#1f86c8"/>
<circle cx="343.5" cy="330" r="1.15" fill="#1f86c8"/>
<circle cx="345.4" cy="339.6" r="1.15" fill="#1f86c8"/>
<circle cx="335" cy="348.8" r="1.15" fill="#1f86c8"/>
<circle cx="366.6" cy="348.8" r="1.15" fill="#1f86c8"/>
<circle cx="318.2" cy="337.4" r="1.15" fill="#1f86c8"/>
<circle cx="319.4" cy="337.4" r="1.15" fill="#1f86c8"/>
<circle cx="317.6" cy="342.3" r="1.15" fill="#1f86c8"/>
<circle cx="320.4" cy="344.9" r="1.15" fill="#1f86c8"/>
<circle cx="331.5" cy="351" r="1.15" fill="#1f86c8"/>
<circle cx="333.8" cy="352.6" r="1.15" fill="#1f86c8"/>
<circle cx="336.8" cy="353.3" r="1.15" fill="#1f86c8"/>
<circle cx="325.5" cy="353.8" r="1.15" fill="#1f86c8"/>
<circle cx="322" cy="351.2" r="1.15" fill="#1f86c8"/>
<circle cx="338.6" cy="355" r="1.15" fill="#1f86c8"/>
<circle cx="328.6" cy="349.8" r="1.15" fill="#1f86c8"/>
<circle cx="316.8" cy="347.8" r="1.15" fill="#1f86c8"/>
<circle cx="326.4" cy="356" r="1.15" fill="#1f86c8"/>
<circle cx="331" cy="355.5" r="1.15" fill="#1f86c8"/>
<text x="231.5" y="250.3" font-size="5" text-anchor="start" fill="#e03030" textLength="13.8" lengthAdjust="spacingAndGlyphs">MMP1</text>
<text x="269.3" y="279.1" font-size="5" text-anchor="start" fill="#e03030" textLength="19.9" lengthAdjust="spacingAndGlyphs">SLAMF8</text>
<text x="268.4" y="291.8" font-size="5" text-anchor="start" fill="#e03030" textLength="21.9" lengthAdjust="spacingAndGlyphs">SLC12A8</text>
<text x="270" y="298.3" font-size="5" text-anchor="start" fill="#e03030" textLength="14.5" lengthAdjust="spacingAndGlyphs">MMP9</text>
<text x="281.2" y="314.4" font-size="5" text-anchor="start" fill="#e03030" textLength="13" lengthAdjust="spacingAndGlyphs">MSR1</text>
<text x="268" y="320.6" font-size="5" text-anchor="start" fill="#e03030" textLength="14.4" lengthAdjust="spacingAndGlyphs">VSIG4</text>
<text x="280.3" y="328.8" font-size="5" text-anchor="start" fill="#e03030" textLength="14.3" lengthAdjust="spacingAndGlyphs">LGMN</text>
<text x="268" y="334.2" font-size="5" text-anchor="start" fill="#e03030" textLength="21.3" lengthAdjust="spacingAndGlyphs">TNFSF15</text>
<text x="277.3" y="341.4" font-size="5" text-anchor="start" fill="#e03030" textLength="16.2" lengthAdjust="spacingAndGlyphs">GPR32</text>
<text x="254.2" y="347.2" font-size="5" text-anchor="start" fill="#e03030" textLength="22.4" lengthAdjust="spacingAndGlyphs">GAL3ST2</text>
<text x="274.3" y="351.8" font-size="5" text-anchor="start" fill="#e03030" textLength="11.1" lengthAdjust="spacingAndGlyphs">CCL7</text>
<text x="268.5" y="357.1" font-size="5" text-anchor="start" fill="#e03030" textLength="12.7" lengthAdjust="spacingAndGlyphs">HES1</text>
<text x="314.5" y="256.3" font-size="5" text-anchor="start" fill="#2a8ccc" textLength="12.5" lengthAdjust="spacingAndGlyphs">PRLR</text>
<text x="308" y="302.2" font-size="5" text-anchor="start" fill="#2a8ccc" textLength="12.5" lengthAdjust="spacingAndGlyphs">CD70</text>
<text x="312" y="317.8" font-size="5" text-anchor="start" fill="#2a8ccc" textLength="13.8" lengthAdjust="spacingAndGlyphs">FBTL1</text>
<text x="302.7" y="331.8" font-size="5" text-anchor="start" fill="#2a8ccc" textLength="15.5" lengthAdjust="spacingAndGlyphs">KIF26B</text>
<text x="326.5" y="334" font-size="5" text-anchor="start" fill="#2a8ccc" textLength="15.5" lengthAdjust="spacingAndGlyphs">VSTM1</text>
<text x="299.7" y="341.4" font-size="5" text-anchor="start" fill="#2a8ccc" textLength="15.7" lengthAdjust="spacingAndGlyphs">PDGFD</text>
<text x="328.5" y="343.8" font-size="5" text-anchor="start" fill="#2a8ccc" textLength="15" lengthAdjust="spacingAndGlyphs">LAMP5</text>
<text x="297" y="346" font-size="5" text-anchor="start" fill="#2a8ccc" textLength="18.4" lengthAdjust="spacingAndGlyphs">MS4A3</text>
<text x="316.5" y="351.3" font-size="5" text-anchor="start" fill="#2a8ccc" textLength="16.9" lengthAdjust="spacingAndGlyphs">MYO7B</text>
<text x="354.6" y="353.2" font-size="5" text-anchor="start" fill="#2a8ccc" textLength="10.4" lengthAdjust="spacingAndGlyphs">NPB</text>
<text x="297" y="356.4" font-size="5" text-anchor="start" fill="#2a8ccc" textLength="20.7" lengthAdjust="spacingAndGlyphs">SLC9A3R</text>
<text x="322.3" y="359.2" font-size="5" text-anchor="start" fill="#2a8ccc" textLength="12.7" lengthAdjust="spacingAndGlyphs">MSX2</text>
<rect x="230.6" y="239.4" width="141.8" height="131.2" fill="none" stroke="#1a1a1a" stroke-width="1.1"/>
<text x="232.2" y="236" font-size="6.4" text-anchor="start" fill="#222" textLength="51.8" lengthAdjust="spacingAndGlyphs">down in shHLF &lt;&lt;&lt;</text>
<text x="324.7" y="236" font-size="6.4" text-anchor="start" fill="#222" textLength="43.6" lengthAdjust="spacingAndGlyphs">&gt;&gt;&gt; up in shHLF</text>
<text x="206.2" y="304.5" font-size="7" text-anchor="middle" fill="#111" transform="rotate(-90 206.2 304.5)" textLength="95" lengthAdjust="spacingAndGlyphs">-1*log10(adjusted p-value)</text>
<text x="271.2" y="394.2" font-size="8.8" text-anchor="start" fill="#111" textLength="60" lengthAdjust="spacingAndGlyphs">log2-fold change</text>
<line x1="409.2" y1="226.2" x2="409.2" y2="282.3" stroke="#1a1a1a" stroke-width="1.1"/>
<line x1="406.6" y1="282.3" x2="409.2" y2="282.3" stroke="#1a1a1a" stroke-width="0.8"/>
<text x="403.8" y="284.39" font-size="5.8" text-anchor="end" fill="#222">0.0</text>
<line x1="406.6" y1="264.5" x2="409.2" y2="264.5" stroke="#1a1a1a" stroke-width="0.8"/>
<text x="403.8" y="266.59" font-size="5.8" text-anchor="end" fill="#222">0.5</text>
<line x1="406.6" y1="246.7" x2="409.2" y2="246.7" stroke="#1a1a1a" stroke-width="0.8"/>
<text x="403.8" y="248.79" font-size="5.8" text-anchor="end" fill="#222">1.0</text>
<line x1="406.6" y1="228.9" x2="409.2" y2="228.9" stroke="#1a1a1a" stroke-width="0.8"/>
<text x="403.8" y="230.99" font-size="5.8" text-anchor="end" fill="#222">1.5</text>
<line x1="409.2" y1="282.3" x2="435.4" y2="282.3" stroke="#1a1a1a" stroke-width="1.1"/>
<line x1="416.5" y1="282.3" x2="416.5" y2="284.7" stroke="#1a1a1a" stroke-width="0.9"/>
<line x1="428" y1="282.3" x2="428" y2="284.7" stroke="#1a1a1a" stroke-width="0.9"/>
<line x1="416.55" y1="231.39" x2="416.55" y2="246.7" stroke="#86a2d0" stroke-width="0.9"/>
<line x1="414.3" y1="231.39" x2="418.8" y2="231.39" stroke="#86a2d0" stroke-width="0.9"/>
<rect x="412.8" y="246.7" width="7.5" height="35.6" fill="#97b0d6" stroke="#86a2d0" stroke-width="0.5"/>
<line x1="427.9" y1="268.42" x2="427.9" y2="276.25" stroke="#d28480" stroke-width="0.9"/>
<line x1="425.65" y1="268.42" x2="430.15" y2="268.42" stroke="#d28480" stroke-width="0.9"/>
<rect x="424.3" y="276.25" width="7.2" height="6.05" fill="#d99591" stroke="#d28480" stroke-width="0.5"/>
<line x1="416.6" y1="227.4" x2="427.7" y2="227.4" stroke="#1a1a1a" stroke-width="0.8"/>
<text x="422.15" y="227.7" font-size="5" text-anchor="middle" fill="#222">*</text>
<text x="431.6" y="240.8" font-size="4.6" text-anchor="start" fill="#333">n=3</text>
<text x="389.3" y="254.2" font-size="8" text-anchor="middle" fill="#111" transform="rotate(-90 389.3 254.2)" textLength="39.2" lengthAdjust="spacingAndGlyphs">RPKM HES1</text>
<text x="419.4" y="288.9" font-size="5.8" text-anchor="end" fill="#222" transform="rotate(-45 419.4 288.9)">shLuc</text>
<text x="431" y="288.9" font-size="5.8" text-anchor="end" fill="#222" transform="rotate(-45 431 288.9)">shHLF</text>
<line x1="408.8" y1="314.3" x2="408.8" y2="370.4" stroke="#1a1a1a" stroke-width="1.1"/>
<line x1="406.2" y1="370.4" x2="408.8" y2="370.4" stroke="#1a1a1a" stroke-width="0.8"/>
<text x="403.4" y="372.49" font-size="5.8" text-anchor="end" fill="#222">0</text>
<line x1="406.2" y1="352.7" x2="408.8" y2="352.7" stroke="#1a1a1a" stroke-width="0.8"/>
<text x="403.4" y="354.79" font-size="5.8" text-anchor="end" fill="#222">5</text>
<line x1="406.2" y1="335" x2="408.8" y2="335" stroke="#1a1a1a" stroke-width="0.8"/>
<text x="403.4" y="337.09" font-size="5.8" text-anchor="end" fill="#222">10</text>
<line x1="406.2" y1="317.3" x2="408.8" y2="317.3" stroke="#1a1a1a" stroke-width="0.8"/>
<text x="403.4" y="319.39" font-size="5.8" text-anchor="end" fill="#222">15</text>
<line x1="408.8" y1="370.4" x2="435.4" y2="370.4" stroke="#1a1a1a" stroke-width="1.1"/>
<line x1="416.5" y1="370.4" x2="416.5" y2="372.8" stroke="#1a1a1a" stroke-width="0.9"/>
<line x1="428" y1="370.4" x2="428" y2="372.8" stroke="#1a1a1a" stroke-width="0.9"/>
<line x1="416.55" y1="323.32" x2="416.55" y2="328.63" stroke="#86a2d0" stroke-width="0.9"/>
<line x1="414.3" y1="323.32" x2="418.8" y2="323.32" stroke="#86a2d0" stroke-width="0.9"/>
<rect x="412.8" y="328.63" width="7.5" height="41.77" fill="#97b0d6" stroke="#86a2d0" stroke-width="0.5"/>
<line x1="427.9" y1="337.12" x2="427.9" y2="341.73" stroke="#d28480" stroke-width="0.9"/>
<line x1="425.65" y1="337.12" x2="430.15" y2="337.12" stroke="#d28480" stroke-width="0.9"/>
<rect x="424.3" y="341.73" width="7.2" height="28.67" fill="#d99591" stroke="#d28480" stroke-width="0.5"/>
<line x1="416.6" y1="321.2" x2="427.7" y2="321.2" stroke="#1a1a1a" stroke-width="0.8"/>
<text x="422.15" y="321.5" font-size="5" text-anchor="middle" fill="#222">*</text>
<text x="431.6" y="329.6" font-size="4.6" text-anchor="start" fill="#333">n=3</text>
<text x="390.3" y="342.2" font-size="8.5" text-anchor="middle" fill="#111" transform="rotate(-90 390.3 342.2)" textLength="52.8" lengthAdjust="spacingAndGlyphs">RPKM CDKN1C</text>
<text x="419.4" y="377" font-size="5.8" text-anchor="end" fill="#222" transform="rotate(-45 419.4 377)">shLuc</text>
<text x="431" y="377" font-size="5.8" text-anchor="end" fill="#222" transform="rotate(-45 431 377)">shHLF</text>
<line x1="48.6" y1="469.3" x2="48.6" y2="527.5" stroke="#1a1a1a" stroke-width="1.1"/>
<line x1="46" y1="471.5" x2="48.6" y2="471.5" stroke="#1a1a1a" stroke-width="0.8"/>
<text x="42.8" y="473.59" font-size="5.8" text-anchor="end" fill="#222">100</text>
<line x1="46" y1="499.5" x2="48.6" y2="499.5" stroke="#1a1a1a" stroke-width="0.8"/>
<text x="42.8" y="501.59" font-size="5.8" text-anchor="end" fill="#222">10</text>
<line x1="46" y1="527.5" x2="48.6" y2="527.5" stroke="#1a1a1a" stroke-width="0.8"/>
<text x="42.8" y="529.59" font-size="5.8" text-anchor="end" fill="#222">1</text>
<line x1="48.6" y1="527.5" x2="103.5" y2="527.5" stroke="#1a1a1a" stroke-width="1.1"/>
<line x1="61" y1="527.5" x2="61" y2="530.5" stroke="#1a1a1a" stroke-width="0.9"/>
<line x1="90.6" y1="527.5" x2="90.6" y2="530.5" stroke="#1a1a1a" stroke-width="0.9"/>
<line x1="55.4" y1="480.5" x2="55.4" y2="482" stroke="#86a2d0" stroke-width="0.9"/>
<line x1="53.4" y1="480.5" x2="57.4" y2="480.5" stroke="#86a2d0" stroke-width="0.9"/>
<rect x="51.6" y="482" width="7.6" height="45.5" fill="#97b0d6" stroke="#86a2d0" stroke-width="0.5"/>
<line x1="66.9" y1="502.5" x2="66.9" y2="505" stroke="#d28480" stroke-width="0.9"/>
<line x1="64.9" y1="502.5" x2="68.9" y2="502.5" stroke="#d28480" stroke-width="0.9"/>
<rect x="63.1" y="505" width="7.6" height="22.5" fill="#d99591" stroke="#d28480" stroke-width="0.5"/>
<line x1="85" y1="481.3" x2="85" y2="484.3" stroke="#86a2d0" stroke-width="0.9"/>
<line x1="83" y1="481.3" x2="87" y2="481.3" stroke="#86a2d0" stroke-width="0.9"/>
<rect x="81.2" y="484.3" width="7.6" height="43.2" fill="#97b0d6" stroke="#86a2d0" stroke-width="0.5"/>
<line x1="96.2" y1="495.5" x2="96.2" y2="499.3" stroke="#d28480" stroke-width="0.9"/>
<line x1="94.2" y1="495.5" x2="98.2" y2="495.5" stroke="#d28480" stroke-width="0.9"/>
<rect x="92.4" y="499.3" width="7.6" height="28.2" fill="#d99591" stroke="#d28480" stroke-width="0.5"/>
<line x1="55" y1="475" x2="65.5" y2="475" stroke="#1a1a1a" stroke-width="0.8"/>
<text x="58.95" y="475.3" font-size="5" text-anchor="middle" fill="#222">*</text>
<text x="61.55" y="475.3" font-size="5" text-anchor="middle" fill="#222">*</text>
<line x1="85" y1="475" x2="95.7" y2="475" stroke="#1a1a1a" stroke-width="0.8"/>
<text x="90.35" y="475.3" font-size="5" text-anchor="middle" fill="#222">*</text>
<text x="107" y="506.3" font-size="4.6" text-anchor="start" fill="#333">1st Tx</text>
<rect x="107" y="509.2" width="7.6" height="2.8" fill="#97b0d6"/>
<text x="116.5" y="512.4" font-size="4.8" text-anchor="start" fill="#5b82c0">sgGFP</text>
<rect x="107" y="515.6" width="7.6" height="2.8" fill="#d99591"/>
<text x="116.5" y="518.8" font-size="4.8" text-anchor="start" fill="#c05a5a">sgHLF</text>
<text x="26.6" y="499.4" font-size="8.4" text-anchor="middle" fill="#111" transform="rotate(-90 26.6 499.4)" textLength="43.8" lengthAdjust="spacingAndGlyphs">% of GAPDH</text>
<text x="64.4" y="536" font-size="6.2" text-anchor="end" fill="#222" transform="rotate(-45 64.4 536)">HES1</text>
<text x="94.6" y="536" font-size="6.2" text-anchor="end" fill="#222" transform="rotate(-45 94.6 536)">CDKN1C</text>
<line x1="48.6" y1="566.2" x2="48.6" y2="624.5" stroke="#1a1a1a" stroke-width="1.1"/>
<line x1="46" y1="568.1" x2="48.6" y2="568.1" stroke="#1a1a1a" stroke-width="0.8"/>
<text x="42.8" y="570.19" font-size="5.8" text-anchor="end" fill="#222">100</text>
<line x1="46" y1="582.2" x2="48.6" y2="582.2" stroke="#1a1a1a" stroke-width="0.8"/>
<text x="42.8" y="584.29" font-size="5.8" text-anchor="end" fill="#222">10</text>
<line x1="46" y1="596.3" x2="48.6" y2="596.3" stroke="#1a1a1a" stroke-width="0.8"/>
<text x="42.8" y="598.39" font-size="5.8" text-anchor="end" fill="#222">1</text>
<line x1="46" y1="610.4" x2="48.6" y2="610.4" stroke="#1a1a1a" stroke-width="0.8"/>
<text x="42.8" y="612.49" font-size="5.8" text-anchor="end" fill="#222">0.1</text>
<line x1="46" y1="624.5" x2="48.6" y2="624.5" stroke="#1a1a1a" stroke-width="0.8"/>
<text x="42.8" y="626.59" font-size="5.8" text-anchor="end" fill="#222">0.01</text>
<line x1="48.6" y1="624.5" x2="103.5" y2="624.5" stroke="#1a1a1a" stroke-width="1.1"/>
<line x1="61" y1="624.5" x2="61" y2="627.5" stroke="#1a1a1a" stroke-width="0.9"/>
<line x1="90.6" y1="624.5" x2="90.6" y2="627.5" stroke="#1a1a1a" stroke-width="0.9"/>
<line x1="55.4" y1="604.3" x2="55.4" y2="606.8" stroke="#86a2d0" stroke-width="0.9"/>
<line x1="53.4" y1="604.3" x2="57.4" y2="604.3" stroke="#86a2d0" stroke-width="0.9"/>
<rect x="51.6" y="606.8" width="7.6" height="17.7" fill="#97b0d6" stroke="#86a2d0" stroke-width="0.5"/>
<line x1="66.9" y1="616.5" x2="66.9" y2="620.3" stroke="#d28480" stroke-width="0.9"/>
<line x1="64.9" y1="616.5" x2="68.9" y2="616.5" stroke="#d28480" stroke-width="0.9"/>
<rect x="63.1" y="620.3" width="7.6" height="4.2" fill="#d99591" stroke="#d28480" stroke-width="0.5"/>
<line x1="85" y1="574.5" x2="85" y2="577.1" stroke="#86a2d0" stroke-width="0.9"/>
<line x1="83" y1="574.5" x2="87" y2="574.5" stroke="#86a2d0" stroke-width="0.9"/>
<rect x="81.2" y="577.1" width="7.6" height="47.4" fill="#97b0d6" stroke="#86a2d0" stroke-width="0.5"/>
<line x1="96.2" y1="586" x2="96.2" y2="587.8" stroke="#d28480" stroke-width="0.9"/>
<line x1="94.2" y1="586" x2="98.2" y2="586" stroke="#d28480" stroke-width="0.9"/>
<rect x="92.4" y="587.8" width="7.6" height="36.7" fill="#d99591" stroke="#d28480" stroke-width="0.5"/>
<line x1="55" y1="594.3" x2="65.5" y2="594.3" stroke="#1a1a1a" stroke-width="0.8"/>
<text x="58.95" y="594.6" font-size="5" text-anchor="middle" fill="#222">*</text>
<text x="61.55" y="594.6" font-size="5" text-anchor="middle" fill="#222">*</text>
<line x1="85" y1="569.3" x2="95.7" y2="569.3" stroke="#1a1a1a" stroke-width="0.8"/>
<text x="90.35" y="569.6" font-size="5" text-anchor="middle" fill="#222">*</text>
<text x="107" y="602.6" font-size="4.6" text-anchor="start" fill="#333">2nd Tx</text>
<rect x="107" y="605.6" width="7.6" height="2.8" fill="#97b0d6"/>
<text x="116.5" y="608.8" font-size="4.8" text-anchor="start" fill="#5b82c0">sgGFP</text>
<rect x="107" y="612" width="7.6" height="2.8" fill="#d99591"/>
<text x="116.5" y="615.2" font-size="4.8" text-anchor="start" fill="#c05a5a">sgHLF</text>
<text x="25" y="594.4" font-size="8.4" text-anchor="middle" fill="#111" transform="rotate(-90 25 594.4)" textLength="43.8" lengthAdjust="spacingAndGlyphs">% of GAPDH</text>
<text x="64.4" y="633" font-size="6.2" text-anchor="end" fill="#222" transform="rotate(-45 64.4 633)">HES1</text>
<text x="94.6" y="633" font-size="6.2" text-anchor="end" fill="#222" transform="rotate(-45 94.6 633)">CDKN1C</text>
<line x1="185" y1="467.6" x2="185" y2="527" stroke="#1a1a1a" stroke-width="1.1"/>
<line x1="182.4" y1="470" x2="185" y2="470" stroke="#1a1a1a" stroke-width="0.8"/>
<text x="179.5" y="472.02" font-size="5.6" text-anchor="end" fill="#222">1</text>
<line x1="182.4" y1="489" x2="185" y2="489" stroke="#1a1a1a" stroke-width="0.8"/>
<text x="179.5" y="491.02" font-size="5.6" text-anchor="end" fill="#222">0.1</text>
<line x1="182.4" y1="508" x2="185" y2="508" stroke="#1a1a1a" stroke-width="0.8"/>
<text x="179.5" y="510.02" font-size="5.6" text-anchor="end" fill="#222">0.01</text>
<line x1="182.4" y1="527" x2="185" y2="527" stroke="#1a1a1a" stroke-width="0.8"/>
<text x="179.5" y="529.02" font-size="5.6" text-anchor="end" fill="#222">0.001</text>
<line x1="185" y1="527" x2="241.3" y2="527" stroke="#1a1a1a" stroke-width="1.1"/>
<line x1="193.5" y1="527" x2="193.5" y2="530" stroke="#1a1a1a" stroke-width="0.9"/>
<line x1="213.1" y1="527" x2="213.1" y2="530" stroke="#1a1a1a" stroke-width="0.9"/>
<line x1="233.1" y1="527" x2="233.1" y2="530" stroke="#1a1a1a" stroke-width="0.9"/>
<rect x="187.5" y="486.9" width="5.1" height="40.1" fill="#97b0d6" stroke="#86a2d0" stroke-width="0.5"/>
<line x1="190.05" y1="472.1" x2="190.05" y2="486.9" stroke="#b4c8e6" stroke-width="0.9"/>
<line x1="188.2" y1="472.1" x2="191.9" y2="472.1" stroke="#b4c8e6" stroke-width="0.9"/>
<line x1="197.4" y1="510.3" x2="197.4" y2="513.8" stroke="#b9c383" stroke-width="0.9"/>
<line x1="195.6" y1="510.3" x2="199.2" y2="510.3" stroke="#b9c383" stroke-width="0.9"/>
<rect x="194.8" y="513.8" width="5.2" height="13.2" fill="#c6ce98" stroke="#b9c383" stroke-width="0.5"/>
<line x1="209.75" y1="483.1" x2="209.75" y2="489" stroke="#86a2d0" stroke-width="0.9"/>
<line x1="207.95" y1="483.1" x2="211.55" y2="483.1" stroke="#86a2d0" stroke-width="0.9"/>
<rect x="207.2" y="489" width="5.1" height="38" fill="#97b0d6" stroke="#86a2d0" stroke-width="0.5"/>
<line x1="217.1" y1="496" x2="217.1" y2="496.9" stroke="#b9c383" stroke-width="0.9"/>
<line x1="215.3" y1="496" x2="218.9" y2="496" stroke="#b9c383" stroke-width="0.9"/>
<rect x="214.5" y="496.9" width="5.2" height="30.1" fill="#c6ce98" stroke="#b9c383" stroke-width="0.5"/>
<rect x="227.2" y="479.1" width="4.8" height="47.9" fill="#97b0d6" stroke="#86a2d0" stroke-width="0.5"/>
<line x1="229.6" y1="471.9" x2="229.6" y2="479.1" stroke="#b4c8e6" stroke-width="0.9"/>
<line x1="227.8" y1="471.9" x2="231.4" y2="471.9" stroke="#b4c8e6" stroke-width="0.9"/>
<line x1="236.55" y1="489.6" x2="236.55" y2="491.9" stroke="#b9c383" stroke-width="0.9"/>
<line x1="234.75" y1="489.6" x2="238.35" y2="489.6" stroke="#b9c383" stroke-width="0.9"/>
<rect x="234" y="491.9" width="5.1" height="35.1" fill="#c6ce98" stroke="#b9c383" stroke-width="0.5"/>
<line x1="189" y1="467.1" x2="197.5" y2="467.1" stroke="#1a1a1a" stroke-width="0.8"/>
<text x="193.25" y="467.4" font-size="5" text-anchor="middle" fill="#222">*</text>
<line x1="209" y1="478.7" x2="217.5" y2="478.7" stroke="#1a1a1a" stroke-width="0.8"/>
<text x="213.25" y="479" font-size="5" text-anchor="middle" fill="#222">*</text>
<line x1="228.8" y1="467.4" x2="237.5" y2="467.4" stroke="#1a1a1a" stroke-width="0.8"/>
<text x="233.15" y="467.7" font-size="5" text-anchor="middle" fill="#222">*</text>
<text x="244.5" y="493.6" font-size="4.8" text-anchor="start" fill="#333">MN1/ND13</text>
<text x="244.5" y="499.8" font-size="4.8" text-anchor="start" fill="#333">in vivo</text>
<text x="244.5" y="506" font-size="4.8" text-anchor="start" fill="#333">n=3</text>
<rect x="244.5" y="509.4" width="6.8" height="2.8" fill="#97b0d6"/>
<text x="253" y="512.5" font-size="4.8" text-anchor="start" fill="#5b82c0">shLuc</text>
<rect x="244.5" y="515.6" width="6.8" height="2.8" fill="#c6ce98"/>
<text x="253" y="518.7" font-size="4.8" text-anchor="start" fill="#9aaa55">shHLF</text>
<text x="158.6" y="497.5" font-size="8.4" text-anchor="middle" fill="#111" transform="rotate(-90 158.6 497.5)" textLength="45" lengthAdjust="spacingAndGlyphs">% of GAPDH</text>
<text x="196.4" y="536.6" font-size="6.2" text-anchor="end" fill="#222" transform="rotate(-45 196.4 536.6)">HLF</text>
<text x="216" y="536.6" font-size="6.2" text-anchor="end" fill="#222" transform="rotate(-45 216 536.6)">HES1</text>
<text x="236" y="536.6" font-size="6.2" text-anchor="end" fill="#222" transform="rotate(-45 236 536.6)">CDKN1C</text>
<line x1="184.5" y1="571.8" x2="184.5" y2="624" stroke="#1a1a1a" stroke-width="1.1"/>
<line x1="181.9" y1="624" x2="184.5" y2="624" stroke="#1a1a1a" stroke-width="0.8"/>
<text x="178.7" y="626.09" font-size="5.8" text-anchor="end" fill="#222">0.0</text>
<line x1="181.9" y1="599.5" x2="184.5" y2="599.5" stroke="#1a1a1a" stroke-width="0.8"/>
<text x="178.7" y="601.59" font-size="5.8" text-anchor="end" fill="#222">0.5</text>
<line x1="181.9" y1="575" x2="184.5" y2="575" stroke="#1a1a1a" stroke-width="0.8"/>
<text x="178.7" y="577.09" font-size="5.8" text-anchor="end" fill="#222">1.0</text>
<line x1="184.5" y1="624" x2="233.8" y2="624" stroke="#1a1a1a" stroke-width="1.1"/>
<line x1="196.4" y1="624" x2="196.4" y2="627" stroke="#1a1a1a" stroke-width="0.9"/>
<line x1="222.4" y1="624" x2="222.4" y2="627" stroke="#1a1a1a" stroke-width="0.9"/>
<rect x="188.3" y="575" width="6.2" height="49" fill="#97b0d6" stroke="#86a2d0" stroke-width="0.5"/>
<line x1="201.25" y1="610.3" x2="201.25" y2="614.7" stroke="#b9c383" stroke-width="0.9"/>
<line x1="199.25" y1="610.3" x2="203.25" y2="610.3" stroke="#b9c383" stroke-width="0.9"/>
<rect x="198" y="614.7" width="6.5" height="9.3" fill="#c6ce98" stroke="#b9c383" stroke-width="0.5"/>
<rect x="214.3" y="575" width="6.5" height="49" fill="#97b0d6" stroke="#86a2d0" stroke-width="0.5"/>
<line x1="227.25" y1="605.6" x2="227.25" y2="606.4" stroke="#b9c383" stroke-width="0.9"/>
<line x1="225.25" y1="605.6" x2="229.25" y2="605.6" stroke="#b9c383" stroke-width="0.9"/>
<rect x="224" y="606.4" width="6.5" height="17.6" fill="#c6ce98" stroke="#b9c383" stroke-width="0.5"/>
<text x="201.2" y="608" font-size="4.6" text-anchor="middle" fill="#333">0.19</text>
<text x="227.3" y="604" font-size="4.6" text-anchor="middle" fill="#333">0.36</text>
<text x="245" y="596" font-size="4.8" text-anchor="start" fill="#333" textLength="22.5" lengthAdjust="spacingAndGlyphs">CD34 day 5</text>
<text x="245" y="602.4" font-size="4.8" text-anchor="start" fill="#333" textLength="29" lengthAdjust="spacingAndGlyphs">post infection</text>
<rect x="245" y="606" width="6.8" height="2.8" fill="#97b0d6"/>
<text x="253.5" y="609.1" font-size="4.8" text-anchor="start" fill="#5b82c0">shLuc</text>
<rect x="245" y="612" width="6.8" height="2.8" fill="#c6ce98"/>
<text x="253.5" y="615.1" font-size="4.8" text-anchor="start" fill="#9aaa55">shHLF</text>
<text x="156.2" y="598.8" font-size="8.4" text-anchor="middle" fill="#111" transform="rotate(-90 156.2 598.8)" textLength="43.5" lengthAdjust="spacingAndGlyphs">% of GAPDH</text>
<text x="166.2" y="598.8" font-size="8.4" text-anchor="middle" fill="#111" transform="rotate(-90 166.2 598.8)" textLength="70" lengthAdjust="spacingAndGlyphs">normalized to shLuc</text>
<text x="199.4" y="633" font-size="6.2" text-anchor="end" fill="#222" transform="rotate(-45 199.4 633)">HLF</text>
<text x="225.4" y="633" font-size="6.2" text-anchor="end" fill="#222" transform="rotate(-45 225.4 633)">HES1</text>
<line x1="331.9" y1="451" x2="331.9" y2="527.3" stroke="#1a1a1a" stroke-width="1.1"/>
<line x1="329.9" y1="523.7" x2="331.9" y2="523.7" stroke="#1a1a1a" stroke-width="0.7"/>
<text x="325.9" y="525.7" font-size="5.8" text-anchor="end" fill="#222">0.0</text>
<line x1="329.9" y1="516.76" x2="331.9" y2="516.76" stroke="#1a1a1a" stroke-width="0.7"/>
<text x="325.9" y="518.76" font-size="5.8" text-anchor="end" fill="#222">0.1</text>
<line x1="329.9" y1="509.82" x2="331.9" y2="509.82" stroke="#1a1a1a" stroke-width="0.7"/>
<text x="325.9" y="511.82" font-size="5.8" text-anchor="end" fill="#222">0.2</text>
<line x1="329.9" y1="502.88" x2="331.9" y2="502.88" stroke="#1a1a1a" stroke-width="0.7"/>
<text x="325.9" y="504.88" font-size="5.8" text-anchor="end" fill="#222">0.3</text>
<line x1="329.9" y1="495.94" x2="331.9" y2="495.94" stroke="#1a1a1a" stroke-width="0.7"/>
<text x="325.9" y="497.94" font-size="5.8" text-anchor="end" fill="#222">0.4</text>
<line x1="329.9" y1="489" x2="331.9" y2="489" stroke="#1a1a1a" stroke-width="0.7"/>
<text x="325.9" y="491" font-size="5.8" text-anchor="end" fill="#222">0.5</text>
<line x1="329.9" y1="482.06" x2="331.9" y2="482.06" stroke="#1a1a1a" stroke-width="0.7"/>
<text x="325.9" y="484.06" font-size="5.8" text-anchor="end" fill="#222">0.6</text>
<line x1="329.9" y1="475.12" x2="331.9" y2="475.12" stroke="#1a1a1a" stroke-width="0.7"/>
<text x="325.9" y="477.12" font-size="5.8" text-anchor="end" fill="#222">0.7</text>
<line x1="329.9" y1="468.18" x2="331.9" y2="468.18" stroke="#1a1a1a" stroke-width="0.7"/>
<text x="325.9" y="470.18" font-size="5.8" text-anchor="end" fill="#222">0.8</text>
<line x1="329.9" y1="461.24" x2="331.9" y2="461.24" stroke="#1a1a1a" stroke-width="0.7"/>
<text x="325.9" y="463.24" font-size="5.8" text-anchor="end" fill="#222">0.9</text>
<line x1="329.9" y1="454.3" x2="331.9" y2="454.3" stroke="#1a1a1a" stroke-width="0.7"/>
<text x="325.9" y="456.3" font-size="5.8" text-anchor="end" fill="#222">1.0</text>
<line x1="331.9" y1="527.3" x2="445.4" y2="527.3" stroke="#1a1a1a" stroke-width="1.1"/>
<line x1="337" y1="527.3" x2="337" y2="529.6" stroke="#1a1a1a" stroke-width="0.7"/>
<text x="337" y="538.4" font-size="5.6" text-anchor="middle" fill="#222">0</text>
<line x1="347.32" y1="527.3" x2="347.32" y2="529.6" stroke="#1a1a1a" stroke-width="0.7"/>
<text x="347.32" y="538.4" font-size="5.6" text-anchor="middle" fill="#222">1</text>
<line x1="357.64" y1="527.3" x2="357.64" y2="529.6" stroke="#1a1a1a" stroke-width="0.7"/>
<text x="357.64" y="538.4" font-size="5.6" text-anchor="middle" fill="#222">2</text>
<line x1="367.96" y1="527.3" x2="367.96" y2="529.6" stroke="#1a1a1a" stroke-width="0.7"/>
<text x="367.96" y="538.4" font-size="5.6" text-anchor="middle" fill="#222">3</text>
<line x1="378.28" y1="527.3" x2="378.28" y2="529.6" stroke="#1a1a1a" stroke-width="0.7"/>
<text x="378.28" y="538.4" font-size="5.6" text-anchor="middle" fill="#222">4</text>
<line x1="388.6" y1="527.3" x2="388.6" y2="529.6" stroke="#1a1a1a" stroke-width="0.7"/>
<text x="388.6" y="538.4" font-size="5.6" text-anchor="middle" fill="#222">5</text>
<line x1="398.92" y1="527.3" x2="398.92" y2="529.6" stroke="#1a1a1a" stroke-width="0.7"/>
<text x="398.92" y="538.4" font-size="5.6" text-anchor="middle" fill="#222">6</text>
<line x1="409.24" y1="527.3" x2="409.24" y2="529.6" stroke="#1a1a1a" stroke-width="0.7"/>
<text x="409.24" y="538.4" font-size="5.6" text-anchor="middle" fill="#222">7</text>
<line x1="419.56" y1="527.3" x2="419.56" y2="529.6" stroke="#1a1a1a" stroke-width="0.7"/>
<text x="419.56" y="538.4" font-size="5.6" text-anchor="middle" fill="#222">8</text>
<line x1="429.88" y1="527.3" x2="429.88" y2="529.6" stroke="#1a1a1a" stroke-width="0.7"/>
<text x="429.88" y="538.4" font-size="5.6" text-anchor="middle" fill="#222">9</text>
<line x1="440.2" y1="527.3" x2="440.2" y2="529.6" stroke="#1a1a1a" stroke-width="0.7"/>
<text x="440.2" y="538.4" font-size="5.6" text-anchor="middle" fill="#222">10</text>
<path d="M337 454.7 L337.69 454.7 L337.69 455.7 L338.38 455.7 L338.38 457.7 L339.06 457.7 L339.06 459.7 L339.75 459.7 L339.75 461.7 L340.44 461.7 L340.44 464.7 L341.13 464.7 L341.13 466.7 L341.82 466.7 L341.82 468.7 L342.5 468.7 L342.5 470.7 L343.19 470.7 L343.19 472.7 L343.88 472.7 L343.88 473.7 L344.57 473.7 L344.57 474.7 L345.26 474.7 L345.26 476.7 L345.94 476.7 L345.94 477.7 L346.63 477.7 L346.63 478.7 L347.32 478.7 L347.32 479.7 L347.94 479.7 L347.94 480.7 L348.56 480.7 L348.56 481.7 L349.18 481.7 L349.18 482.7 L349.8 482.7 L349.8 483.7 L350.42 483.7 L350.42 483.7 L351.04 483.7 L351.04 484.7 L351.65 484.7 L351.65 485.7 L352.27 485.7 L352.27 485.7 L352.89 485.7 L352.89 486.7 L353.51 486.7 L353.51 486.7 L354.2 486.7 L354.2 487.7 L354.89 487.7 L354.89 487.7 L355.58 487.7 L355.58 488.7 L356.26 488.7 L356.26 488.7 L356.95 488.7 L356.95 489.7 L357.64 489.7 L357.64 489.7 L358.33 489.7 L358.33 489.7 L359.02 489.7 L359.02 490.7 L359.7 490.7 L359.7 490.7 L360.39 490.7 L360.39 490.7 L361.08 490.7 L361.08 491.7 L361.77 491.7 L361.77 491.7 L362.46 491.7 L362.46 491.7 L363.14 491.7 L363.14 492.7 L363.83 492.7 L363.83 492.7 L364.52 492.7 L364.52 492.7 L365.21 492.7 L365.21 493.7 L365.9 493.7 L365.9 493.7 L366.58 493.7 L366.58 493.7 L367.27 493.7 L367.27 494.7 L367.96 494.7 L367.96 494.7 L368.65 494.7 L368.65 494.7 L369.34 494.7 L369.34 494.7 L370.02 494.7 L370.02 495.7 L370.71 495.7 L370.71 495.7 L371.4 495.7 L371.4 495.7 L372.09 495.7 L372.09 495.7 L372.78 495.7 L372.78 495.7 L373.46 495.7 L373.46 495.7 L374.15 495.7 L374.15 495.7 L374.84 495.7 L374.84 495.7 L375.53 495.7 L375.53 495.7 L376.22 495.7 L376.22 495.7 L376.9 495.7 L376.9 495.7 L377.59 495.7 L377.59 495.7 L378.28 495.7 L378.28 495.7 L378.93 495.7 L378.93 495.7 L379.57 495.7 L379.57 495.7 L380.22 495.7 L380.22 495.7 L380.86 495.7 L380.86 495.7 L381.5 495.7 L381.5 495.7 L382.15 495.7 L382.15 495.7 L382.8 495.7 L382.8 495.7 L383.44 495.7 L383.44 495.7 L384.08 495.7 L384.08 495.7 L384.73 495.7 L384.73 495.7 L385.38 495.7 L385.38 495.7 L386.02 495.7 L386.02 495.7 L386.67 495.7 L386.67 495.7 L387.31 495.7 L387.31 496.7 L387.95 496.7 L387.95 496.7 L388.6 496.7 L388.6 496.7 L389.29 496.7 L389.29 496.7 L389.98 496.7 L389.98 496.7 L390.66 496.7 L390.66 496.7 L391.35 496.7 L391.35 496.7 L392.04 496.7 L392.04 496.7 L392.73 496.7 L392.73 496.7 L393.42 496.7 L393.42 496.7 L394.1 496.7 L394.1 496.7 L394.79 496.7 L394.79 496.7 L395.48 496.7 L395.48 497.7 L396.17 497.7 L396.17 497.7 L396.86 497.7 L396.86 497.7 L397.54 497.7 L397.54 497.7 L398.23 497.7 L398.23 497.7 L398.92 497.7 L398.92 498.7 L399.61 498.7 L399.61 498.7 L400.3 498.7 L400.3 498.7 L400.98 498.7 L400.98 498.7 L401.67 498.7 L401.67 498.7 L402.36 498.7 L402.36 499.7 L403.05 499.7 L403.05 499.7 L403.67 499.7 L403.67 499.7 L404.29 499.7 L404.29 499.7 L404.91 499.7 L404.91 499.7 L405.54 499.7 L405.54 499.7 L406.16 499.7 L406.16 499.7 L406.78 499.7 L406.78 499.7 L407.4 499.7 L407.4 499.7 L408.03 499.7 L408.03 499.7 L408.65 499.7 L408.65 499.7 L409.27 499.7 L409.27 499.7 L409.89 499.7 L409.89 499.7 L410.51 499.7 L410.51 499.7 L411.14 499.7 L411.14 499.7 L411.76 499.7 L411.76 499.7 L412.38 499.7 L412.38 499.7 L413 499.7 L413 499.7 L413.63 499.7 L413.63 499.7 L414.25 499.7 L414.25 499.7 L414.87 499.7 L414.87 499.7 L415.49 499.7 L415.49 499.7 L416.11 499.7 L416.11 499.7 L416.74 499.7 L416.74 499.7 L417.36 499.7 L417.36 499.7 L417.98 499.7 L417.98 499.7 L418.6 499.7 L418.6 499.7 L419.23 499.7 L419.23 499.7 L419.85 499.7 L419.85 499.7 L420.47 499.7 L420.47 499.7 L421.09 499.7 L421.09 499.7 L421.72 499.7 L421.72 499.7 L422.34 499.7 L422.34 499.7 L422.96 499.7 L422.96 499.7 L423.58 499.7 L423.58 499.7 L424.2 499.7 L424.2 499.7 L424.83 499.7 L424.83 499.7 L425.45 499.7 L425.45 499.7 L426.07 499.7 L426.07 499.7 L426.69 499.7 L426.69 499.7 L427.32 499.7 L427.32 499.7 L427.94 499.7 L427.94 499.7 L428.56 499.7 L428.56 499.7 L429.18 499.7 L429.18 499.7 L429.8 499.7 L429.8 499.7 L430.43 499.7 L430.43 499.7 L431.05 499.7 L431.05 499.7 L431.67 499.7 L431.67 499.7 L432.29 499.7 L432.29 499.7 L432.92 499.7 L432.92 499.7 L433.54 499.7 L433.54 499.7 L434.16 499.7 L434.16 499.7 L434.78 499.7 L434.78 499.7 L435.4 499.7 L435.4 499.7 L436.03 499.7 L436.03 499.7 L436.65 499.7 L436.65 499.7 L437.27 499.7 L437.27 499.7 L437.89 499.7 L437.89 499.7 L438.52 499.7 L438.52 499.7 L439.14 499.7 L439.14 499.7 L439.76 499.7 L439.76 499.7 L440.38 499.7 L440.38 499.7 L441 499.7 L441 499.7 L441.63 499.7 L441.63 499.7 L442.25 499.7 L442.25 499.7 L442.87 499.7 L442.87 499.7 L443.49 499.7 L443.49 499.7 L444.12 499.7 L444.12 499.7 L444.74 499.7 L444.74 499.7 L445.36 499.7 L445.36 499.41" fill="none" stroke="#2f7fc0" stroke-width="1.3"/>
<path d="M337 454.7 L337.69 454.7 L337.69 456.7 L338.38 456.7 L338.38 458.7 L339.06 458.7 L339.06 461.7 L340.1 461.7 L340.1 465.7 L340.87 465.7 L340.87 469.7 L341.64 469.7 L341.64 474.7 L342.68 474.7 L342.68 479.7 L343.45 479.7 L343.45 483.7 L344.22 483.7 L344.22 486.7 L345 486.7 L345 489.7 L345.77 489.7 L345.77 492.7 L346.55 492.7 L346.55 495.7 L347.32 495.7 L347.32 497.7 L348.01 497.7 L348.01 498.7 L348.7 498.7 L348.7 499.7 L349.38 499.7 L349.38 501.7 L350 501.7 L350 501.7 L350.62 501.7 L350.62 502.7 L351.24 502.7 L351.24 502.7 L351.86 502.7 L351.86 503.7 L352.48 503.7 L352.48 504.7 L353.1 504.7 L353.1 504.7 L353.72 504.7 L353.72 504.7 L354.34 504.7 L354.34 505.7 L354.96 505.7 L354.96 505.7 L355.58 505.7 L355.58 505.7 L356.26 505.7 L356.26 506.7 L356.95 506.7 L356.95 506.7 L357.64 506.7 L357.64 506.7 L358.33 506.7 L358.33 506.7 L359.02 506.7 L359.02 506.7 L359.7 506.7 L359.7 507.7 L360.39 507.7 L360.39 507.7 L361.08 507.7 L361.08 507.7 L361.77 507.7 L361.77 507.7 L362.46 507.7 L362.46 507.7 L363.14 507.7 L363.14 507.7 L363.83 507.7 L363.83 507.7 L364.52 507.7 L364.52 508.7 L365.21 508.7 L365.21 508.7 L365.9 508.7 L365.9 508.7 L366.52 508.7 L366.52 508.7 L367.13 508.7 L367.13 508.7 L367.75 508.7 L367.75 508.7 L368.37 508.7 L368.37 508.7 L368.99 508.7 L368.99 508.7 L369.61 508.7 L369.61 508.7 L370.23 508.7 L370.23 508.7 L370.85 508.7 L370.85 508.7 L371.47 508.7 L371.47 508.7 L372.09 508.7 L372.09 508.7 L372.78 508.7 L372.78 509.7 L373.46 509.7 L373.46 509.7 L374.15 509.7 L374.15 509.7 L374.79 509.7 L374.79 509.7 L375.42 509.7 L375.42 509.7 L376.06 509.7 L376.06 509.7 L376.69 509.7 L376.69 509.7 L377.33 509.7 L377.33 509.7 L377.96 509.7 L377.96 509.7 L378.6 509.7 L378.6 509.7 L379.23 509.7 L379.23 509.7 L379.87 509.7 L379.87 509.7 L380.5 509.7 L380.5 509.7 L381.14 509.7 L381.14 509.7 L381.77 509.7 L381.77 509.7 L382.41 509.7 L382.41 509.7 L382.92 509.7 L382.92 511.7 L383.96 511.7 L383.96 515.7 L384.58 515.7 L384.58 515.7 L385.2 515.7 L385.2 515.7 L385.82 515.7 L385.82 515.7 L386.44 515.7 L386.44 515.7 L387.07 515.7 L387.07 515.7 L387.69 515.7 L387.69 515.7 L388.31 515.7 L388.31 515.7 L388.93 515.7 L388.93 515.7 L389.55 515.7 L389.55 515.7 L390.17 515.7 L390.17 515.7 L390.8 515.7 L390.8 515.7 L391.42 515.7 L391.42 515.7 L392.04 515.7 L392.04 515.7 L392.66 515.7 L392.66 515.7 L393.28 515.7 L393.28 515.7 L393.91 515.7 L393.91 515.7 L394.53 515.7 L394.53 515.7 L395.15 515.7 L395.15 515.7 L395.77 515.7 L395.77 515.7 L396.39 515.7 L396.39 515.7 L397.01 515.7 L397.01 515.7 L397.64 515.7 L397.64 515.7 L398.26 515.7 L398.26 515.7 L398.88 515.7 L398.88 515.7 L399.5 515.7 L399.5 515.7 L400.12 515.7 L400.12 515.7 L400.75 515.7 L400.75 515.7 L401.37 515.7 L401.37 515.7 L401.99 515.7 L401.99 515.7 L402.61 515.7 L402.61 515.7 L403.23 515.7 L403.23 515.7 L403.86 515.7 L403.86 515.7 L404.48 515.7 L404.48 515.7 L405.1 515.7 L405.1 515.7 L405.72 515.7 L405.72 515.7 L406.34 515.7 L406.34 515.7 L406.96 515.7 L406.96 515.7 L407.59 515.7 L407.59 515.7 L408.21 515.7 L408.21 515.7 L408.83 515.7 L408.83 515.7 L409.45 515.7 L409.45 515.7 L410.07 515.7 L410.07 515.7 L410.7 515.7 L410.7 515.7 L411.32 515.7 L411.32 515.7 L411.94 515.7 L411.94 515.7 L412.56 515.7 L412.56 515.7 L413.18 515.7 L413.18 515.7 L413.8 515.7 L413.8 515.7 L414.43 515.7 L414.43 515.7 L415.05 515.7 L415.05 515.7 L415.67 515.7 L415.67 515.7 L416.29 515.7 L416.29 515.7 L416.91 515.7 L416.91 515.7 L417.54 515.7 L417.54 515.7 L418.16 515.7 L418.16 515.7 L418.78 515.7 L418.78 515.7 L419.4 515.7 L419.4 515.7 L420.02 515.7 L420.02 515.7 L420.64 515.7 L420.64 515.7 L421.27 515.7 L421.27 515.7 L421.89 515.7 L421.89 515.7 L422.51 515.7 L422.51 515.7 L423.13 515.7 L423.13 515.7 L423.75 515.7 L423.75 515.7 L424.38 515.7 L424.38 515.7 L425 515.7 L425 515.7 L425.62 515.7 L425.62 515.7 L426.24 515.7 L426.24 515.7 L426.86 515.7 L426.86 515.7 L427.49 515.7 L427.49 515.7 L428.11 515.7 L428.11 515.7 L428.73 515.7 L428.73 515.7 L429.35 515.7 L429.35 515.7 L429.97 515.7 L429.97 515.7 L430.59 515.7 L430.59 515.7 L431.22 515.7 L431.22 515.7 L431.84 515.7 L431.84 515.7 L432.46 515.7 L432.46 515.37" fill="none" stroke="#c8403c" stroke-width="1.2"/>
<line x1="352.48" y1="484.2" x2="352.48" y2="486.7" stroke="#2f7fc0" stroke-width="0.6"/>
<line x1="356.61" y1="487.2" x2="356.61" y2="489.7" stroke="#2f7fc0" stroke-width="0.6"/>
<line x1="360.74" y1="490.2" x2="360.74" y2="492.7" stroke="#2f7fc0" stroke-width="0.6"/>
<line x1="363.83" y1="491.2" x2="363.83" y2="493.7" stroke="#2f7fc0" stroke-width="0.6"/>
<line x1="367.96" y1="493.2" x2="367.96" y2="495.7" stroke="#2f7fc0" stroke-width="0.6"/>
<line x1="371.06" y1="494.2" x2="371.06" y2="496.7" stroke="#2f7fc0" stroke-width="0.6"/>
<line x1="375.18" y1="494.2" x2="375.18" y2="496.7" stroke="#2f7fc0" stroke-width="0.6"/>
<line x1="378.28" y1="494.2" x2="378.28" y2="496.7" stroke="#2f7fc0" stroke-width="0.6"/>
<line x1="381.38" y1="494.2" x2="381.38" y2="496.7" stroke="#2f7fc0" stroke-width="0.6"/>
<line x1="383.44" y1="494.2" x2="383.44" y2="496.7" stroke="#2f7fc0" stroke-width="0.6"/>
<line x1="385.5" y1="494.2" x2="385.5" y2="496.7" stroke="#2f7fc0" stroke-width="0.6"/>
<line x1="390.66" y1="495.2" x2="390.66" y2="497.7" stroke="#2f7fc0" stroke-width="0.6"/>
<line x1="393.76" y1="495.2" x2="393.76" y2="497.7" stroke="#2f7fc0" stroke-width="0.6"/>
<line x1="402.02" y1="497.2" x2="402.02" y2="499.7" stroke="#2f7fc0" stroke-width="0.6"/>
<line x1="405.11" y1="498.2" x2="405.11" y2="500.7" stroke="#2f7fc0" stroke-width="0.6"/>
<line x1="406.14" y1="498.2" x2="406.14" y2="500.7" stroke="#2f7fc0" stroke-width="0.6"/>
<line x1="407.18" y1="498.2" x2="407.18" y2="500.7" stroke="#2f7fc0" stroke-width="0.6"/>
<line x1="408.21" y1="498.2" x2="408.21" y2="500.7" stroke="#2f7fc0" stroke-width="0.6"/>
<line x1="409.24" y1="498.2" x2="409.24" y2="500.7" stroke="#2f7fc0" stroke-width="0.6"/>
<line x1="413.37" y1="498.2" x2="413.37" y2="500.7" stroke="#2f7fc0" stroke-width="0.6"/>
<line x1="419.56" y1="498.2" x2="419.56" y2="500.7" stroke="#2f7fc0" stroke-width="0.6"/>
<line x1="422.66" y1="498.2" x2="422.66" y2="500.7" stroke="#2f7fc0" stroke-width="0.6"/>
<line x1="425.75" y1="498.2" x2="425.75" y2="500.7" stroke="#2f7fc0" stroke-width="0.6"/>
<line x1="429.88" y1="498.2" x2="429.88" y2="500.7" stroke="#2f7fc0" stroke-width="0.6"/>
<line x1="430.91" y1="498.2" x2="430.91" y2="500.7" stroke="#2f7fc0" stroke-width="0.6"/>
<line x1="434.01" y1="498.2" x2="434.01" y2="500.7" stroke="#2f7fc0" stroke-width="0.6"/>
<line x1="437.1" y1="498.2" x2="437.1" y2="500.7" stroke="#2f7fc0" stroke-width="0.6"/>
<line x1="441.23" y1="498.2" x2="441.23" y2="500.7" stroke="#2f7fc0" stroke-width="0.6"/>
<line x1="355.58" y1="504.2" x2="355.58" y2="506.7" stroke="#c8403c" stroke-width="0.6"/>
<line x1="366.93" y1="507.2" x2="366.93" y2="509.7" stroke="#c8403c" stroke-width="0.6"/>
<line x1="373.12" y1="508.2" x2="373.12" y2="510.7" stroke="#c8403c" stroke-width="0.6"/>
<line x1="377.25" y1="508.2" x2="377.25" y2="510.7" stroke="#c8403c" stroke-width="0.6"/>
<line x1="380.34" y1="508.2" x2="380.34" y2="510.7" stroke="#c8403c" stroke-width="0.6"/>
<line x1="406.14" y1="514.2" x2="406.14" y2="516.7" stroke="#c8403c" stroke-width="0.6"/>
<line x1="422.66" y1="514.2" x2="422.66" y2="516.7" stroke="#c8403c" stroke-width="0.6"/>
<line x1="412.2" y1="456.5" x2="415.4" y2="456.5" stroke="#2f7fc0" stroke-width="0.8"/>
<line x1="413.8" y1="454.9" x2="413.8" y2="458.1" stroke="#2f7fc0" stroke-width="0.8"/>
<text x="419.6" y="458.2" font-size="4.8" text-anchor="start" fill="#333" textLength="22" lengthAdjust="spacingAndGlyphs">Q1 Q2 Q3</text>
<line x1="412.2" y1="463.3" x2="415.4" y2="463.3" stroke="#c8403c" stroke-width="0.8"/>
<line x1="413.8" y1="461.7" x2="413.8" y2="464.9" stroke="#c8403c" stroke-width="0.8"/>
<text x="419.6" y="465" font-size="4.8" text-anchor="start" fill="#333">Q4</text>
<text x="334" y="524" font-size="5" text-anchor="start" fill="#333" textLength="20" lengthAdjust="spacingAndGlyphs">P &lt; 0.001</text>
<text x="311.6" y="489.8" font-size="8.6" text-anchor="middle" fill="#111" transform="rotate(-90 311.6 489.8)" textLength="87.8" lengthAdjust="spacingAndGlyphs">Overall survival (fraction)</text>
<text x="339.7" y="550.6" font-size="8.8" text-anchor="start" fill="#111" textLength="97.8" lengthAdjust="spacingAndGlyphs">Time since diagnosis (years)</text>
<text x="385.2" y="573.2" font-size="5.8" text-anchor="middle" fill="#222">HLF</text>
<line x1="385.2" y1="575.4" x2="385.2" y2="582" stroke="#111" stroke-width="0.8"/>
<path d="M385.2 584.6 L383.6 580.8 L386.8 580.8 Z" fill="#111"/>
<text x="384.8" y="591.8" font-size="6.6" text-anchor="middle" fill="#2f86c6" textLength="13.6" lengthAdjust="spacingAndGlyphs">HES1</text>
<text x="385.4" y="599.6" font-size="6.8" text-anchor="middle" fill="#2f86c6" textLength="10.8" lengthAdjust="spacingAndGlyphs">p57</text>
<text x="385.2" y="606.4" font-size="6" text-anchor="middle" fill="#2f86c6">?</text>
<line x1="397.1" y1="598.2" x2="397.1" y2="590" stroke="#2f86c6" stroke-width="1.2"/>
<path d="M397.1 586.6 L394.9 591.4 L399.3 591.4 Z" fill="#2f86c6"/>
<line x1="376.6" y1="601.4" x2="368.8" y2="606.4" stroke="#111" stroke-width="0.9"/>
<line x1="366.8" y1="604.2" x2="369.8" y2="609.4" stroke="#111" stroke-width="1"/>
<line x1="392.2" y1="603.4" x2="397" y2="608" stroke="#111" stroke-width="0.9"/>
<path d="M399.2 610.0 L394.8 608.4 L397.4 605.8 Z" fill="#111"/>
<text x="329.3" y="609.3" font-size="6.4" text-anchor="middle" fill="#c0494a" textLength="39" lengthAdjust="spacingAndGlyphs">CD34+GPR56+</text>
<text x="332.5" y="618.6" font-size="6.4" text-anchor="middle" fill="#c0494a" textLength="55.8" lengthAdjust="spacingAndGlyphs">accelerated cell cycle</text>
<text x="320.2" y="626.4" font-size="6.4" text-anchor="middle" fill="#c0494a" textLength="31.2" lengthAdjust="spacingAndGlyphs">progression</text>
<text x="326.1" y="634.2" font-size="6.4" text-anchor="middle" fill="#c0494a" textLength="29.8" lengthAdjust="spacingAndGlyphs">exhaustion</text>
<line x1="359.4" y1="603.6" x2="359.4" y2="607.4" stroke="#c0494a" stroke-width="0.9"/>
<path d="M359.4 609.6 L357.8 606.4 L361.0 606.4 Z" fill="#c0494a"/>
<text x="422.2" y="609.6" font-size="6.4" text-anchor="middle" fill="#2f86c6" textLength="39.7" lengthAdjust="spacingAndGlyphs">CD34+GPR56+</text>
<text x="419" y="618.2" font-size="6.4" text-anchor="middle" fill="#2f86c6" textLength="36.9" lengthAdjust="spacingAndGlyphs">slow cell cycle</text>
<text x="416" y="625.8" font-size="6.4" text-anchor="middle" fill="#2f86c6" textLength="31" lengthAdjust="spacingAndGlyphs">progression</text>
<text x="422.8" y="633.6" font-size="6.4" text-anchor="middle" fill="#2f86c6" textLength="32.3" lengthAdjust="spacingAndGlyphs">self-renewal</text>
<line x1="451.5" y1="609.6" x2="451.5" y2="606.4" stroke="#2f86c6" stroke-width="0.9"/>
<path d="M451.5 603.8 L450.0 607.2 L453.0 607.2 Z" fill="#2f86c6"/>
<circle cx="383.4" cy="623.6" r="11.4" fill="none" stroke="#d9d5d5" stroke-width="5"/>
<path d="M382.0 612.6 A11 11 0 0 1 394.2 622.6" fill="none" stroke="#c25a50" stroke-width="1" stroke-dasharray="1.4 0.5"/>
<path d="M394.2 626.0 L392.2 622.2 L396.0 622.2 Z" fill="#b84a3e"/>
<path d="M395.0 617.0 A12 12 0 0 1 395.0 628.6" fill="none" stroke="#3a8ed0" stroke-width="1.3" stroke-dasharray="1.4 0.5"/>
<path d="M392.0 631.2 L394.0 627.4 L396.2 630.4 Z" fill="#1f78c4"/>
<text x="387" y="620" font-size="4.4" text-anchor="middle" fill="#333">S</text>
<text x="378.6" y="627.2" font-size="4.4" text-anchor="middle" fill="#333">G1</text>
<text x="388.4" y="627.2" font-size="4.4" text-anchor="middle" fill="#333">G2</text>
<text x="384.6" y="631.8" font-size="4.4" text-anchor="middle" fill="#333">M</text>
<text x="361.3" y="634" font-size="4.4" text-anchor="middle" fill="#555">G0</text>
<path d="M364.0 628.6 C365.6 626.8 367.6 626.4 369.4 627.0" fill="none" stroke="#d0d0d0" stroke-width="1.8"/>
<path d="M370.6 627.4 L367.6 625.0 L367.4 629.0 Z" fill="#d0d0d0"/>
<path d="M370.0 635.4 C368.4 637.2 366.4 637.6 364.6 637.0" fill="none" stroke="#d0d0d0" stroke-width="1.8"/>
<path d="M363.4 636.6 L366.4 639.0 L366.6 635.0 Z" fill="#d0d0d0"/>
<rect x="0" y="0" width="520" height="1.5" fill="#464646"/>
<rect x="0" y="0" width="1.5" height="660" fill="#4a4a4a"/>
<rect x="518.4" y="0" width="1.6" height="660" fill="#4a4a4a"/>
<rect x="0" y="658.5" width="520" height="1.5" fill="#151515"/>
</svg>
</body></html>
